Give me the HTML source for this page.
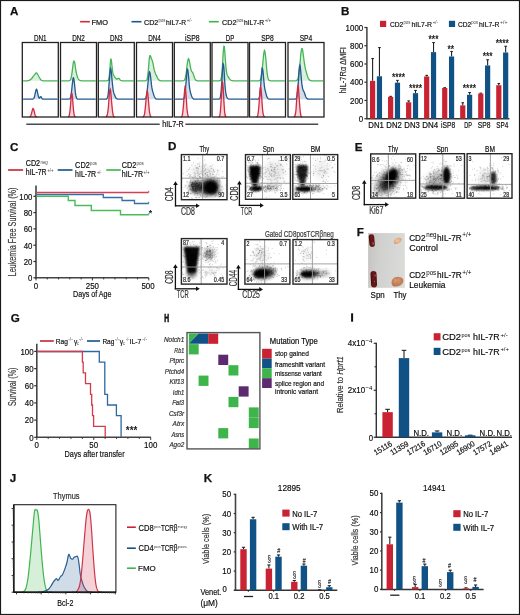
<!DOCTYPE html>
<html><head><meta charset="utf-8"><style>
html,body{margin:0;padding:0;background:#fff;}
svg{display:block;will-change:transform;}
text{font-family:"Liberation Sans", sans-serif;}
text:not([font-weight]){stroke:#2b2b2b;stroke-width:0.2px;}
tspan[font-size]{stroke-width:0.08px;}
</style></head><body>
<svg width="520" height="615" viewBox="0 0 520 615" font-family='"Liberation Sans", sans-serif'>
<rect x="0" y="0" width="520" height="615" fill="#fff"/>
<text x="10.00" y="15.00" font-size="11.6" font-weight="bold" fill="#111" stroke="#111" stroke-width="0.25">A</text>
<text x="341.00" y="15.00" font-size="11.6" font-weight="bold" fill="#111" stroke="#111" stroke-width="0.25">B</text>
<text x="10.00" y="150.80" font-size="11.6" font-weight="bold" fill="#111" stroke="#111" stroke-width="0.25">C</text>
<text x="168.00" y="150.40" font-size="11.6" font-weight="bold" fill="#111" stroke="#111" stroke-width="0.25">D</text>
<text x="354.70" y="150.60" font-size="11.6" font-weight="bold" fill="#111" stroke="#111" stroke-width="0.25">E</text>
<text x="356.70" y="236.00" font-size="11.6" font-weight="bold" fill="#111" stroke="#111" stroke-width="0.25">F</text>
<text x="10.80" y="321.90" font-size="11.6" font-weight="bold" fill="#111" stroke="#111" stroke-width="0.25">G</text>
<text x="164.30" y="321.70" font-size="11.8" textLength="4.90" lengthAdjust="spacingAndGlyphs" font-weight="bold" fill="#111" stroke="#111" stroke-width="0.7">H</text>
<rect x="351.10" y="313.30" width="2.00" height="8.40" fill="#111" />
<text x="9.70" y="481.60" font-size="11.6" font-weight="bold" fill="#111" stroke="#111" stroke-width="0.25">J</text>
<text x="203.80" y="481.90" font-size="11.6" font-weight="bold" fill="#111" stroke="#111" stroke-width="0.25">K</text>
<line x1="80.10" y1="21.70" x2="89.90" y2="21.70" stroke="#d42a3c" stroke-width="1.6" />
<text x="91.60" y="24.80" font-size="7.8" textLength="16.40" lengthAdjust="spacingAndGlyphs" >FMO</text>
<line x1="131.50" y1="21.70" x2="141.50" y2="21.70" stroke="#1f5590" stroke-width="1.6" />
<text x="144.00" y="24.60" font-size="7.9" textLength="14.30" lengthAdjust="spacingAndGlyphs" >CD2</text>
<text x="158.60" y="22.30" font-size="4.6" fill="#444" textLength="6.80" lengthAdjust="spacingAndGlyphs" style="stroke-width:0px" >pos</text>
<text x="166.00" y="24.60" font-size="7.9" textLength="20.10" lengthAdjust="spacingAndGlyphs" >hIL7-R</text>
<text x="186.70" y="22.00" font-size="4.6" fill="#444" textLength="5.20" lengthAdjust="spacingAndGlyphs" style="stroke-width:0px" >+/-</text>
<line x1="208.90" y1="21.70" x2="218.80" y2="21.70" stroke="#3db54a" stroke-width="1.6" />
<text x="222.00" y="24.60" font-size="7.9" textLength="14.40" lengthAdjust="spacingAndGlyphs" >CD2</text>
<text x="236.60" y="22.30" font-size="4.6" fill="#444" textLength="6.90" lengthAdjust="spacingAndGlyphs" style="stroke-width:0px" >pos</text>
<text x="244.00" y="24.60" font-size="7.9" textLength="20.10" lengthAdjust="spacingAndGlyphs" >hIL7-R</text>
<text x="264.70" y="22.00" font-size="4.6" fill="#444" textLength="6.60" lengthAdjust="spacingAndGlyphs" style="stroke-width:0px" >+/+</text>
<g>
<path d="M23.1,80.8 23.5,80.8 23.9,80.8 24.2,80.8 24.6,80.8 25.0,80.8 25.4,80.8 25.8,80.8 26.2,80.8 26.5,80.8 26.9,80.8 27.3,80.8 27.7,80.7 28.1,80.7 28.5,80.6 28.8,80.5 29.2,80.3 29.6,80.1 30.0,79.9 30.4,79.6 30.7,79.4 31.1,79.1 31.5,78.7 31.9,78.3 32.3,77.7 32.7,77.2 33.0,76.6 33.4,76.1 33.8,75.7 34.2,75.2 34.6,74.7 34.9,74.3 35.3,73.8 35.7,73.3 36.1,73.0 36.5,73.0 36.9,73.2 37.2,73.7 37.6,74.3 38.0,75.0 38.4,75.8 38.8,76.5 39.2,77.1 39.5,77.8 39.9,78.4 40.3,79.0 40.7,79.5 41.1,80.0 41.4,80.3 41.8,80.5 42.2,80.7 42.6,80.7 43.0,80.8 43.4,80.8 43.7,80.8 44.1,80.8 44.5,80.8 44.9,80.8 45.3,80.8 45.7,80.8 46.0,80.8 46.4,80.8 46.8,80.8 47.2,80.8 47.6,80.8 47.9,80.8 48.3,80.8 48.7,80.8 49.1,80.8 49.5,80.8 49.9,80.8 50.2,80.8 50.6,80.8 51.0,80.8 51.4,80.8 51.8,80.8 52.1,80.8 52.5,80.8 52.9,80.8 53.3,80.8 53.7,80.8 54.1,80.8 54.4,80.8 54.8,80.8 55.2,80.8 55.6,80.8 56.0,80.8 56.4,80.8 56.7,80.8 57.1,80.8 57.5,80.8 L57.50,80.80 L23.10,80.80Z" fill="#45b556" fill-opacity="0.2" stroke="none"/>
<path d="M23.1,80.8 23.5,80.8 23.9,80.8 24.2,80.8 24.6,80.8 25.0,80.8 25.4,80.8 25.8,80.8 26.2,80.8 26.5,80.8 26.9,80.8 27.3,80.8 27.7,80.7 28.1,80.7 28.5,80.6 28.8,80.5 29.2,80.3 29.6,80.1 30.0,79.9 30.4,79.6 30.7,79.4 31.1,79.1 31.5,78.7 31.9,78.3 32.3,77.7 32.7,77.2 33.0,76.6 33.4,76.1 33.8,75.7 34.2,75.2 34.6,74.7 34.9,74.3 35.3,73.8 35.7,73.3 36.1,73.0 36.5,73.0 36.9,73.2 37.2,73.7 37.6,74.3 38.0,75.0 38.4,75.8 38.8,76.5 39.2,77.1 39.5,77.8 39.9,78.4 40.3,79.0 40.7,79.5 41.1,80.0 41.4,80.3 41.8,80.5 42.2,80.7 42.6,80.7 43.0,80.8 43.4,80.8 43.7,80.8 44.1,80.8 44.5,80.8 44.9,80.8 45.3,80.8 45.7,80.8 46.0,80.8 46.4,80.8 46.8,80.8 47.2,80.8 47.6,80.8 47.9,80.8 48.3,80.8 48.7,80.8 49.1,80.8 49.5,80.8 49.9,80.8 50.2,80.8 50.6,80.8 51.0,80.8 51.4,80.8 51.8,80.8 52.1,80.8 52.5,80.8 52.9,80.8 53.3,80.8 53.7,80.8 54.1,80.8 54.4,80.8 54.8,80.8 55.2,80.8 55.6,80.8 56.0,80.8 56.4,80.8 56.7,80.8 57.1,80.8 57.5,80.8" fill="none" stroke="#45b556" stroke-width="1.3"/>
<path d="M23.1,99.2 23.5,99.2 23.9,99.2 24.2,99.2 24.6,99.2 25.0,99.2 25.4,99.2 25.8,99.2 26.2,99.2 26.5,99.2 26.9,99.2 27.3,99.2 27.7,99.2 28.1,99.2 28.5,99.2 28.8,99.2 29.2,99.2 29.6,99.2 30.0,99.2 30.4,99.2 30.7,99.2 31.1,99.2 31.5,99.2 31.9,99.2 32.3,99.2 32.7,99.1 33.0,99.0 33.4,98.8 33.8,98.4 34.2,97.6 34.6,96.5 34.9,94.9 35.3,93.0 35.7,91.1 36.1,89.8 36.5,89.2 36.9,89.6 37.2,90.9 37.6,92.8 38.0,94.6 38.4,96.3 38.8,97.4 39.2,98.0 39.5,98.0 39.9,97.6 40.3,97.0 40.7,96.6 41.1,96.7 41.4,97.3 41.8,98.1 42.2,98.7 42.6,99.0 43.0,99.1 43.4,99.2 43.7,99.2 44.1,99.2 44.5,99.2 44.9,99.2 45.3,99.2 45.7,99.2 46.0,99.2 46.4,99.2 46.8,99.2 47.2,99.2 47.6,99.2 47.9,99.2 48.3,99.2 48.7,99.2 49.1,99.2 49.5,99.2 49.9,99.2 50.2,99.2 50.6,99.2 51.0,99.2 51.4,99.2 51.8,99.2 52.1,99.2 52.5,99.2 52.9,99.2 53.3,99.2 53.7,99.2 54.1,99.2 54.4,99.2 54.8,99.2 55.2,99.2 55.6,99.2 56.0,99.2 56.4,99.2 56.7,99.2 57.1,99.2 57.5,99.2 L57.50,99.20 L23.10,99.20Z" fill="#22598f" fill-opacity="0.2" stroke="none"/>
<path d="M23.1,99.2 23.5,99.2 23.9,99.2 24.2,99.2 24.6,99.2 25.0,99.2 25.4,99.2 25.8,99.2 26.2,99.2 26.5,99.2 26.9,99.2 27.3,99.2 27.7,99.2 28.1,99.2 28.5,99.2 28.8,99.2 29.2,99.2 29.6,99.2 30.0,99.2 30.4,99.2 30.7,99.2 31.1,99.2 31.5,99.2 31.9,99.2 32.3,99.2 32.7,99.1 33.0,99.0 33.4,98.8 33.8,98.4 34.2,97.6 34.6,96.5 34.9,94.9 35.3,93.0 35.7,91.1 36.1,89.8 36.5,89.2 36.9,89.6 37.2,90.9 37.6,92.8 38.0,94.6 38.4,96.3 38.8,97.4 39.2,98.0 39.5,98.0 39.9,97.6 40.3,97.0 40.7,96.6 41.1,96.7 41.4,97.3 41.8,98.1 42.2,98.7 42.6,99.0 43.0,99.1 43.4,99.2 43.7,99.2 44.1,99.2 44.5,99.2 44.9,99.2 45.3,99.2 45.7,99.2 46.0,99.2 46.4,99.2 46.8,99.2 47.2,99.2 47.6,99.2 47.9,99.2 48.3,99.2 48.7,99.2 49.1,99.2 49.5,99.2 49.9,99.2 50.2,99.2 50.6,99.2 51.0,99.2 51.4,99.2 51.8,99.2 52.1,99.2 52.5,99.2 52.9,99.2 53.3,99.2 53.7,99.2 54.1,99.2 54.4,99.2 54.8,99.2 55.2,99.2 55.6,99.2 56.0,99.2 56.4,99.2 56.7,99.2 57.1,99.2 57.5,99.2" fill="none" stroke="#22598f" stroke-width="1.3"/>
<path d="M23.1,117.0 23.5,117.0 23.9,117.0 24.2,117.0 24.6,117.0 25.0,117.0 25.4,117.0 25.8,117.0 26.2,117.0 26.5,117.0 26.9,117.0 27.3,117.0 27.7,117.0 28.1,117.0 28.5,117.0 28.8,117.0 29.2,117.0 29.6,116.9 30.0,116.7 30.4,116.4 30.7,115.8 31.1,114.8 31.5,113.5 31.9,111.9 32.3,110.3 32.7,109.1 33.0,108.5 33.4,108.8 33.8,109.8 34.2,111.3 34.6,113.0 34.9,114.4 35.3,115.5 35.7,116.2 36.1,116.6 36.5,116.8 36.9,116.9 37.2,117.0 37.6,117.0 38.0,117.0 38.4,117.0 38.8,117.0 39.2,117.0 39.5,117.0 39.9,117.0 40.3,117.0 40.7,117.0 41.1,117.0 41.4,117.0 41.8,117.0 42.2,117.0 42.6,117.0 43.0,117.0 43.4,117.0 43.7,117.0 44.1,117.0 44.5,117.0 44.9,117.0 45.3,117.0 45.7,117.0 46.0,117.0 46.4,117.0 46.8,117.0 47.2,117.0 47.6,117.0 47.9,117.0 48.3,117.0 48.7,117.0 49.1,117.0 49.5,117.0 49.9,117.0 50.2,117.0 50.6,117.0 51.0,117.0 51.4,117.0 51.8,117.0 52.1,117.0 52.5,117.0 52.9,117.0 53.3,117.0 53.7,117.0 54.1,117.0 54.4,117.0 54.8,117.0 55.2,117.0 55.6,117.0 56.0,117.0 56.4,117.0 56.7,117.0 57.1,117.0 57.5,117.0 L57.50,117.00 L23.10,117.00Z" fill="#d22a40" fill-opacity="0.2" stroke="none"/>
<path d="M29.6,116.9 30.0,116.7 30.4,116.4 30.7,115.8 31.1,114.8 31.5,113.5 31.9,111.9 32.3,110.3 32.7,109.1 33.0,108.5 33.4,108.8 33.8,109.8 34.2,111.3 34.6,113.0 34.9,114.4 35.3,115.5 35.7,116.2 36.1,116.6 36.5,116.8 36.9,116.9" fill="none" stroke="#d22a40" stroke-width="1.3"/>
</g>
<rect x="22.30" y="42.50" width="36.00" height="74.50" fill="none" stroke="#222" stroke-width="1.3" />
<text x="40.30" y="41.00" font-size="9" text-anchor="middle" textLength="12.70" lengthAdjust="spacingAndGlyphs" >DN1</text>
<g>
<path d="M61.3,80.8 61.7,80.8 62.1,80.8 62.4,80.8 62.8,80.8 63.2,80.8 63.6,80.8 64.0,80.8 64.4,80.8 64.7,80.8 65.1,80.8 65.5,80.8 65.9,80.8 66.3,80.8 66.7,80.8 67.0,80.8 67.4,80.8 67.8,80.8 68.2,80.8 68.6,80.8 68.9,80.8 69.3,80.7 69.7,80.5 70.1,80.3 70.5,79.7 70.9,78.8 71.2,77.4 71.6,75.4 72.0,72.8 72.4,69.8 72.8,66.6 73.1,63.9 73.5,61.9 73.9,61.0 74.3,61.3 74.7,62.7 75.1,64.9 75.4,67.4 75.8,69.8 76.2,72.0 76.6,73.9 77.0,75.4 77.4,76.7 77.7,77.7 78.1,78.5 78.5,79.1 78.9,79.6 79.3,80.0 79.6,80.3 80.0,80.5 80.4,80.6 80.8,80.7 81.2,80.7 81.6,80.8 81.9,80.8 82.3,80.8 82.7,80.8 83.1,80.8 83.5,80.8 83.9,80.8 84.2,80.8 84.6,80.8 85.0,80.8 85.4,80.8 85.8,80.8 86.1,80.8 86.5,80.8 86.9,80.8 87.3,80.8 87.7,80.8 88.1,80.8 88.4,80.8 88.8,80.8 89.2,80.8 89.6,80.8 90.0,80.8 90.3,80.8 90.7,80.8 91.1,80.8 91.5,80.8 91.9,80.8 92.3,80.8 92.6,80.8 93.0,80.8 93.4,80.8 93.8,80.8 94.2,80.8 94.6,80.8 94.9,80.8 95.3,80.8 95.7,80.8 L95.70,80.80 L61.30,80.80Z" fill="#45b556" fill-opacity="0.2" stroke="none"/>
<path d="M61.3,80.8 61.7,80.8 62.1,80.8 62.4,80.8 62.8,80.8 63.2,80.8 63.6,80.8 64.0,80.8 64.4,80.8 64.7,80.8 65.1,80.8 65.5,80.8 65.9,80.8 66.3,80.8 66.7,80.8 67.0,80.8 67.4,80.8 67.8,80.8 68.2,80.8 68.6,80.8 68.9,80.8 69.3,80.7 69.7,80.5 70.1,80.3 70.5,79.7 70.9,78.8 71.2,77.4 71.6,75.4 72.0,72.8 72.4,69.8 72.8,66.6 73.1,63.9 73.5,61.9 73.9,61.0 74.3,61.3 74.7,62.7 75.1,64.9 75.4,67.4 75.8,69.8 76.2,72.0 76.6,73.9 77.0,75.4 77.4,76.7 77.7,77.7 78.1,78.5 78.5,79.1 78.9,79.6 79.3,80.0 79.6,80.3 80.0,80.5 80.4,80.6 80.8,80.7 81.2,80.7 81.6,80.8 81.9,80.8 82.3,80.8 82.7,80.8 83.1,80.8 83.5,80.8 83.9,80.8 84.2,80.8 84.6,80.8 85.0,80.8 85.4,80.8 85.8,80.8 86.1,80.8 86.5,80.8 86.9,80.8 87.3,80.8 87.7,80.8 88.1,80.8 88.4,80.8 88.8,80.8 89.2,80.8 89.6,80.8 90.0,80.8 90.3,80.8 90.7,80.8 91.1,80.8 91.5,80.8 91.9,80.8 92.3,80.8 92.6,80.8 93.0,80.8 93.4,80.8 93.8,80.8 94.2,80.8 94.6,80.8 94.9,80.8 95.3,80.8 95.7,80.8" fill="none" stroke="#45b556" stroke-width="1.3"/>
<path d="M61.3,99.2 61.7,99.2 62.1,99.2 62.4,99.2 62.8,99.2 63.2,99.2 63.6,99.2 64.0,99.2 64.4,99.2 64.7,99.2 65.1,99.2 65.5,99.2 65.9,99.2 66.3,99.2 66.7,99.2 67.0,99.2 67.4,99.2 67.8,99.2 68.2,99.2 68.6,99.2 68.9,99.1 69.3,99.0 69.7,98.8 70.1,98.4 70.5,97.5 70.9,96.0 71.2,93.8 71.6,90.8 72.0,87.1 72.4,83.4 72.8,80.1 73.1,78.1 73.5,77.8 73.9,79.3 74.3,82.2 74.7,85.9 75.1,89.7 75.4,92.9 75.8,95.4 76.2,97.1 76.6,98.1 77.0,98.7 77.4,99.0 77.7,99.1 78.1,99.2 78.5,99.2 78.9,99.2 79.3,99.2 79.6,99.2 80.0,99.2 80.4,99.2 80.8,99.2 81.2,99.2 81.6,99.2 81.9,99.2 82.3,99.2 82.7,99.2 83.1,99.2 83.5,99.2 83.9,99.2 84.2,99.2 84.6,99.2 85.0,99.2 85.4,99.2 85.8,99.2 86.1,99.2 86.5,99.2 86.9,99.2 87.3,99.2 87.7,99.2 88.1,99.2 88.4,99.2 88.8,99.2 89.2,99.2 89.6,99.2 90.0,99.2 90.3,99.2 90.7,99.2 91.1,99.2 91.5,99.2 91.9,99.2 92.3,99.2 92.6,99.2 93.0,99.2 93.4,99.2 93.8,99.2 94.2,99.2 94.6,99.2 94.9,99.2 95.3,99.2 95.7,99.2 L95.70,99.20 L61.30,99.20Z" fill="#22598f" fill-opacity="0.2" stroke="none"/>
<path d="M61.3,99.2 61.7,99.2 62.1,99.2 62.4,99.2 62.8,99.2 63.2,99.2 63.6,99.2 64.0,99.2 64.4,99.2 64.7,99.2 65.1,99.2 65.5,99.2 65.9,99.2 66.3,99.2 66.7,99.2 67.0,99.2 67.4,99.2 67.8,99.2 68.2,99.2 68.6,99.2 68.9,99.1 69.3,99.0 69.7,98.8 70.1,98.4 70.5,97.5 70.9,96.0 71.2,93.8 71.6,90.8 72.0,87.1 72.4,83.4 72.8,80.1 73.1,78.1 73.5,77.8 73.9,79.3 74.3,82.2 74.7,85.9 75.1,89.7 75.4,92.9 75.8,95.4 76.2,97.1 76.6,98.1 77.0,98.7 77.4,99.0 77.7,99.1 78.1,99.2 78.5,99.2 78.9,99.2 79.3,99.2 79.6,99.2 80.0,99.2 80.4,99.2 80.8,99.2 81.2,99.2 81.6,99.2 81.9,99.2 82.3,99.2 82.7,99.2 83.1,99.2 83.5,99.2 83.9,99.2 84.2,99.2 84.6,99.2 85.0,99.2 85.4,99.2 85.8,99.2 86.1,99.2 86.5,99.2 86.9,99.2 87.3,99.2 87.7,99.2 88.1,99.2 88.4,99.2 88.8,99.2 89.2,99.2 89.6,99.2 90.0,99.2 90.3,99.2 90.7,99.2 91.1,99.2 91.5,99.2 91.9,99.2 92.3,99.2 92.6,99.2 93.0,99.2 93.4,99.2 93.8,99.2 94.2,99.2 94.6,99.2 94.9,99.2 95.3,99.2 95.7,99.2" fill="none" stroke="#22598f" stroke-width="1.3"/>
<path d="M61.3,117.0 61.7,117.0 62.1,117.0 62.4,117.0 62.8,117.0 63.2,117.0 63.6,117.0 64.0,117.0 64.4,117.0 64.7,117.0 65.1,117.0 65.5,117.0 65.9,117.0 66.3,117.0 66.7,117.0 67.0,117.0 67.4,117.0 67.8,117.0 68.2,116.9 68.6,116.7 68.9,116.2 69.3,115.1 69.7,113.1 70.1,109.8 70.5,105.4 70.9,100.4 71.2,95.9 71.6,93.3 72.0,93.4 72.4,96.2 72.8,100.7 73.1,105.7 73.5,110.0 73.9,113.2 74.3,115.2 74.7,116.2 75.1,116.7 75.4,116.9 75.8,117.0 76.2,117.0 76.6,117.0 77.0,117.0 77.4,117.0 77.7,117.0 78.1,117.0 78.5,117.0 78.9,117.0 79.3,117.0 79.6,117.0 80.0,117.0 80.4,117.0 80.8,117.0 81.2,117.0 81.6,117.0 81.9,117.0 82.3,117.0 82.7,117.0 83.1,117.0 83.5,117.0 83.9,117.0 84.2,117.0 84.6,117.0 85.0,117.0 85.4,117.0 85.8,117.0 86.1,117.0 86.5,117.0 86.9,117.0 87.3,117.0 87.7,117.0 88.1,117.0 88.4,117.0 88.8,117.0 89.2,117.0 89.6,117.0 90.0,117.0 90.3,117.0 90.7,117.0 91.1,117.0 91.5,117.0 91.9,117.0 92.3,117.0 92.6,117.0 93.0,117.0 93.4,117.0 93.8,117.0 94.2,117.0 94.6,117.0 94.9,117.0 95.3,117.0 95.7,117.0 L95.70,117.00 L61.30,117.00Z" fill="#d22a40" fill-opacity="0.2" stroke="none"/>
<path d="M68.2,116.9 68.6,116.7 68.9,116.2 69.3,115.1 69.7,113.1 70.1,109.8 70.5,105.4 70.9,100.4 71.2,95.9 71.6,93.3 72.0,93.4 72.4,96.2 72.8,100.7 73.1,105.7 73.5,110.0 73.9,113.2 74.3,115.2 74.7,116.2 75.1,116.7 75.4,116.9" fill="none" stroke="#d22a40" stroke-width="1.3"/>
</g>
<rect x="60.50" y="42.50" width="36.00" height="74.50" fill="none" stroke="#222" stroke-width="1.3" />
<text x="78.50" y="41.00" font-size="9" text-anchor="middle" textLength="12.70" lengthAdjust="spacingAndGlyphs" >DN2</text>
<g>
<path d="M99.1,80.8 99.5,80.8 99.9,80.8 100.2,80.8 100.6,80.8 101.0,80.8 101.4,80.8 101.8,80.8 102.2,80.8 102.5,80.8 102.9,80.8 103.3,80.8 103.7,80.8 104.1,80.8 104.5,80.8 104.8,80.8 105.2,80.8 105.6,80.8 106.0,80.8 106.4,80.8 106.7,80.8 107.1,80.7 107.5,80.7 107.9,80.5 108.3,80.2 108.7,79.4 109.0,77.7 109.4,74.8 109.8,70.3 110.2,65.0 110.6,60.6 110.9,58.6 111.3,59.8 111.7,63.3 112.1,67.3 112.5,70.7 112.9,72.9 113.2,74.2 113.6,75.1 114.0,75.8 114.4,76.5 114.8,77.1 115.2,77.7 115.5,78.2 115.9,78.6 116.3,78.9 116.7,79.1 117.1,79.1 117.4,78.9 117.8,78.7 118.2,78.4 118.6,78.3 119.0,78.4 119.4,78.8 119.7,79.3 120.1,79.8 120.5,80.2 120.9,80.5 121.3,80.7 121.7,80.7 122.0,80.8 122.4,80.8 122.8,80.8 123.2,80.8 123.6,80.8 123.9,80.8 124.3,80.8 124.7,80.8 125.1,80.8 125.5,80.8 125.9,80.8 126.2,80.8 126.6,80.8 127.0,80.8 127.4,80.8 127.8,80.8 128.1,80.8 128.5,80.8 128.9,80.8 129.3,80.8 129.7,80.8 130.1,80.8 130.4,80.8 130.8,80.8 131.2,80.8 131.6,80.8 132.0,80.8 132.4,80.8 132.7,80.8 133.1,80.8 133.5,80.8 L133.50,80.80 L99.10,80.80Z" fill="#45b556" fill-opacity="0.2" stroke="none"/>
<path d="M99.1,80.8 99.5,80.8 99.9,80.8 100.2,80.8 100.6,80.8 101.0,80.8 101.4,80.8 101.8,80.8 102.2,80.8 102.5,80.8 102.9,80.8 103.3,80.8 103.7,80.8 104.1,80.8 104.5,80.8 104.8,80.8 105.2,80.8 105.6,80.8 106.0,80.8 106.4,80.8 106.7,80.8 107.1,80.7 107.5,80.7 107.9,80.5 108.3,80.2 108.7,79.4 109.0,77.7 109.4,74.8 109.8,70.3 110.2,65.0 110.6,60.6 110.9,58.6 111.3,59.8 111.7,63.3 112.1,67.3 112.5,70.7 112.9,72.9 113.2,74.2 113.6,75.1 114.0,75.8 114.4,76.5 114.8,77.1 115.2,77.7 115.5,78.2 115.9,78.6 116.3,78.9 116.7,79.1 117.1,79.1 117.4,78.9 117.8,78.7 118.2,78.4 118.6,78.3 119.0,78.4 119.4,78.8 119.7,79.3 120.1,79.8 120.5,80.2 120.9,80.5 121.3,80.7 121.7,80.7 122.0,80.8 122.4,80.8 122.8,80.8 123.2,80.8 123.6,80.8 123.9,80.8 124.3,80.8 124.7,80.8 125.1,80.8 125.5,80.8 125.9,80.8 126.2,80.8 126.6,80.8 127.0,80.8 127.4,80.8 127.8,80.8 128.1,80.8 128.5,80.8 128.9,80.8 129.3,80.8 129.7,80.8 130.1,80.8 130.4,80.8 130.8,80.8 131.2,80.8 131.6,80.8 132.0,80.8 132.4,80.8 132.7,80.8 133.1,80.8 133.5,80.8" fill="none" stroke="#45b556" stroke-width="1.3"/>
<path d="M99.1,99.2 99.5,99.2 99.9,99.2 100.2,99.2 100.6,99.2 101.0,99.2 101.4,99.2 101.8,99.2 102.2,99.2 102.5,99.2 102.9,99.2 103.3,99.2 103.7,99.2 104.1,99.2 104.5,99.2 104.8,99.2 105.2,99.2 105.6,99.2 106.0,99.1 106.4,99.1 106.7,98.8 107.1,98.4 107.5,97.4 107.9,95.8 108.3,93.1 108.7,89.4 109.0,84.6 109.4,79.2 109.8,74.1 110.2,70.3 110.6,68.5 110.9,69.1 111.3,71.8 111.7,76.0 112.1,80.5 112.5,84.7 112.9,88.0 113.2,90.5 113.6,92.2 114.0,93.5 114.4,94.6 114.8,95.5 115.2,96.4 115.5,97.2 115.9,97.8 116.3,98.3 116.7,98.7 117.1,98.9 117.4,99.0 117.8,99.1 118.2,99.2 118.6,99.2 119.0,99.2 119.4,99.2 119.7,99.2 120.1,99.2 120.5,99.2 120.9,99.2 121.3,99.2 121.7,99.2 122.0,99.2 122.4,99.2 122.8,99.2 123.2,99.2 123.6,99.2 123.9,99.2 124.3,99.2 124.7,99.2 125.1,99.2 125.5,99.2 125.9,99.2 126.2,99.2 126.6,99.2 127.0,99.2 127.4,99.2 127.8,99.2 128.1,99.2 128.5,99.2 128.9,99.2 129.3,99.2 129.7,99.2 130.1,99.2 130.4,99.2 130.8,99.2 131.2,99.2 131.6,99.2 132.0,99.2 132.4,99.2 132.7,99.2 133.1,99.2 133.5,99.2 L133.50,99.20 L99.10,99.20Z" fill="#22598f" fill-opacity="0.2" stroke="none"/>
<path d="M99.1,99.2 99.5,99.2 99.9,99.2 100.2,99.2 100.6,99.2 101.0,99.2 101.4,99.2 101.8,99.2 102.2,99.2 102.5,99.2 102.9,99.2 103.3,99.2 103.7,99.2 104.1,99.2 104.5,99.2 104.8,99.2 105.2,99.2 105.6,99.2 106.0,99.1 106.4,99.1 106.7,98.8 107.1,98.4 107.5,97.4 107.9,95.8 108.3,93.1 108.7,89.4 109.0,84.6 109.4,79.2 109.8,74.1 110.2,70.3 110.6,68.5 110.9,69.1 111.3,71.8 111.7,76.0 112.1,80.5 112.5,84.7 112.9,88.0 113.2,90.5 113.6,92.2 114.0,93.5 114.4,94.6 114.8,95.5 115.2,96.4 115.5,97.2 115.9,97.8 116.3,98.3 116.7,98.7 117.1,98.9 117.4,99.0 117.8,99.1 118.2,99.2 118.6,99.2 119.0,99.2 119.4,99.2 119.7,99.2 120.1,99.2 120.5,99.2 120.9,99.2 121.3,99.2 121.7,99.2 122.0,99.2 122.4,99.2 122.8,99.2 123.2,99.2 123.6,99.2 123.9,99.2 124.3,99.2 124.7,99.2 125.1,99.2 125.5,99.2 125.9,99.2 126.2,99.2 126.6,99.2 127.0,99.2 127.4,99.2 127.8,99.2 128.1,99.2 128.5,99.2 128.9,99.2 129.3,99.2 129.7,99.2 130.1,99.2 130.4,99.2 130.8,99.2 131.2,99.2 131.6,99.2 132.0,99.2 132.4,99.2 132.7,99.2 133.1,99.2 133.5,99.2" fill="none" stroke="#22598f" stroke-width="1.3"/>
<path d="M99.1,117.0 99.5,117.0 99.9,117.0 100.2,117.0 100.6,117.0 101.0,117.0 101.4,117.0 101.8,117.0 102.2,117.0 102.5,117.0 102.9,117.0 103.3,117.0 103.7,117.0 104.1,117.0 104.5,117.0 104.8,117.0 105.2,117.0 105.6,116.9 106.0,116.9 106.4,116.6 106.7,116.2 107.1,115.3 107.5,113.7 107.9,111.3 108.3,107.7 108.7,103.3 109.0,98.4 109.4,93.8 109.8,90.5 110.2,89.2 110.6,90.3 110.9,93.5 111.3,98.0 111.7,102.9 112.1,107.4 112.5,111.0 112.9,113.6 113.2,115.2 113.6,116.1 114.0,116.6 114.4,116.8 114.8,116.9 115.2,117.0 115.5,117.0 115.9,117.0 116.3,117.0 116.7,117.0 117.1,117.0 117.4,117.0 117.8,117.0 118.2,117.0 118.6,117.0 119.0,117.0 119.4,117.0 119.7,117.0 120.1,117.0 120.5,117.0 120.9,117.0 121.3,117.0 121.7,117.0 122.0,117.0 122.4,117.0 122.8,117.0 123.2,117.0 123.6,117.0 123.9,117.0 124.3,117.0 124.7,117.0 125.1,117.0 125.5,117.0 125.9,117.0 126.2,117.0 126.6,117.0 127.0,117.0 127.4,117.0 127.8,117.0 128.1,117.0 128.5,117.0 128.9,117.0 129.3,117.0 129.7,117.0 130.1,117.0 130.4,117.0 130.8,117.0 131.2,117.0 131.6,117.0 132.0,117.0 132.4,117.0 132.7,117.0 133.1,117.0 133.5,117.0 L133.50,117.00 L99.10,117.00Z" fill="#d22a40" fill-opacity="0.2" stroke="none"/>
<path d="M106.0,116.9 106.4,116.6 106.7,116.2 107.1,115.3 107.5,113.7 107.9,111.3 108.3,107.7 108.7,103.3 109.0,98.4 109.4,93.8 109.8,90.5 110.2,89.2 110.6,90.3 110.9,93.5 111.3,98.0 111.7,102.9 112.1,107.4 112.5,111.0 112.9,113.6 113.2,115.2 113.6,116.1 114.0,116.6 114.4,116.8 114.8,116.9" fill="none" stroke="#d22a40" stroke-width="1.3"/>
</g>
<rect x="98.30" y="42.50" width="36.00" height="74.50" fill="none" stroke="#222" stroke-width="1.3" />
<text x="116.30" y="41.00" font-size="9" text-anchor="middle" textLength="12.70" lengthAdjust="spacingAndGlyphs" >DN3</text>
<g>
<path d="M137.3,80.8 137.7,80.8 138.1,80.8 138.4,80.8 138.8,80.8 139.2,80.8 139.6,80.8 140.0,80.8 140.4,80.8 140.7,80.8 141.1,80.8 141.5,80.8 141.9,80.8 142.3,80.8 142.7,80.8 143.0,80.8 143.4,80.8 143.8,80.8 144.2,80.8 144.6,80.8 144.9,80.8 145.3,80.8 145.7,80.8 146.1,80.7 146.5,80.4 146.9,79.9 147.2,78.8 147.6,76.8 148.0,73.7 148.4,69.5 148.8,64.8 149.1,60.4 149.5,57.2 149.9,55.6 150.3,55.7 150.7,56.6 151.1,57.8 151.4,58.7 151.8,59.5 152.2,60.5 152.6,61.7 153.0,63.4 153.4,65.4 153.7,67.5 154.1,69.3 154.5,70.9 154.9,72.1 155.3,73.1 155.6,74.0 156.0,74.8 156.4,75.6 156.8,76.4 157.2,77.3 157.6,78.0 157.9,78.7 158.3,79.3 158.7,79.8 159.1,80.1 159.5,80.4 159.9,80.6 160.2,80.7 160.6,80.7 161.0,80.8 161.4,80.8 161.8,80.8 162.1,80.8 162.5,80.8 162.9,80.8 163.3,80.8 163.7,80.8 164.1,80.8 164.4,80.8 164.8,80.8 165.2,80.8 165.6,80.8 166.0,80.8 166.3,80.8 166.7,80.8 167.1,80.8 167.5,80.8 167.9,80.8 168.3,80.8 168.6,80.8 169.0,80.8 169.4,80.8 169.8,80.8 170.2,80.8 170.6,80.8 170.9,80.8 171.3,80.8 171.7,80.8 L171.70,80.80 L137.30,80.80Z" fill="#45b556" fill-opacity="0.2" stroke="none"/>
<path d="M137.3,80.8 137.7,80.8 138.1,80.8 138.4,80.8 138.8,80.8 139.2,80.8 139.6,80.8 140.0,80.8 140.4,80.8 140.7,80.8 141.1,80.8 141.5,80.8 141.9,80.8 142.3,80.8 142.7,80.8 143.0,80.8 143.4,80.8 143.8,80.8 144.2,80.8 144.6,80.8 144.9,80.8 145.3,80.8 145.7,80.8 146.1,80.7 146.5,80.4 146.9,79.9 147.2,78.8 147.6,76.8 148.0,73.7 148.4,69.5 148.8,64.8 149.1,60.4 149.5,57.2 149.9,55.6 150.3,55.7 150.7,56.6 151.1,57.8 151.4,58.7 151.8,59.5 152.2,60.5 152.6,61.7 153.0,63.4 153.4,65.4 153.7,67.5 154.1,69.3 154.5,70.9 154.9,72.1 155.3,73.1 155.6,74.0 156.0,74.8 156.4,75.6 156.8,76.4 157.2,77.3 157.6,78.0 157.9,78.7 158.3,79.3 158.7,79.8 159.1,80.1 159.5,80.4 159.9,80.6 160.2,80.7 160.6,80.7 161.0,80.8 161.4,80.8 161.8,80.8 162.1,80.8 162.5,80.8 162.9,80.8 163.3,80.8 163.7,80.8 164.1,80.8 164.4,80.8 164.8,80.8 165.2,80.8 165.6,80.8 166.0,80.8 166.3,80.8 166.7,80.8 167.1,80.8 167.5,80.8 167.9,80.8 168.3,80.8 168.6,80.8 169.0,80.8 169.4,80.8 169.8,80.8 170.2,80.8 170.6,80.8 170.9,80.8 171.3,80.8 171.7,80.8" fill="none" stroke="#45b556" stroke-width="1.3"/>
<path d="M137.3,99.2 137.7,99.2 138.1,99.2 138.4,99.2 138.8,99.2 139.2,99.2 139.6,99.2 140.0,99.2 140.4,99.2 140.7,99.2 141.1,99.2 141.5,99.2 141.9,99.2 142.3,99.2 142.7,99.2 143.0,99.2 143.4,99.2 143.8,99.2 144.2,99.1 144.6,99.1 144.9,98.9 145.3,98.6 145.7,98.1 146.1,97.2 146.5,95.7 146.9,93.5 147.2,90.5 147.6,86.9 148.0,82.8 148.4,78.7 148.8,75.2 149.1,72.8 149.5,71.9 149.9,72.6 150.3,74.7 150.7,77.8 151.1,81.2 151.4,84.4 151.8,87.2 152.2,89.3 152.6,91.0 153.0,92.4 153.4,93.6 153.7,94.7 154.1,95.8 154.5,96.7 154.9,97.5 155.3,98.1 155.6,98.6 156.0,98.8 156.4,99.0 156.8,99.1 157.2,99.2 157.6,99.2 157.9,99.2 158.3,99.2 158.7,99.2 159.1,99.2 159.5,99.2 159.9,99.2 160.2,99.2 160.6,99.2 161.0,99.2 161.4,99.2 161.8,99.2 162.1,99.2 162.5,99.2 162.9,99.2 163.3,99.2 163.7,99.2 164.1,99.2 164.4,99.2 164.8,99.2 165.2,99.2 165.6,99.2 166.0,99.2 166.3,99.2 166.7,99.2 167.1,99.2 167.5,99.2 167.9,99.2 168.3,99.2 168.6,99.2 169.0,99.2 169.4,99.2 169.8,99.2 170.2,99.2 170.6,99.2 170.9,99.2 171.3,99.2 171.7,99.2 L171.70,99.20 L137.30,99.20Z" fill="#22598f" fill-opacity="0.2" stroke="none"/>
<path d="M137.3,99.2 137.7,99.2 138.1,99.2 138.4,99.2 138.8,99.2 139.2,99.2 139.6,99.2 140.0,99.2 140.4,99.2 140.7,99.2 141.1,99.2 141.5,99.2 141.9,99.2 142.3,99.2 142.7,99.2 143.0,99.2 143.4,99.2 143.8,99.2 144.2,99.1 144.6,99.1 144.9,98.9 145.3,98.6 145.7,98.1 146.1,97.2 146.5,95.7 146.9,93.5 147.2,90.5 147.6,86.9 148.0,82.8 148.4,78.7 148.8,75.2 149.1,72.8 149.5,71.9 149.9,72.6 150.3,74.7 150.7,77.8 151.1,81.2 151.4,84.4 151.8,87.2 152.2,89.3 152.6,91.0 153.0,92.4 153.4,93.6 153.7,94.7 154.1,95.8 154.5,96.7 154.9,97.5 155.3,98.1 155.6,98.6 156.0,98.8 156.4,99.0 156.8,99.1 157.2,99.2 157.6,99.2 157.9,99.2 158.3,99.2 158.7,99.2 159.1,99.2 159.5,99.2 159.9,99.2 160.2,99.2 160.6,99.2 161.0,99.2 161.4,99.2 161.8,99.2 162.1,99.2 162.5,99.2 162.9,99.2 163.3,99.2 163.7,99.2 164.1,99.2 164.4,99.2 164.8,99.2 165.2,99.2 165.6,99.2 166.0,99.2 166.3,99.2 166.7,99.2 167.1,99.2 167.5,99.2 167.9,99.2 168.3,99.2 168.6,99.2 169.0,99.2 169.4,99.2 169.8,99.2 170.2,99.2 170.6,99.2 170.9,99.2 171.3,99.2 171.7,99.2" fill="none" stroke="#22598f" stroke-width="1.3"/>
<path d="M137.3,117.0 137.7,117.0 138.1,117.0 138.4,117.0 138.8,117.0 139.2,117.0 139.6,117.0 140.0,117.0 140.4,117.0 140.7,117.0 141.1,117.0 141.5,117.0 141.9,117.0 142.3,117.0 142.7,116.9 143.0,116.8 143.4,116.6 143.8,116.2 144.2,115.3 144.6,113.7 144.9,111.3 145.3,107.8 145.7,103.6 146.1,99.0 146.5,94.8 146.9,92.0 147.2,91.1 147.6,92.4 148.0,95.6 148.4,99.9 148.8,104.5 149.1,108.6 149.5,111.8 149.9,114.1 150.3,115.5 150.7,116.3 151.1,116.7 151.4,116.9 151.8,117.0 152.2,117.0 152.6,117.0 153.0,117.0 153.4,117.0 153.7,117.0 154.1,117.0 154.5,117.0 154.9,117.0 155.3,117.0 155.6,117.0 156.0,117.0 156.4,117.0 156.8,117.0 157.2,117.0 157.6,117.0 157.9,117.0 158.3,117.0 158.7,117.0 159.1,117.0 159.5,117.0 159.9,117.0 160.2,117.0 160.6,117.0 161.0,117.0 161.4,117.0 161.8,117.0 162.1,117.0 162.5,117.0 162.9,117.0 163.3,117.0 163.7,117.0 164.1,117.0 164.4,117.0 164.8,117.0 165.2,117.0 165.6,117.0 166.0,117.0 166.3,117.0 166.7,117.0 167.1,117.0 167.5,117.0 167.9,117.0 168.3,117.0 168.6,117.0 169.0,117.0 169.4,117.0 169.8,117.0 170.2,117.0 170.6,117.0 170.9,117.0 171.3,117.0 171.7,117.0 L171.70,117.00 L137.30,117.00Z" fill="#d22a40" fill-opacity="0.2" stroke="none"/>
<path d="M142.7,116.9 143.0,116.8 143.4,116.6 143.8,116.2 144.2,115.3 144.6,113.7 144.9,111.3 145.3,107.8 145.7,103.6 146.1,99.0 146.5,94.8 146.9,92.0 147.2,91.1 147.6,92.4 148.0,95.6 148.4,99.9 148.8,104.5 149.1,108.6 149.5,111.8 149.9,114.1 150.3,115.5 150.7,116.3 151.1,116.7 151.4,116.9" fill="none" stroke="#d22a40" stroke-width="1.3"/>
</g>
<rect x="136.50" y="42.50" width="36.00" height="74.50" fill="none" stroke="#222" stroke-width="1.3" />
<text x="154.50" y="41.00" font-size="9" text-anchor="middle" textLength="12.70" lengthAdjust="spacingAndGlyphs" >DN4</text>
<g>
<path d="M175.1,80.8 175.5,80.8 175.9,80.8 176.2,80.8 176.6,80.8 177.0,80.8 177.4,80.8 177.8,80.8 178.2,80.8 178.5,80.8 178.9,80.8 179.3,80.8 179.7,80.8 180.1,80.8 180.5,80.8 180.8,80.8 181.2,80.8 181.6,80.8 182.0,80.8 182.4,80.8 182.7,80.8 183.1,80.7 183.5,80.7 183.9,80.5 184.3,80.2 184.7,79.7 185.0,78.8 185.4,77.5 185.8,75.5 186.2,73.0 186.6,70.0 186.9,66.8 187.3,63.6 187.7,61.1 188.1,59.4 188.5,58.7 188.9,59.2 189.2,60.4 189.6,62.3 190.0,64.6 190.4,66.8 190.8,68.7 191.2,70.2 191.5,71.1 191.9,71.6 192.3,72.0 192.7,72.6 193.1,73.4 193.4,74.5 193.8,75.7 194.2,76.9 194.6,78.1 195.0,79.0 195.4,79.7 195.7,80.1 196.1,80.4 196.5,80.6 196.9,80.7 197.3,80.8 197.7,80.8 198.0,80.8 198.4,80.8 198.8,80.8 199.2,80.8 199.6,80.8 199.9,80.8 200.3,80.8 200.7,80.8 201.1,80.8 201.5,80.8 201.9,80.8 202.2,80.8 202.6,80.8 203.0,80.8 203.4,80.8 203.8,80.8 204.1,80.8 204.5,80.8 204.9,80.8 205.3,80.8 205.7,80.8 206.1,80.8 206.4,80.8 206.8,80.8 207.2,80.8 207.6,80.8 208.0,80.8 208.4,80.8 208.7,80.8 209.1,80.8 209.5,80.8 L209.50,80.80 L175.10,80.80Z" fill="#45b556" fill-opacity="0.2" stroke="none"/>
<path d="M175.1,80.8 175.5,80.8 175.9,80.8 176.2,80.8 176.6,80.8 177.0,80.8 177.4,80.8 177.8,80.8 178.2,80.8 178.5,80.8 178.9,80.8 179.3,80.8 179.7,80.8 180.1,80.8 180.5,80.8 180.8,80.8 181.2,80.8 181.6,80.8 182.0,80.8 182.4,80.8 182.7,80.8 183.1,80.7 183.5,80.7 183.9,80.5 184.3,80.2 184.7,79.7 185.0,78.8 185.4,77.5 185.8,75.5 186.2,73.0 186.6,70.0 186.9,66.8 187.3,63.6 187.7,61.1 188.1,59.4 188.5,58.7 188.9,59.2 189.2,60.4 189.6,62.3 190.0,64.6 190.4,66.8 190.8,68.7 191.2,70.2 191.5,71.1 191.9,71.6 192.3,72.0 192.7,72.6 193.1,73.4 193.4,74.5 193.8,75.7 194.2,76.9 194.6,78.1 195.0,79.0 195.4,79.7 195.7,80.1 196.1,80.4 196.5,80.6 196.9,80.7 197.3,80.8 197.7,80.8 198.0,80.8 198.4,80.8 198.8,80.8 199.2,80.8 199.6,80.8 199.9,80.8 200.3,80.8 200.7,80.8 201.1,80.8 201.5,80.8 201.9,80.8 202.2,80.8 202.6,80.8 203.0,80.8 203.4,80.8 203.8,80.8 204.1,80.8 204.5,80.8 204.9,80.8 205.3,80.8 205.7,80.8 206.1,80.8 206.4,80.8 206.8,80.8 207.2,80.8 207.6,80.8 208.0,80.8 208.4,80.8 208.7,80.8 209.1,80.8 209.5,80.8" fill="none" stroke="#45b556" stroke-width="1.3"/>
<path d="M175.1,99.2 175.5,99.2 175.9,99.2 176.2,99.2 176.6,99.2 177.0,99.2 177.4,99.2 177.8,99.2 178.2,99.2 178.5,99.2 178.9,99.2 179.3,99.2 179.7,99.2 180.1,99.2 180.5,99.2 180.8,99.2 181.2,99.2 181.6,99.2 182.0,99.2 182.4,99.2 182.7,99.2 183.1,99.1 183.5,98.9 183.9,98.4 184.3,97.6 184.7,96.0 185.0,93.5 185.4,89.9 185.8,85.3 186.2,80.1 186.6,75.0 186.9,71.1 187.3,69.1 187.7,69.5 188.1,72.0 188.5,75.9 188.9,80.3 189.2,84.4 189.6,87.8 190.0,90.3 190.4,92.1 190.8,93.6 191.2,94.8 191.5,95.8 191.9,96.8 192.3,97.6 192.7,98.2 193.1,98.6 193.4,98.9 193.8,99.0 194.2,99.1 194.6,99.2 195.0,99.2 195.4,99.2 195.7,99.2 196.1,99.2 196.5,99.2 196.9,99.2 197.3,99.2 197.7,99.2 198.0,99.2 198.4,99.2 198.8,99.2 199.2,99.2 199.6,99.2 199.9,99.2 200.3,99.2 200.7,99.2 201.1,99.2 201.5,99.2 201.9,99.2 202.2,99.2 202.6,99.2 203.0,99.2 203.4,99.2 203.8,99.2 204.1,99.2 204.5,99.2 204.9,99.2 205.3,99.2 205.7,99.2 206.1,99.2 206.4,99.2 206.8,99.2 207.2,99.2 207.6,99.2 208.0,99.2 208.4,99.2 208.7,99.2 209.1,99.2 209.5,99.2 L209.50,99.20 L175.10,99.20Z" fill="#22598f" fill-opacity="0.2" stroke="none"/>
<path d="M175.1,99.2 175.5,99.2 175.9,99.2 176.2,99.2 176.6,99.2 177.0,99.2 177.4,99.2 177.8,99.2 178.2,99.2 178.5,99.2 178.9,99.2 179.3,99.2 179.7,99.2 180.1,99.2 180.5,99.2 180.8,99.2 181.2,99.2 181.6,99.2 182.0,99.2 182.4,99.2 182.7,99.2 183.1,99.1 183.5,98.9 183.9,98.4 184.3,97.6 184.7,96.0 185.0,93.5 185.4,89.9 185.8,85.3 186.2,80.1 186.6,75.0 186.9,71.1 187.3,69.1 187.7,69.5 188.1,72.0 188.5,75.9 188.9,80.3 189.2,84.4 189.6,87.8 190.0,90.3 190.4,92.1 190.8,93.6 191.2,94.8 191.5,95.8 191.9,96.8 192.3,97.6 192.7,98.2 193.1,98.6 193.4,98.9 193.8,99.0 194.2,99.1 194.6,99.2 195.0,99.2 195.4,99.2 195.7,99.2 196.1,99.2 196.5,99.2 196.9,99.2 197.3,99.2 197.7,99.2 198.0,99.2 198.4,99.2 198.8,99.2 199.2,99.2 199.6,99.2 199.9,99.2 200.3,99.2 200.7,99.2 201.1,99.2 201.5,99.2 201.9,99.2 202.2,99.2 202.6,99.2 203.0,99.2 203.4,99.2 203.8,99.2 204.1,99.2 204.5,99.2 204.9,99.2 205.3,99.2 205.7,99.2 206.1,99.2 206.4,99.2 206.8,99.2 207.2,99.2 207.6,99.2 208.0,99.2 208.4,99.2 208.7,99.2 209.1,99.2 209.5,99.2" fill="none" stroke="#22598f" stroke-width="1.3"/>
<path d="M175.1,117.0 175.5,117.0 175.9,117.0 176.2,117.0 176.6,117.0 177.0,117.0 177.4,117.0 177.8,117.0 178.2,117.0 178.5,117.0 178.9,117.0 179.3,117.0 179.7,117.0 180.1,117.0 180.5,117.0 180.8,116.9 181.2,116.8 181.6,116.6 182.0,116.0 182.4,114.8 182.7,112.7 183.1,109.3 183.5,104.7 183.9,99.2 184.3,93.7 184.7,89.4 185.0,87.4 185.4,88.4 185.8,92.1 186.2,97.3 186.6,103.0 186.9,108.0 187.3,111.7 187.7,114.2 188.1,115.7 188.5,116.4 188.9,116.8 189.2,116.9 189.6,117.0 190.0,117.0 190.4,117.0 190.8,117.0 191.2,117.0 191.5,117.0 191.9,117.0 192.3,117.0 192.7,117.0 193.1,117.0 193.4,117.0 193.8,117.0 194.2,117.0 194.6,117.0 195.0,117.0 195.4,117.0 195.7,117.0 196.1,117.0 196.5,117.0 196.9,117.0 197.3,117.0 197.7,117.0 198.0,117.0 198.4,117.0 198.8,117.0 199.2,117.0 199.6,117.0 199.9,117.0 200.3,117.0 200.7,117.0 201.1,117.0 201.5,117.0 201.9,117.0 202.2,117.0 202.6,117.0 203.0,117.0 203.4,117.0 203.8,117.0 204.1,117.0 204.5,117.0 204.9,117.0 205.3,117.0 205.7,117.0 206.1,117.0 206.4,117.0 206.8,117.0 207.2,117.0 207.6,117.0 208.0,117.0 208.4,117.0 208.7,117.0 209.1,117.0 209.5,117.0 L209.50,117.00 L175.10,117.00Z" fill="#d22a40" fill-opacity="0.2" stroke="none"/>
<path d="M180.8,116.9 181.2,116.8 181.6,116.6 182.0,116.0 182.4,114.8 182.7,112.7 183.1,109.3 183.5,104.7 183.9,99.2 184.3,93.7 184.7,89.4 185.0,87.4 185.4,88.4 185.8,92.1 186.2,97.3 186.6,103.0 186.9,108.0 187.3,111.7 187.7,114.2 188.1,115.7 188.5,116.4 188.9,116.8 189.2,116.9" fill="none" stroke="#d22a40" stroke-width="1.3"/>
</g>
<rect x="174.30" y="42.50" width="36.00" height="74.50" fill="none" stroke="#222" stroke-width="1.3" />
<text x="192.30" y="41.00" font-size="9" text-anchor="middle" textLength="14.50" lengthAdjust="spacingAndGlyphs" >iSP8</text>
<g>
<path d="M212.8,80.8 213.2,80.8 213.6,80.8 213.9,80.8 214.3,80.8 214.7,80.8 215.1,80.8 215.5,80.8 215.9,80.8 216.2,80.8 216.6,80.8 217.0,80.8 217.4,80.8 217.8,80.8 218.2,80.8 218.5,80.8 218.9,80.8 219.3,80.8 219.7,80.7 220.1,80.6 220.4,80.4 220.8,79.7 221.2,78.5 221.6,76.2 222.0,72.6 222.4,67.5 222.7,61.2 223.1,54.7 223.5,49.2 223.9,46.2 224.3,46.4 224.6,49.5 225.0,54.6 225.4,60.4 225.8,65.6 226.2,69.7 226.6,72.4 226.9,74.2 227.3,75.3 227.7,76.0 228.1,76.6 228.5,77.2 228.9,77.8 229.2,78.4 229.6,78.9 230.0,79.4 230.4,79.8 230.8,80.1 231.1,80.3 231.5,80.5 231.9,80.6 232.3,80.7 232.7,80.7 233.1,80.8 233.4,80.8 233.8,80.8 234.2,80.8 234.6,80.8 235.0,80.8 235.4,80.8 235.7,80.8 236.1,80.8 236.5,80.8 236.9,80.8 237.3,80.8 237.6,80.8 238.0,80.8 238.4,80.8 238.8,80.8 239.2,80.8 239.6,80.8 239.9,80.8 240.3,80.8 240.7,80.8 241.1,80.8 241.5,80.8 241.8,80.8 242.2,80.8 242.6,80.8 243.0,80.8 243.4,80.8 243.8,80.8 244.1,80.8 244.5,80.8 244.9,80.8 245.3,80.8 245.7,80.8 246.1,80.8 246.4,80.8 246.8,80.8 247.2,80.8 L247.20,80.80 L212.80,80.80Z" fill="#45b556" fill-opacity="0.2" stroke="none"/>
<path d="M212.8,80.8 213.2,80.8 213.6,80.8 213.9,80.8 214.3,80.8 214.7,80.8 215.1,80.8 215.5,80.8 215.9,80.8 216.2,80.8 216.6,80.8 217.0,80.8 217.4,80.8 217.8,80.8 218.2,80.8 218.5,80.8 218.9,80.8 219.3,80.8 219.7,80.7 220.1,80.6 220.4,80.4 220.8,79.7 221.2,78.5 221.6,76.2 222.0,72.6 222.4,67.5 222.7,61.2 223.1,54.7 223.5,49.2 223.9,46.2 224.3,46.4 224.6,49.5 225.0,54.6 225.4,60.4 225.8,65.6 226.2,69.7 226.6,72.4 226.9,74.2 227.3,75.3 227.7,76.0 228.1,76.6 228.5,77.2 228.9,77.8 229.2,78.4 229.6,78.9 230.0,79.4 230.4,79.8 230.8,80.1 231.1,80.3 231.5,80.5 231.9,80.6 232.3,80.7 232.7,80.7 233.1,80.8 233.4,80.8 233.8,80.8 234.2,80.8 234.6,80.8 235.0,80.8 235.4,80.8 235.7,80.8 236.1,80.8 236.5,80.8 236.9,80.8 237.3,80.8 237.6,80.8 238.0,80.8 238.4,80.8 238.8,80.8 239.2,80.8 239.6,80.8 239.9,80.8 240.3,80.8 240.7,80.8 241.1,80.8 241.5,80.8 241.8,80.8 242.2,80.8 242.6,80.8 243.0,80.8 243.4,80.8 243.8,80.8 244.1,80.8 244.5,80.8 244.9,80.8 245.3,80.8 245.7,80.8 246.1,80.8 246.4,80.8 246.8,80.8 247.2,80.8" fill="none" stroke="#45b556" stroke-width="1.3"/>
<path d="M212.8,99.2 213.2,99.2 213.6,99.2 213.9,99.2 214.3,99.2 214.7,99.2 215.1,99.2 215.5,99.2 215.9,99.2 216.2,99.2 216.6,99.2 217.0,99.2 217.4,99.2 217.8,99.2 218.2,99.2 218.5,99.2 218.9,99.1 219.3,99.0 219.7,98.7 220.1,98.1 220.4,96.7 220.8,94.2 221.2,90.4 221.6,84.9 222.0,78.4 222.4,71.7 222.7,66.4 223.1,63.7 223.5,64.4 223.9,68.1 224.3,73.7 224.6,79.9 225.0,85.5 225.4,89.8 225.8,92.9 226.2,95.0 226.6,96.4 226.9,97.3 227.3,98.0 227.7,98.5 228.1,98.8 228.5,99.0 228.9,99.1 229.2,99.2 229.6,99.2 230.0,99.2 230.4,99.2 230.8,99.2 231.1,99.2 231.5,99.2 231.9,99.2 232.3,99.2 232.7,99.2 233.1,99.2 233.4,99.2 233.8,99.2 234.2,99.2 234.6,99.2 235.0,99.2 235.4,99.2 235.7,99.2 236.1,99.2 236.5,99.2 236.9,99.2 237.3,99.2 237.6,99.2 238.0,99.2 238.4,99.2 238.8,99.2 239.2,99.2 239.6,99.2 239.9,99.2 240.3,99.2 240.7,99.2 241.1,99.2 241.5,99.2 241.8,99.2 242.2,99.2 242.6,99.2 243.0,99.2 243.4,99.2 243.8,99.2 244.1,99.2 244.5,99.2 244.9,99.2 245.3,99.2 245.7,99.2 246.1,99.2 246.4,99.2 246.8,99.2 247.2,99.2 L247.20,99.20 L212.80,99.20Z" fill="#22598f" fill-opacity="0.2" stroke="none"/>
<path d="M212.8,99.2 213.2,99.2 213.6,99.2 213.9,99.2 214.3,99.2 214.7,99.2 215.1,99.2 215.5,99.2 215.9,99.2 216.2,99.2 216.6,99.2 217.0,99.2 217.4,99.2 217.8,99.2 218.2,99.2 218.5,99.2 218.9,99.1 219.3,99.0 219.7,98.7 220.1,98.1 220.4,96.7 220.8,94.2 221.2,90.4 221.6,84.9 222.0,78.4 222.4,71.7 222.7,66.4 223.1,63.7 223.5,64.4 223.9,68.1 224.3,73.7 224.6,79.9 225.0,85.5 225.4,89.8 225.8,92.9 226.2,95.0 226.6,96.4 226.9,97.3 227.3,98.0 227.7,98.5 228.1,98.8 228.5,99.0 228.9,99.1 229.2,99.2 229.6,99.2 230.0,99.2 230.4,99.2 230.8,99.2 231.1,99.2 231.5,99.2 231.9,99.2 232.3,99.2 232.7,99.2 233.1,99.2 233.4,99.2 233.8,99.2 234.2,99.2 234.6,99.2 235.0,99.2 235.4,99.2 235.7,99.2 236.1,99.2 236.5,99.2 236.9,99.2 237.3,99.2 237.6,99.2 238.0,99.2 238.4,99.2 238.8,99.2 239.2,99.2 239.6,99.2 239.9,99.2 240.3,99.2 240.7,99.2 241.1,99.2 241.5,99.2 241.8,99.2 242.2,99.2 242.6,99.2 243.0,99.2 243.4,99.2 243.8,99.2 244.1,99.2 244.5,99.2 244.9,99.2 245.3,99.2 245.7,99.2 246.1,99.2 246.4,99.2 246.8,99.2 247.2,99.2" fill="none" stroke="#22598f" stroke-width="1.3"/>
<path d="M212.8,117.0 213.2,117.0 213.6,117.0 213.9,117.0 214.3,117.0 214.7,117.0 215.1,117.0 215.5,117.0 215.9,117.0 216.2,117.0 216.6,117.0 217.0,117.0 217.4,117.0 217.8,117.0 218.2,117.0 218.5,116.9 218.9,116.8 219.3,116.5 219.7,115.7 220.1,114.0 220.4,110.9 220.8,105.9 221.2,99.3 221.6,92.0 222.0,85.6 222.4,82.1 222.7,82.6 223.1,87.0 223.5,93.8 223.9,101.1 224.3,107.3 224.6,111.8 225.0,114.5 225.4,115.9 225.8,116.6 226.2,116.9 226.6,117.0 226.9,117.0 227.3,117.0 227.7,117.0 228.1,117.0 228.5,117.0 228.9,117.0 229.2,117.0 229.6,117.0 230.0,117.0 230.4,117.0 230.8,117.0 231.1,117.0 231.5,117.0 231.9,117.0 232.3,117.0 232.7,117.0 233.1,117.0 233.4,117.0 233.8,117.0 234.2,117.0 234.6,117.0 235.0,117.0 235.4,117.0 235.7,117.0 236.1,117.0 236.5,117.0 236.9,117.0 237.3,117.0 237.6,117.0 238.0,117.0 238.4,117.0 238.8,117.0 239.2,117.0 239.6,117.0 239.9,117.0 240.3,117.0 240.7,117.0 241.1,117.0 241.5,117.0 241.8,117.0 242.2,117.0 242.6,117.0 243.0,117.0 243.4,117.0 243.8,117.0 244.1,117.0 244.5,117.0 244.9,117.0 245.3,117.0 245.7,117.0 246.1,117.0 246.4,117.0 246.8,117.0 247.2,117.0 L247.20,117.00 L212.80,117.00Z" fill="#d22a40" fill-opacity="0.2" stroke="none"/>
<path d="M218.5,116.9 218.9,116.8 219.3,116.5 219.7,115.7 220.1,114.0 220.4,110.9 220.8,105.9 221.2,99.3 221.6,92.0 222.0,85.6 222.4,82.1 222.7,82.6 223.1,87.0 223.5,93.8 223.9,101.1 224.3,107.3 224.6,111.8 225.0,114.5 225.4,115.9 225.8,116.6 226.2,116.9" fill="none" stroke="#d22a40" stroke-width="1.3"/>
</g>
<rect x="212.00" y="42.50" width="36.00" height="74.50" fill="none" stroke="#222" stroke-width="1.3" />
<text x="230.00" y="41.00" font-size="9" text-anchor="middle" textLength="8.50" lengthAdjust="spacingAndGlyphs" >DP</text>
<g>
<path d="M250.3,80.8 250.7,80.8 251.1,80.8 251.4,80.8 251.8,80.8 252.2,80.8 252.6,80.8 253.0,80.8 253.4,80.8 253.7,80.8 254.1,80.8 254.5,80.8 254.9,80.8 255.3,80.8 255.7,80.8 256.0,80.8 256.4,80.8 256.8,80.8 257.2,80.8 257.6,80.8 257.9,80.8 258.3,80.8 258.7,80.8 259.1,80.7 259.5,80.6 259.9,80.4 260.2,79.9 260.6,79.2 261.0,78.0 261.4,76.2 261.8,73.8 262.1,70.5 262.5,66.6 262.9,62.3 263.3,58.0 263.7,54.2 264.1,51.6 264.4,50.5 264.8,51.1 265.2,53.3 265.6,56.8 266.0,60.9 266.4,65.3 266.7,69.4 267.1,72.9 267.5,75.6 267.9,77.6 268.3,78.9 268.6,79.7 269.0,80.2 269.4,80.5 269.8,80.7 270.2,80.7 270.6,80.8 270.9,80.8 271.3,80.8 271.7,80.8 272.1,80.8 272.5,80.8 272.9,80.8 273.2,80.8 273.6,80.8 274.0,80.8 274.4,80.8 274.8,80.8 275.1,80.8 275.5,80.8 275.9,80.8 276.3,80.8 276.7,80.8 277.1,80.8 277.4,80.8 277.8,80.8 278.2,80.8 278.6,80.8 279.0,80.8 279.3,80.8 279.7,80.8 280.1,80.8 280.5,80.8 280.9,80.8 281.3,80.8 281.6,80.8 282.0,80.8 282.4,80.8 282.8,80.8 283.2,80.8 283.6,80.8 283.9,80.8 284.3,80.8 284.7,80.8 L284.70,80.80 L250.30,80.80Z" fill="#45b556" fill-opacity="0.2" stroke="none"/>
<path d="M250.3,80.8 250.7,80.8 251.1,80.8 251.4,80.8 251.8,80.8 252.2,80.8 252.6,80.8 253.0,80.8 253.4,80.8 253.7,80.8 254.1,80.8 254.5,80.8 254.9,80.8 255.3,80.8 255.7,80.8 256.0,80.8 256.4,80.8 256.8,80.8 257.2,80.8 257.6,80.8 257.9,80.8 258.3,80.8 258.7,80.8 259.1,80.7 259.5,80.6 259.9,80.4 260.2,79.9 260.6,79.2 261.0,78.0 261.4,76.2 261.8,73.8 262.1,70.5 262.5,66.6 262.9,62.3 263.3,58.0 263.7,54.2 264.1,51.6 264.4,50.5 264.8,51.1 265.2,53.3 265.6,56.8 266.0,60.9 266.4,65.3 266.7,69.4 267.1,72.9 267.5,75.6 267.9,77.6 268.3,78.9 268.6,79.7 269.0,80.2 269.4,80.5 269.8,80.7 270.2,80.7 270.6,80.8 270.9,80.8 271.3,80.8 271.7,80.8 272.1,80.8 272.5,80.8 272.9,80.8 273.2,80.8 273.6,80.8 274.0,80.8 274.4,80.8 274.8,80.8 275.1,80.8 275.5,80.8 275.9,80.8 276.3,80.8 276.7,80.8 277.1,80.8 277.4,80.8 277.8,80.8 278.2,80.8 278.6,80.8 279.0,80.8 279.3,80.8 279.7,80.8 280.1,80.8 280.5,80.8 280.9,80.8 281.3,80.8 281.6,80.8 282.0,80.8 282.4,80.8 282.8,80.8 283.2,80.8 283.6,80.8 283.9,80.8 284.3,80.8 284.7,80.8" fill="none" stroke="#45b556" stroke-width="1.3"/>
<path d="M250.3,99.2 250.7,99.2 251.1,99.2 251.4,99.2 251.8,99.2 252.2,99.2 252.6,99.2 253.0,99.2 253.4,99.2 253.7,99.2 254.1,99.2 254.5,99.2 254.9,99.2 255.3,99.2 255.7,99.2 256.0,99.2 256.4,99.2 256.8,99.2 257.2,99.2 257.6,99.2 257.9,99.1 258.3,99.0 258.7,98.8 259.1,98.2 259.5,97.0 259.9,94.8 260.2,91.5 260.6,86.8 261.0,81.1 261.4,75.4 261.8,70.7 262.1,68.1 262.5,68.2 262.9,70.6 263.3,74.6 263.7,79.0 264.1,83.0 264.4,86.2 264.8,88.6 265.2,90.6 265.6,92.2 266.0,93.7 266.4,95.1 266.7,96.3 267.1,97.2 267.5,98.0 267.9,98.5 268.3,98.8 268.6,99.0 269.0,99.1 269.4,99.2 269.8,99.2 270.2,99.2 270.6,99.2 270.9,99.2 271.3,99.2 271.7,99.2 272.1,99.2 272.5,99.2 272.9,99.2 273.2,99.2 273.6,99.2 274.0,99.2 274.4,99.2 274.8,99.2 275.1,99.2 275.5,99.2 275.9,99.2 276.3,99.2 276.7,99.2 277.1,99.2 277.4,99.2 277.8,99.2 278.2,99.2 278.6,99.2 279.0,99.2 279.3,99.2 279.7,99.2 280.1,99.2 280.5,99.2 280.9,99.2 281.3,99.2 281.6,99.2 282.0,99.2 282.4,99.2 282.8,99.2 283.2,99.2 283.6,99.2 283.9,99.2 284.3,99.2 284.7,99.2 L284.70,99.20 L250.30,99.20Z" fill="#22598f" fill-opacity="0.2" stroke="none"/>
<path d="M250.3,99.2 250.7,99.2 251.1,99.2 251.4,99.2 251.8,99.2 252.2,99.2 252.6,99.2 253.0,99.2 253.4,99.2 253.7,99.2 254.1,99.2 254.5,99.2 254.9,99.2 255.3,99.2 255.7,99.2 256.0,99.2 256.4,99.2 256.8,99.2 257.2,99.2 257.6,99.2 257.9,99.1 258.3,99.0 258.7,98.8 259.1,98.2 259.5,97.0 259.9,94.8 260.2,91.5 260.6,86.8 261.0,81.1 261.4,75.4 261.8,70.7 262.1,68.1 262.5,68.2 262.9,70.6 263.3,74.6 263.7,79.0 264.1,83.0 264.4,86.2 264.8,88.6 265.2,90.6 265.6,92.2 266.0,93.7 266.4,95.1 266.7,96.3 267.1,97.2 267.5,98.0 267.9,98.5 268.3,98.8 268.6,99.0 269.0,99.1 269.4,99.2 269.8,99.2 270.2,99.2 270.6,99.2 270.9,99.2 271.3,99.2 271.7,99.2 272.1,99.2 272.5,99.2 272.9,99.2 273.2,99.2 273.6,99.2 274.0,99.2 274.4,99.2 274.8,99.2 275.1,99.2 275.5,99.2 275.9,99.2 276.3,99.2 276.7,99.2 277.1,99.2 277.4,99.2 277.8,99.2 278.2,99.2 278.6,99.2 279.0,99.2 279.3,99.2 279.7,99.2 280.1,99.2 280.5,99.2 280.9,99.2 281.3,99.2 281.6,99.2 282.0,99.2 282.4,99.2 282.8,99.2 283.2,99.2 283.6,99.2 283.9,99.2 284.3,99.2 284.7,99.2" fill="none" stroke="#22598f" stroke-width="1.3"/>
<path d="M250.3,117.0 250.7,117.0 251.1,117.0 251.4,117.0 251.8,117.0 252.2,117.0 252.6,117.0 253.0,117.0 253.4,117.0 253.7,117.0 254.1,117.0 254.5,117.0 254.9,117.0 255.3,117.0 255.7,117.0 256.0,117.0 256.4,116.9 256.8,116.8 257.2,116.5 257.6,115.8 257.9,114.4 258.3,112.0 258.7,108.3 259.1,103.3 259.5,97.6 259.9,92.2 260.2,88.2 260.6,86.9 261.0,88.5 261.4,92.7 261.8,98.2 262.1,103.9 262.5,108.8 262.9,112.3 263.3,114.6 263.7,115.9 264.1,116.5 264.4,116.8 264.8,116.9 265.2,117.0 265.6,117.0 266.0,117.0 266.4,117.0 266.7,117.0 267.1,117.0 267.5,117.0 267.9,117.0 268.3,117.0 268.6,117.0 269.0,117.0 269.4,117.0 269.8,117.0 270.2,117.0 270.6,117.0 270.9,117.0 271.3,117.0 271.7,117.0 272.1,117.0 272.5,117.0 272.9,117.0 273.2,117.0 273.6,117.0 274.0,117.0 274.4,117.0 274.8,117.0 275.1,117.0 275.5,117.0 275.9,117.0 276.3,117.0 276.7,117.0 277.1,117.0 277.4,117.0 277.8,117.0 278.2,117.0 278.6,117.0 279.0,117.0 279.3,117.0 279.7,117.0 280.1,117.0 280.5,117.0 280.9,117.0 281.3,117.0 281.6,117.0 282.0,117.0 282.4,117.0 282.8,117.0 283.2,117.0 283.6,117.0 283.9,117.0 284.3,117.0 284.7,117.0 L284.70,117.00 L250.30,117.00Z" fill="#d22a40" fill-opacity="0.2" stroke="none"/>
<path d="M256.4,116.9 256.8,116.8 257.2,116.5 257.6,115.8 257.9,114.4 258.3,112.0 258.7,108.3 259.1,103.3 259.5,97.6 259.9,92.2 260.2,88.2 260.6,86.9 261.0,88.5 261.4,92.7 261.8,98.2 262.1,103.9 262.5,108.8 262.9,112.3 263.3,114.6 263.7,115.9 264.1,116.5 264.4,116.8 264.8,116.9" fill="none" stroke="#d22a40" stroke-width="1.3"/>
</g>
<rect x="249.50" y="42.50" width="36.00" height="74.50" fill="none" stroke="#222" stroke-width="1.3" />
<text x="267.50" y="41.00" font-size="9" text-anchor="middle" textLength="12.70" lengthAdjust="spacingAndGlyphs" >SP8</text>
<g>
<path d="M288.8,80.8 289.2,80.8 289.6,80.8 289.9,80.8 290.3,80.8 290.7,80.8 291.1,80.8 291.5,80.8 291.9,80.8 292.2,80.8 292.6,80.8 293.0,80.8 293.4,80.8 293.8,80.8 294.2,80.8 294.5,80.8 294.9,80.8 295.3,80.8 295.7,80.8 296.1,80.7 296.4,80.6 296.8,80.4 297.2,80.0 297.6,79.4 298.0,78.4 298.4,76.9 298.7,74.8 299.1,72.1 299.5,68.6 299.9,64.6 300.3,60.4 300.6,56.3 301.0,52.7 301.4,50.1 301.8,48.7 302.2,48.7 302.6,49.9 302.9,52.1 303.3,54.9 303.7,58.0 304.1,61.0 304.5,63.6 304.9,66.0 305.2,67.9 305.6,69.6 306.0,71.1 306.4,72.4 306.8,73.8 307.1,75.0 307.5,76.1 307.9,77.2 308.3,78.1 308.7,78.8 309.1,79.4 309.4,79.8 309.8,80.2 310.2,80.4 310.6,80.6 311.0,80.7 311.4,80.7 311.7,80.8 312.1,80.8 312.5,80.8 312.9,80.8 313.3,80.8 313.6,80.8 314.0,80.8 314.4,80.8 314.8,80.8 315.2,80.8 315.6,80.8 315.9,80.8 316.3,80.8 316.7,80.8 317.1,80.8 317.5,80.8 317.8,80.8 318.2,80.8 318.6,80.8 319.0,80.8 319.4,80.8 319.8,80.8 320.1,80.8 320.5,80.8 320.9,80.8 321.3,80.8 321.7,80.8 322.1,80.8 322.4,80.8 322.8,80.8 323.2,80.8 L323.20,80.80 L288.80,80.80Z" fill="#45b556" fill-opacity="0.2" stroke="none"/>
<path d="M288.8,80.8 289.2,80.8 289.6,80.8 289.9,80.8 290.3,80.8 290.7,80.8 291.1,80.8 291.5,80.8 291.9,80.8 292.2,80.8 292.6,80.8 293.0,80.8 293.4,80.8 293.8,80.8 294.2,80.8 294.5,80.8 294.9,80.8 295.3,80.8 295.7,80.8 296.1,80.7 296.4,80.6 296.8,80.4 297.2,80.0 297.6,79.4 298.0,78.4 298.4,76.9 298.7,74.8 299.1,72.1 299.5,68.6 299.9,64.6 300.3,60.4 300.6,56.3 301.0,52.7 301.4,50.1 301.8,48.7 302.2,48.7 302.6,49.9 302.9,52.1 303.3,54.9 303.7,58.0 304.1,61.0 304.5,63.6 304.9,66.0 305.2,67.9 305.6,69.6 306.0,71.1 306.4,72.4 306.8,73.8 307.1,75.0 307.5,76.1 307.9,77.2 308.3,78.1 308.7,78.8 309.1,79.4 309.4,79.8 309.8,80.2 310.2,80.4 310.6,80.6 311.0,80.7 311.4,80.7 311.7,80.8 312.1,80.8 312.5,80.8 312.9,80.8 313.3,80.8 313.6,80.8 314.0,80.8 314.4,80.8 314.8,80.8 315.2,80.8 315.6,80.8 315.9,80.8 316.3,80.8 316.7,80.8 317.1,80.8 317.5,80.8 317.8,80.8 318.2,80.8 318.6,80.8 319.0,80.8 319.4,80.8 319.8,80.8 320.1,80.8 320.5,80.8 320.9,80.8 321.3,80.8 321.7,80.8 322.1,80.8 322.4,80.8 322.8,80.8 323.2,80.8" fill="none" stroke="#45b556" stroke-width="1.3"/>
<path d="M288.8,99.2 289.2,99.2 289.6,99.2 289.9,99.2 290.3,99.2 290.7,99.2 291.1,99.2 291.5,99.2 291.9,99.2 292.2,99.2 292.6,99.2 293.0,99.2 293.4,99.2 293.8,99.2 294.2,99.2 294.5,99.2 294.9,99.2 295.3,99.1 295.7,99.0 296.1,98.7 296.4,98.0 296.8,96.8 297.2,94.7 297.6,91.4 298.0,86.8 298.4,81.3 298.7,75.3 299.1,70.0 299.5,66.3 299.9,65.1 300.3,66.5 300.6,69.9 301.0,74.6 301.4,79.3 301.8,83.4 302.2,86.3 302.6,88.3 302.9,89.5 303.3,90.4 303.7,91.2 304.1,92.1 304.5,93.1 304.9,94.2 305.2,95.3 305.6,96.3 306.0,97.1 306.4,97.8 306.8,98.3 307.1,98.7 307.5,98.9 307.9,99.0 308.3,99.1 308.7,99.2 309.1,99.2 309.4,99.2 309.8,99.2 310.2,99.2 310.6,99.2 311.0,99.2 311.4,99.2 311.7,99.2 312.1,99.2 312.5,99.2 312.9,99.2 313.3,99.2 313.6,99.2 314.0,99.2 314.4,99.2 314.8,99.2 315.2,99.2 315.6,99.2 315.9,99.2 316.3,99.2 316.7,99.2 317.1,99.2 317.5,99.2 317.8,99.2 318.2,99.2 318.6,99.2 319.0,99.2 319.4,99.2 319.8,99.2 320.1,99.2 320.5,99.2 320.9,99.2 321.3,99.2 321.7,99.2 322.1,99.2 322.4,99.2 322.8,99.2 323.2,99.2 L323.20,99.20 L288.80,99.20Z" fill="#22598f" fill-opacity="0.2" stroke="none"/>
<path d="M288.8,99.2 289.2,99.2 289.6,99.2 289.9,99.2 290.3,99.2 290.7,99.2 291.1,99.2 291.5,99.2 291.9,99.2 292.2,99.2 292.6,99.2 293.0,99.2 293.4,99.2 293.8,99.2 294.2,99.2 294.5,99.2 294.9,99.2 295.3,99.1 295.7,99.0 296.1,98.7 296.4,98.0 296.8,96.8 297.2,94.7 297.6,91.4 298.0,86.8 298.4,81.3 298.7,75.3 299.1,70.0 299.5,66.3 299.9,65.1 300.3,66.5 300.6,69.9 301.0,74.6 301.4,79.3 301.8,83.4 302.2,86.3 302.6,88.3 302.9,89.5 303.3,90.4 303.7,91.2 304.1,92.1 304.5,93.1 304.9,94.2 305.2,95.3 305.6,96.3 306.0,97.1 306.4,97.8 306.8,98.3 307.1,98.7 307.5,98.9 307.9,99.0 308.3,99.1 308.7,99.2 309.1,99.2 309.4,99.2 309.8,99.2 310.2,99.2 310.6,99.2 311.0,99.2 311.4,99.2 311.7,99.2 312.1,99.2 312.5,99.2 312.9,99.2 313.3,99.2 313.6,99.2 314.0,99.2 314.4,99.2 314.8,99.2 315.2,99.2 315.6,99.2 315.9,99.2 316.3,99.2 316.7,99.2 317.1,99.2 317.5,99.2 317.8,99.2 318.2,99.2 318.6,99.2 319.0,99.2 319.4,99.2 319.8,99.2 320.1,99.2 320.5,99.2 320.9,99.2 321.3,99.2 321.7,99.2 322.1,99.2 322.4,99.2 322.8,99.2 323.2,99.2" fill="none" stroke="#22598f" stroke-width="1.3"/>
<path d="M288.8,117.0 289.2,117.0 289.6,117.0 289.9,117.0 290.3,117.0 290.7,117.0 291.1,117.0 291.5,117.0 291.9,117.0 292.2,117.0 292.6,117.0 293.0,117.0 293.4,117.0 293.8,116.9 294.2,116.8 294.5,116.5 294.9,115.9 295.3,114.5 295.7,112.2 296.1,108.5 296.4,103.5 296.8,97.7 297.2,91.9 297.6,87.6 298.0,85.8 298.4,87.1 298.7,91.2 299.1,96.8 299.5,102.7 299.9,107.9 300.3,111.8 300.6,114.3 301.0,115.7 301.4,116.5 301.8,116.8 302.2,116.9 302.6,117.0 302.9,117.0 303.3,117.0 303.7,117.0 304.1,117.0 304.5,117.0 304.9,117.0 305.2,117.0 305.6,117.0 306.0,117.0 306.4,117.0 306.8,117.0 307.1,117.0 307.5,117.0 307.9,117.0 308.3,117.0 308.7,117.0 309.1,117.0 309.4,117.0 309.8,117.0 310.2,117.0 310.6,117.0 311.0,117.0 311.4,117.0 311.7,117.0 312.1,117.0 312.5,117.0 312.9,117.0 313.3,117.0 313.6,117.0 314.0,117.0 314.4,117.0 314.8,117.0 315.2,117.0 315.6,117.0 315.9,117.0 316.3,117.0 316.7,117.0 317.1,117.0 317.5,117.0 317.8,117.0 318.2,117.0 318.6,117.0 319.0,117.0 319.4,117.0 319.8,117.0 320.1,117.0 320.5,117.0 320.9,117.0 321.3,117.0 321.7,117.0 322.1,117.0 322.4,117.0 322.8,117.0 323.2,117.0 L323.20,117.00 L288.80,117.00Z" fill="#d22a40" fill-opacity="0.2" stroke="none"/>
<path d="M293.8,116.9 294.2,116.8 294.5,116.5 294.9,115.9 295.3,114.5 295.7,112.2 296.1,108.5 296.4,103.5 296.8,97.7 297.2,91.9 297.6,87.6 298.0,85.8 298.4,87.1 298.7,91.2 299.1,96.8 299.5,102.7 299.9,107.9 300.3,111.8 300.6,114.3 301.0,115.7 301.4,116.5 301.8,116.8 302.2,116.9" fill="none" stroke="#d22a40" stroke-width="1.3"/>
</g>
<rect x="288.00" y="42.50" width="36.00" height="74.50" fill="none" stroke="#222" stroke-width="1.3" />
<text x="306.00" y="41.00" font-size="9" text-anchor="middle" textLength="12.70" lengthAdjust="spacingAndGlyphs" >SP4</text>
<line x1="26.30" y1="124.20" x2="159.70" y2="124.20" stroke="#4a4a4a" stroke-width="1.4" />
<line x1="185.40" y1="124.20" x2="318.20" y2="124.20" stroke="#4a4a4a" stroke-width="1.4" />
<text x="162.30" y="126.80" font-size="8.6" textLength="21.50" lengthAdjust="spacingAndGlyphs" >hIL7-R</text>
<rect x="380.00" y="20.80" width="6.20" height="6.20" fill="#c92232" />
<text x="390.00" y="26.60" font-size="7.9" textLength="13.30" lengthAdjust="spacingAndGlyphs" >CD2</text>
<text x="403.50" y="24.30" font-size="4.6" fill="#444" textLength="6.80" lengthAdjust="spacingAndGlyphs" style="stroke-width:0px" >pos</text>
<text x="411.40" y="26.60" font-size="7.9" textLength="20.70" lengthAdjust="spacingAndGlyphs" >hIL7-R</text>
<text x="432.70" y="24.00" font-size="4.6" fill="#444" textLength="5.20" lengthAdjust="spacingAndGlyphs" style="stroke-width:0px" >+/-</text>
<rect x="448.90" y="20.80" width="6.20" height="6.20" fill="#115286" />
<text x="457.90" y="26.60" font-size="7.9" textLength="13.20" lengthAdjust="spacingAndGlyphs" >CD2</text>
<text x="471.30" y="24.30" font-size="4.6" fill="#444" textLength="6.70" lengthAdjust="spacingAndGlyphs" style="stroke-width:0px" >pos</text>
<text x="479.00" y="26.60" font-size="7.9" textLength="20.40" lengthAdjust="spacingAndGlyphs" >hIL7-R</text>
<text x="500.00" y="24.00" font-size="4.6" fill="#444" textLength="7.50" lengthAdjust="spacingAndGlyphs" style="stroke-width:0px" >+/+</text>
<line x1="366.90" y1="26.90" x2="366.90" y2="118.70" stroke="#333" stroke-width="1.4" />
<line x1="366.20" y1="118.70" x2="509.40" y2="118.70" stroke="#333" stroke-width="1.4" />
<line x1="364.40" y1="118.70" x2="366.90" y2="118.70" stroke="#333" stroke-width="1.2" />
<text x="363.20" y="121.90" font-size="9" text-anchor="end" textLength="4.40" lengthAdjust="spacingAndGlyphs" >0</text>
<line x1="364.40" y1="100.46" x2="366.90" y2="100.46" stroke="#333" stroke-width="1.2" />
<text x="363.20" y="103.66" font-size="9" text-anchor="end" textLength="13.20" lengthAdjust="spacingAndGlyphs" >200</text>
<line x1="364.40" y1="82.22" x2="366.90" y2="82.22" stroke="#333" stroke-width="1.2" />
<text x="363.20" y="85.42" font-size="9" text-anchor="end" textLength="13.20" lengthAdjust="spacingAndGlyphs" >400</text>
<line x1="364.40" y1="63.98" x2="366.90" y2="63.98" stroke="#333" stroke-width="1.2" />
<text x="363.20" y="67.18" font-size="9" text-anchor="end" textLength="13.20" lengthAdjust="spacingAndGlyphs" >600</text>
<line x1="364.40" y1="45.74" x2="366.90" y2="45.74" stroke="#333" stroke-width="1.2" />
<text x="363.20" y="48.94" font-size="9" text-anchor="end" textLength="13.20" lengthAdjust="spacingAndGlyphs" >800</text>
<line x1="364.40" y1="27.50" x2="366.90" y2="27.50" stroke="#333" stroke-width="1.2" />
<text x="363.20" y="30.70" font-size="9" text-anchor="end" textLength="17.60" lengthAdjust="spacingAndGlyphs" >1000</text>
<text x="346.30" y="70.40" font-size="9.4" text-anchor="middle" textLength="46.40" lengthAdjust="spacingAndGlyphs" fill="#333" transform="rotate(-90 346.30 70.40)" >hIL-7Rα ΔMFI</text>
<line x1="372.60" y1="58.51" x2="372.60" y2="80.85" stroke="#222" stroke-width="1.1" />
<line x1="371.30" y1="58.51" x2="373.90" y2="58.51" stroke="#222" stroke-width="1.1" />
<rect x="370.00" y="80.85" width="5.20" height="37.85" fill="#c92232" />
<line x1="379.45" y1="47.56" x2="379.45" y2="76.29" stroke="#222" stroke-width="1.1" />
<line x1="378.15" y1="47.56" x2="380.75" y2="47.56" stroke="#222" stroke-width="1.1" />
<rect x="376.85" y="76.29" width="5.20" height="42.41" fill="#115286" />
<text x="376.05" y="127.70" font-size="8.6" text-anchor="middle" textLength="15.50" lengthAdjust="spacingAndGlyphs" >DN1</text>
<line x1="390.63" y1="96.36" x2="390.63" y2="96.81" stroke="#222" stroke-width="1.1" />
<line x1="389.33" y1="96.36" x2="391.93" y2="96.36" stroke="#222" stroke-width="1.1" />
<rect x="388.03" y="96.81" width="5.20" height="21.89" fill="#c92232" />
<line x1="397.48" y1="80.40" x2="397.48" y2="82.68" stroke="#222" stroke-width="1.1" />
<line x1="396.18" y1="80.40" x2="398.78" y2="80.40" stroke="#222" stroke-width="1.1" />
<rect x="394.88" y="82.68" width="5.20" height="36.02" fill="#115286" />
<text x="394.08" y="127.70" font-size="8.6" text-anchor="middle" textLength="15.50" lengthAdjust="spacingAndGlyphs" >DN2</text>
<line x1="408.66" y1="100.92" x2="408.66" y2="102.28" stroke="#222" stroke-width="1.1" />
<line x1="407.36" y1="100.92" x2="409.96" y2="100.92" stroke="#222" stroke-width="1.1" />
<rect x="406.06" y="102.28" width="5.20" height="16.42" fill="#c92232" />
<line x1="415.51" y1="90.43" x2="415.51" y2="93.16" stroke="#222" stroke-width="1.1" />
<line x1="414.21" y1="90.43" x2="416.81" y2="90.43" stroke="#222" stroke-width="1.1" />
<rect x="412.91" y="93.16" width="5.20" height="25.54" fill="#115286" />
<text x="412.11" y="127.70" font-size="8.6" text-anchor="middle" textLength="15.50" lengthAdjust="spacingAndGlyphs" >DN3</text>
<line x1="426.69" y1="75.38" x2="426.69" y2="76.47" stroke="#222" stroke-width="1.1" />
<line x1="425.39" y1="75.38" x2="427.99" y2="75.38" stroke="#222" stroke-width="1.1" />
<rect x="424.09" y="76.47" width="5.20" height="42.23" fill="#c92232" />
<line x1="433.54" y1="42.55" x2="433.54" y2="52.12" stroke="#222" stroke-width="1.1" />
<line x1="432.24" y1="42.55" x2="434.84" y2="42.55" stroke="#222" stroke-width="1.1" />
<rect x="430.94" y="52.12" width="5.20" height="66.58" fill="#115286" />
<text x="430.14" y="127.70" font-size="8.6" text-anchor="middle" textLength="15.90" lengthAdjust="spacingAndGlyphs" >DN4</text>
<line x1="444.72" y1="87.69" x2="444.72" y2="87.97" stroke="#222" stroke-width="1.1" />
<line x1="443.42" y1="87.69" x2="446.02" y2="87.69" stroke="#222" stroke-width="1.1" />
<rect x="442.12" y="87.97" width="5.20" height="30.73" fill="#c92232" />
<line x1="451.57" y1="51.49" x2="451.57" y2="56.50" stroke="#222" stroke-width="1.1" />
<line x1="450.27" y1="51.49" x2="452.87" y2="51.49" stroke="#222" stroke-width="1.1" />
<rect x="448.97" y="56.50" width="5.20" height="62.20" fill="#115286" />
<text x="448.17" y="127.70" font-size="8.6" text-anchor="middle" textLength="14.10" lengthAdjust="spacingAndGlyphs" >iSP8</text>
<line x1="462.75" y1="102.74" x2="462.75" y2="105.38" stroke="#222" stroke-width="1.1" />
<line x1="461.45" y1="102.74" x2="464.05" y2="102.74" stroke="#222" stroke-width="1.1" />
<rect x="460.15" y="105.38" width="5.20" height="13.32" fill="#c92232" />
<line x1="469.60" y1="92.53" x2="469.60" y2="94.81" stroke="#222" stroke-width="1.1" />
<line x1="468.30" y1="92.53" x2="470.90" y2="92.53" stroke="#222" stroke-width="1.1" />
<rect x="467.00" y="94.81" width="5.20" height="23.89" fill="#115286" />
<text x="468.20" y="127.70" font-size="8.6" text-anchor="middle" textLength="7.70" lengthAdjust="spacingAndGlyphs" >DP</text>
<line x1="480.78" y1="93.16" x2="480.78" y2="93.53" stroke="#222" stroke-width="1.1" />
<line x1="479.48" y1="93.16" x2="482.08" y2="93.16" stroke="#222" stroke-width="1.1" />
<rect x="478.18" y="93.53" width="5.20" height="25.17" fill="#c92232" />
<line x1="487.63" y1="59.78" x2="487.63" y2="65.44" stroke="#222" stroke-width="1.1" />
<line x1="486.33" y1="59.78" x2="488.93" y2="59.78" stroke="#222" stroke-width="1.1" />
<rect x="485.03" y="65.44" width="5.20" height="53.26" fill="#115286" />
<text x="484.23" y="127.70" font-size="8.6" text-anchor="middle" textLength="12.80" lengthAdjust="spacingAndGlyphs" >SP8</text>
<line x1="498.81" y1="83.50" x2="498.81" y2="85.23" stroke="#222" stroke-width="1.1" />
<line x1="497.51" y1="83.50" x2="500.11" y2="83.50" stroke="#222" stroke-width="1.1" />
<rect x="496.21" y="85.23" width="5.20" height="33.47" fill="#c92232" />
<line x1="505.66" y1="46.29" x2="505.66" y2="52.49" stroke="#222" stroke-width="1.1" />
<line x1="504.36" y1="46.29" x2="506.96" y2="46.29" stroke="#222" stroke-width="1.1" />
<rect x="503.06" y="52.49" width="5.20" height="66.21" fill="#115286" />
<text x="502.26" y="127.70" font-size="8.6" text-anchor="middle" textLength="12.00" lengthAdjust="spacingAndGlyphs" >SP4</text>
<text x="398.50" y="81.00" font-size="10" text-anchor="middle" textLength="13.20" lengthAdjust="spacingAndGlyphs" font-weight="bold" fill="#222" >****</text>
<text x="415.50" y="91.70" font-size="10" text-anchor="middle" textLength="13.20" lengthAdjust="spacingAndGlyphs" font-weight="bold" fill="#222" >****</text>
<text x="433.50" y="42.60" font-size="10" text-anchor="middle" textLength="9.90" lengthAdjust="spacingAndGlyphs" font-weight="bold" fill="#222" >***</text>
<text x="450.80" y="52.50" font-size="10" text-anchor="middle" textLength="6.60" lengthAdjust="spacingAndGlyphs" font-weight="bold" fill="#222" >**</text>
<text x="469.40" y="91.60" font-size="10" text-anchor="middle" textLength="13.20" lengthAdjust="spacingAndGlyphs" font-weight="bold" fill="#222" >****</text>
<text x="487.70" y="60.20" font-size="10" text-anchor="middle" textLength="9.90" lengthAdjust="spacingAndGlyphs" font-weight="bold" fill="#222" >***</text>
<text x="502.30" y="47.30" font-size="10" text-anchor="middle" textLength="13.20" lengthAdjust="spacingAndGlyphs" font-weight="bold" fill="#222" >****</text>
<line x1="8.10" y1="170.00" x2="23.10" y2="170.00" stroke="#c92232" stroke-width="1.6" />
<text x="25.80" y="166.20" font-size="8.3" textLength="14.30" lengthAdjust="spacingAndGlyphs" >CD2</text>
<text x="40.50" y="163.80" font-size="4.9" fill="#444" textLength="7.30" lengthAdjust="spacingAndGlyphs" style="stroke-width:0px" >neg</text>
<text x="25.80" y="174.90" font-size="8.3" textLength="20.80" lengthAdjust="spacingAndGlyphs" >hIL-7R</text>
<text x="47.40" y="172.30" font-size="4.9" fill="#444" textLength="6.10" lengthAdjust="spacingAndGlyphs" style="stroke-width:0px" >+/+</text>
<line x1="57.70" y1="170.00" x2="72.50" y2="170.00" stroke="#115286" stroke-width="1.6" />
<text x="75.10" y="167.80" font-size="8.3" textLength="14.70" lengthAdjust="spacingAndGlyphs" >CD2</text>
<text x="90.10" y="165.40" font-size="4.9" fill="#444" textLength="6.90" lengthAdjust="spacingAndGlyphs" style="stroke-width:0px" >pos</text>
<text x="75.10" y="176.80" font-size="8.3" textLength="21.10" lengthAdjust="spacingAndGlyphs" >hIL-7R</text>
<text x="97.00" y="174.20" font-size="4.9" fill="#444" textLength="4.60" lengthAdjust="spacingAndGlyphs" style="stroke-width:0px" >+/-</text>
<line x1="106.20" y1="170.00" x2="120.80" y2="170.00" stroke="#3db54a" stroke-width="1.6" />
<text x="121.80" y="167.80" font-size="8.3" textLength="14.50" lengthAdjust="spacingAndGlyphs" >CD2</text>
<text x="136.50" y="165.40" font-size="4.9" fill="#444" textLength="7.30" lengthAdjust="spacingAndGlyphs" style="stroke-width:0px" >pos</text>
<text x="121.80" y="176.80" font-size="8.3" textLength="21.20" lengthAdjust="spacingAndGlyphs" >hIL-7R</text>
<text x="143.40" y="174.20" font-size="4.9" fill="#444" textLength="6.10" lengthAdjust="spacingAndGlyphs" style="stroke-width:0px" >+/+</text>
<line x1="36.00" y1="185.60" x2="36.00" y2="278.50" stroke="#444" stroke-width="1.6" />
<line x1="35.30" y1="277.80" x2="148.80" y2="277.80" stroke="#444" stroke-width="1.6" />
<line x1="33.40" y1="277.80" x2="36.00" y2="277.80" stroke="#333" stroke-width="1.2" />
<text x="32.40" y="281.10" font-size="9.6" text-anchor="end" textLength="4.35" lengthAdjust="spacingAndGlyphs" >0</text>
<line x1="33.40" y1="261.50" x2="36.00" y2="261.50" stroke="#333" stroke-width="1.2" />
<text x="32.40" y="264.80" font-size="9.6" text-anchor="end" textLength="8.70" lengthAdjust="spacingAndGlyphs" >20</text>
<line x1="33.40" y1="245.20" x2="36.00" y2="245.20" stroke="#333" stroke-width="1.2" />
<text x="32.40" y="248.50" font-size="9.6" text-anchor="end" textLength="8.70" lengthAdjust="spacingAndGlyphs" >40</text>
<line x1="33.40" y1="228.90" x2="36.00" y2="228.90" stroke="#333" stroke-width="1.2" />
<text x="32.40" y="232.20" font-size="9.6" text-anchor="end" textLength="8.70" lengthAdjust="spacingAndGlyphs" >60</text>
<line x1="33.40" y1="212.60" x2="36.00" y2="212.60" stroke="#333" stroke-width="1.2" />
<text x="32.40" y="215.90" font-size="9.6" text-anchor="end" textLength="8.70" lengthAdjust="spacingAndGlyphs" >80</text>
<line x1="33.40" y1="196.30" x2="36.00" y2="196.30" stroke="#333" stroke-width="1.2" />
<text x="32.40" y="199.60" font-size="9.6" text-anchor="end" textLength="13.05" lengthAdjust="spacingAndGlyphs" >100</text>
<line x1="36.00" y1="277.80" x2="36.00" y2="280.40" stroke="#333" stroke-width="1.0" />
<line x1="47.28" y1="277.80" x2="47.28" y2="279.40" stroke="#333" stroke-width="1.0" />
<line x1="58.56" y1="277.80" x2="58.56" y2="279.40" stroke="#333" stroke-width="1.0" />
<line x1="69.84" y1="277.80" x2="69.84" y2="279.40" stroke="#333" stroke-width="1.0" />
<line x1="81.12" y1="277.80" x2="81.12" y2="279.40" stroke="#333" stroke-width="1.0" />
<line x1="92.40" y1="277.80" x2="92.40" y2="280.40" stroke="#333" stroke-width="1.0" />
<line x1="103.68" y1="277.80" x2="103.68" y2="279.40" stroke="#333" stroke-width="1.0" />
<line x1="114.96" y1="277.80" x2="114.96" y2="279.40" stroke="#333" stroke-width="1.0" />
<line x1="126.24" y1="277.80" x2="126.24" y2="279.40" stroke="#333" stroke-width="1.0" />
<line x1="137.52" y1="277.80" x2="137.52" y2="279.40" stroke="#333" stroke-width="1.0" />
<line x1="148.80" y1="277.80" x2="148.80" y2="280.40" stroke="#333" stroke-width="1.0" />
<text x="36.00" y="288.60" font-size="9.6" text-anchor="middle" textLength="4.40" lengthAdjust="spacingAndGlyphs" >0</text>
<text x="92.40" y="288.60" font-size="9.6" text-anchor="middle" textLength="13.20" lengthAdjust="spacingAndGlyphs" >250</text>
<text x="148.00" y="288.60" font-size="9.6" text-anchor="middle" textLength="13.20" lengthAdjust="spacingAndGlyphs" >500</text>
<text x="92.30" y="297.30" font-size="9.4" text-anchor="middle" textLength="38.50" lengthAdjust="spacingAndGlyphs" >Days of Age</text>
<text x="16.00" y="232.00" font-size="10.4" text-anchor="middle" textLength="88.60" lengthAdjust="spacingAndGlyphs" fill="#444" transform="rotate(-90 16.00 232.00)" >Leukemia Free Survival (%)</text>
<path d="M36.60,192.50 L148.70,192.50" stroke="#d64050" stroke-width="1.3" fill="none" />
<line x1="148.70" y1="190.80" x2="148.70" y2="192.50" stroke="#d64050" stroke-width="1" />
<path d="M36.60,194.50 L103.30,194.50 L103.30,197.50 L122.00,197.50 L122.00,200.50 L134.50,200.50 L134.50,203.50 L148.70,203.50" stroke="#3a6fa5" stroke-width="1.3" fill="none" />
<line x1="148.70" y1="201.80" x2="148.70" y2="203.50" stroke="#3a6fa5" stroke-width="1" />
<path d="M36.60,196.30 L68.30,196.30 L68.30,200.50 L75.00,200.50 L75.00,205.50 L91.30,205.50 L91.30,210.50 L120.50,210.50 L120.50,214.80 L148.70,214.80" stroke="#4cbb5a" stroke-width="1.4" fill="none" />
<line x1="148.70" y1="213.10" x2="148.70" y2="214.80" stroke="#4cbb5a" stroke-width="1" />
<text x="150.50" y="215.90" font-size="8.6" text-anchor="middle" font-weight="bold" fill="#222" >*</text>
<defs><filter id="bl1" x="-50%" y="-50%" width="200%" height="200%"><feGaussianBlur stdDeviation="1.1"/></filter><filter id="bl2" x="-50%" y="-50%" width="200%" height="200%"><feGaussianBlur stdDeviation="2"/></filter><filter id="bl3" x="-50%" y="-50%" width="200%" height="200%"><feGaussianBlur stdDeviation="3"/></filter></defs>
<text x="204.30" y="152.00" font-size="9" text-anchor="middle" textLength="9.60" lengthAdjust="spacingAndGlyphs" >Thy</text>
<clipPath id="cp1"><rect x="181.40" y="154.60" width="45.60" height="45.10"/></clipPath>
<g clip-path="url(#cp1)">
<ellipse cx="203.00" cy="171.50" rx="13.00" ry="5.00" transform="rotate(0 203.00 171.50)" fill="#000" fill-opacity="0.1" filter="url(#bl3)"/>
<ellipse cx="196.00" cy="186.80" rx="6.20" ry="6.30" transform="rotate(0 196.00 186.80)" fill="#000" fill-opacity="0.62" filter="url(#bl2)"/>
<ellipse cx="193.00" cy="185.00" rx="2.50" ry="2.50" transform="rotate(0 193.00 185.00)" fill="#000" fill-opacity="0.35" filter="url(#bl1)"/>
<ellipse cx="194.50" cy="191.00" rx="2.50" ry="2.00" transform="rotate(0 194.50 191.00)" fill="#000" fill-opacity="0.3" filter="url(#bl1)"/>
<ellipse cx="201.50" cy="187.50" rx="4.00" ry="6.00" transform="rotate(0 201.50 187.50)" fill="#000" fill-opacity="0.55" filter="url(#bl2)"/>
<path d="M204.00,179.50 L213.50,178.90 L217.50,180.50 L218.80,185.00 L218.60,191.50 L216.80,194.80 L206.00,195.30 L202.60,193.80 L202.00,186.00Z" fill="#000" fill-opacity="0.9" filter="url(#bl2)"/>
<ellipse cx="211.00" cy="187.30" rx="6.00" ry="5.80" transform="rotate(0 211.00 187.30)" fill="#000" fill-opacity="0.9" filter="url(#bl1)"/>
<path d="M208.8 190.1h0m.2-5h0m-4.5 .6h0m13.2 3.8h0m-.5-1h0m-4.1-.4h0m-13.4 4h0m14.1-2.1h0m-14.3-13.5h0m5.2 7.7h0m7.8 2.5h0m1.4-3.6h0m-1.4 6.3h0m-6.3 7.9h0m7.9-3.1h0m-7.6-11.6h0m1.8 3.8h0m6.3 2.1h0m-7-7.2h0m-.5 13h0m-1.9-5.8h0m8.1-10.4h0m-2.5 16.7h0m-13.4-9.7h0m12.4-3h0m3.9 4.5h0m-12.7 5.4h0m13.9 .7h0m5-3.5h0m-8.6-10h0m3.2 4.1h0m-6.9-3.9h0m-3.4 4.4h0m14.7-9h0m-17.9 13.6h0m18.9 2.1h0m-21.7-18.6h0m14.6 10.7h0m-9.6 10.3h0m14.5-5h0m-5.6 1.7h0m8.8 1.1h0m-7-.4h0m-13.6 4.4h0m16.4-4.5h0m-19-7h0m18.3-7.1h0m-6.7 17h0m-7.3 3.6h0m12.1-10.6h0m-1.5 4.8h0m-1.3 3h0m-5.1-9.4h0m11.1 2.7h0m-12.5 5.5h0m15.2-8.4h0m-18.5 1.9h0m8-1h0m10.1-4.4h0m-.9-1.4h0m-13.3 11.4h0m12.4 1.4h0m-5.1-4.3h0m-1.2 2.6h0m-2.1-1.8h0m4.8-1.7h0m1.3 3.4h0m8.1-1.5h0m-15.9-4.1h0m2.7 7.7h0m-2.1-3.2h0m14.1-17.7h0m-19.2 16.9h0m9.9-.1h0m-5.4 2.5h0m4.6-7h0m14 5.2h0m-19.4-2.7h0m2.1 .2h0m-16.2-2.5h0m24.3-4.1h0m-7 12.7h0m6 3.2h0m-16.7-11h0m8.9 5.8h0m9.3-19.8h0m0 7.4h0m-2.7-.3h0m-3.3 16.2h0m-2.1-6.1h0m6.2-.3h0m-5.8 8.4h0m7.4-11h0m-.9 .2h0m-5 5.8h0m.5-.4h0m-11.3-12.9h0m13.9 3.3h0m-10.7-3h0m14.9 13.3h0m1.4-10.1h0m-9.6-1.2h0m5 16.3h0m-10.8-.1h0m12.2-10.5h0m-19.2 9.5h0m12.2-12h0m3.2 6.1h0m7.1-8.6h0m-2.3 15h0m2-10h0m-14.2 7.2h0m5.5-5.4h0m8.6-2.3h0m-24.2-.7h0m2.8 7.2h0m14.2-8.6h0m-2.2 8.7h0m.6 3h0m-.9-1.8h0m10.1 3.5h0m-14.1-4.4h0m-7.8-11.8h0m-.6 12.9h0m4.8-6.5h0m6.8-.1h0m-2.6 1.6h0m15.4-1.1h0m-8.1 5.7h0m-4.8-13.6h0m-2.3 14h0m-7.1-10h0m17.2 8.4h0m-6.5 0h0m1.1-11.9h0m-11.3 3.3h0m16.2 .4h0m-11.9-1.2h0m-4.1 3.9h0m2.3 2.9h0m-7.6-.2h0m11.1-13.7h0m8.9 10h0m-19.2-3.6h0m16.4 2.5h0m3.2 7.3h0m-.8-2.5h0m4.4 2h0m-5.8-16.5h0m2.9 20.4h0m-7.7-10.7h0m14.5-7.7h0m-18.6 14.6h0m18.3-4.8h0m-8.7 6.1h0m-9.5-5.9h0m7.8 5.5h0m-2.1-6.2h0m-6.4-1h0m12.4 2.8h0m-11.3-5.6h0m9.6-10.6h0m-.1 18.5h0m6.9-.3h0m-11.3 .5h0m-12.2 3.1h0m14.7-10.4h0m6.5 15.1h0m-17.7-14.9h0m11 5.1h0m-4.5-6.9h0m16.4 12h0m-21.6-14.3h0m18.9 14h0m.7-1h0m-17.5-3.3h0m-8.3-6.1h0m13.6 7.6h0m-4.3-3.8h0m7.7 3h0m1.1-1h0m-6.2 3.4h0m2.4-9.7h0m-4.4 5h0m3.4 .9h0m.7 .2h0m-.9-8.7h0m3.6 13.9h0m.1-7.4h0m.1-4.7h0m-15.2 6.2h0m6.3 4h0m-1-20.2h0m.2 25.3h0m4.3-17.7h0m-2.5 11.3h0m8.2-2h0m6.4 3.1h0m-9.7-.6h0m10.9 2.2h0m-4.1-12.3h0m-7.7 10.9h0m-.9 2h0m5.8-1h0m4.2-6.7h0m-10.3 6.5h0m8.6-5.2h0m-14 1.1h0m9.9 5.7h0m2.8-6.7h0m.4 3.1h0m-4.2-2.9h0m-2.9 3.8h0m-5.3-7.9h0m6.9-5h0m-2.8-3.3h0m-1.6 15.5h0m8.1-3.7h0m-5.2-8.2h0m13.4 11.6h0m-4.8-8.4h0m-8.3-5.6h0m6.3 16.5h0m-17.4-5.9h0m16.4-10.3h0m-16 4.2h0m7.8-2h0m4.3 9.9h0m3.9 2.7h0m5.7 2.8h0m-18.3-10h0m1.6-3.5h0m6.4 6.5h0m3.7-9.5h0m-11.2 9.4h0m6.7-1.8h0m.9-2.7h0m5 6.7h0m-5.2-6.1h0m-.5-12.3h0m-5.3 16.5h0m-3.4 1h0m10.8-9.5h0m-2.6 6.4h0m4.6 5.6h0m-3.2-8.8h0m-.7 4.7h0m5.7 2.2h0m-9.5-9.9h0m2.3 3.7h0m-4.8 3.7h0m4 1.3h0m6.6-3.1h0m11.7 .6h0m-7.9 2.6h0m.1-15h0m-12.2 15.8h0m7 6.2h0m2.9-2h0m-1.7-6.6h0m0-5.6h0m4.4 .4h0m-9.2 6.2h0m9.1 .1h0m-12.8 1.3h0m9 2.8h0m-8.8 6.2h0m15.8-10.4h0m-9.1-2.7h0m7.5-1.6h0m-4.8 1.3h0m-8.9 7.2h0m13.2-4.4h0m-13.1 5h0m4.1-3h0m10.2 4.9h0m-9.9-2.1h0m-4.2-5h0m-7.2 11h0m20.3-18h0m-18.7-2.4h0m17.4 6.9h0m-8 .9h0m-.4-4.6h0m1-2.1h0m-.7 10.5h0m3.5-3.3h0m-8.9 2.4h0m2.7 8.4h0m8.2-10.1h0m-8.1-3.5h0m-3 2.1h0m-7.6 4.2h0m1.3 7.9h0m-5.8-10.4h0m15.8-9.4h0m-14.9 10.1h0m3 1.2h0m-1.8-.2h0m1.3 2.1h0m-8.7-8.3h0m8.5-.8h0m-4.7 8.3h0m1.8 .1h0m6.3-1.7h0m-1.1-2h0m-8.6 .3h0m8.3-2.4h0m-2.4 6.3h0m-3.6-.5h0m12.4-6h0m-7.7 2h0m6.2 2.4h0m-2.9-5.1h0m-4.1 3.5h0m-7.9 7.2h0m12-15.9h0m-.7 8h0m-1.3 2.5h0m-8.7-2.9h0m13.4-1.8h0m-11.3-3.9h0m-.9 8.5h0m13.1 .4h0m-6.5 9.1h0m-3.4-14.6h0m4.7 6.1h0m-7-8.5h0m5.9 7h0m-7.2-2.2h0m3.5 3.3h0m1.9-2.7h0m-1.1 5.7h0m7.9-7.1h0m-2.5-2h0m-3.5 7.5h0m6.5-5.6h0m-7.1 2.9h0m-6.4-.9h0m3.7 1.8h0m-2.1-11.8h0m5.3 11.2h0m-2.7 3.1h0m1.3-7.4h0m3.3-4.8h0m-5.1 7.7h0m6.8-.7h0m-2.4-2.5h0m0 11.6h0m-4.5 3.5h0m.2-11.7h0m3.7 5h0m-6.4-15.6h0m8.3 14.5h0m-1.8-2.7h0m3.3 .5h0m3.3-8h0m-9.2-11h0m5.4 15.3h0m.5 12.7h0m-4.2-12.1h0m-2.2-2.9h0m-.6 7.4h0m3-2.9h0m-1 4.3h0m3-5.3h0m.8-.1h0m-8.2 8.1h0m7.3-12.1h0m2.8 6.5h0m-11.9 6.3h0m8.5-3.5h0m-.6-5.2h0m-7.9 5.6h0m7.1-6.3h0m1.5 1.8h0m1.4-2.3h0m-3.2-8.8h0m-1.7 14.1h0m7.9-5.2h0m-6.5 9.7h0m-1-4.2h0m9.1-3.5h0m-2.1-3.8h0m-4.6 3.2h0m-.4 6h0m10.3-8.9h0m-13.4 5.8h0m-2.1 0h0m7.3-3.9h0m-.2-6.3h0m1 0h0m-6.5 4.9h0m1.3 7.1h0m2.2-6.3h0m2 9.9h0m-2.4-6.1h0m5.6-.5h0m-11.4 11.2h0m15.7-22.4h0m-10.1 12h0m4.5 1.2h0m-5.5-8.6h0m1.7 10.5h0m-5.4-10.3h0m4.8-4.6h0m-1.1 7.5h0m3.2-1.3h0m-6 1.5h0m3.8-1.3h0m.3 7.1h0m5.2 4.7h0m-8.8-10.6h0m-7.7 11.6h0m7.9-9.7h0m5.7-6.6h0m-.3 6.7h0m-10.3 1.6h0m13.6-10.8h0m-1.8 10.3h0m-1.5 1.2h0m3.8-3.3h0m-2-.9h0m-.6-2.1h0m-3.8 12.8h0m2.5-9.5h0m-7.2-3.2h0m6.1 8.7h0m1-2.1h0m-2.1 4.2h0m-1.6-9.5h0m5.8 3h0m-5.3-3.2h0m.1 6h0m2.8-9.1h0m.3 6.9h0m-6.4 3h0m3.2-5.6h0m4.9 8.3h0m-6.7-4.4h0m-.8 9.4h0m1.7-5.6h0m-.7-1.9h0m12.9-16.8h0m-12 15.2h0m1.6-5.8h0m10.1 3.7h0m-17.1 3.9h0m-.3 1.5h0m5.1-5.1h0m8.3-.1h0m-12-9.1h0m11.6 12.2h0m-9 .6h0m5.9-1.1h0m-12.4-4.7h0m14.3 5.2h0m-.1-16h0m-3.2 14.8h0m10.7-7.3h0m-13 5h0m5.5-2.4h0m1.2-1.7h0m-4 1.3h0m-.5-.9h0m-7.9 9h0m8.6-8.3h0m-.5 7.8h0m-5.3-5.6h0m6.8 3.2h0m-3.9-13.1h0m7.1 12.1h0m-5.5-3h0m1.1-.7h0m-5.8-1.6h0m1.9 .6h0m-2.5 6.3h0m-.7 .1h0m1.3-1.5h0m10.8-.8h0m-9.5-.8h0m4-8.9h0m-3.4 9.5h0m.6-.4h0m5.4 3.4h0m.8-.9h0m-5.4-3h0m.1-1.5h0m.4-7h0m-.7 8.5h0m-2.9 0h0m6.7-.7h0m7-12.2h0m-10.2 3.9h0m-10.4 9.7h0m13.6-2.1h0m.2-9.7h0m1.3 13.1h0m-3.7-4.8h0m2.8 .5h0m-1.9-.2h0m-11.1 2.4h0m11 4h0m-4.8-4h0m6.7 .9h0m2.8 9.3h0m-9.7-19.6h0m8 17.2h0m.3-3.5h0m-7-7.7h0m6.8-1h0m-12.2-.4h0m19.4 14.6h0m-14.3-13.2h0m4.1-.1h0m4.9 3.3h0m-10.8 6.9h0m2.3-5.4h0m2.5-2.7h0m1.6-1.9h0m-9.8-7.5h0m2.6 7.2h0m5.6 4.1h0m2.6 .3h0m-6.1-4.1h0m-5.9 2.7h0m11.7 3.4h0m-2.7-3.5h0m4.7 1h0m-.9 2.8h0m-2.3 3.6h0m-3.6-8.3h0m-1-2.2h0m10.6 12.8h0m-6.9-6h0m5.2 1.2h0m.1-10.3h0m-8.3 8.6h0m9.4-1.8h0m-10.4-2.3h0m.9-2.5h0m9.8 1.2h0m-6.7 13.9h0m5.2-9.1h0m-8.1 .4h0m10.1 1h0m-1.6-2.6h0m-3.4-1.5h0m-.4 7.5h0m-8.3-6.8h0m7.5-2.6h0m-2.5 6.8h0m10.4-.8h0m-7.5-10.9h0m7.2 8.2h0m-8.9-6h0m-.1 .1h0m.6 7.8h0m-.2-.9h0m-3.9 5.7h0m.9-16.2h0m2.1 5.3h0m-3.7 2h0m5.8-4.1h0m-1.9 13h0m3.7-7.9h0m-2.5 .2h0m-.8 4.3h0m-.2-15.7h0m.3 7.6h0m3 1.3h0m-2.2 14h0m-5.4-16.5h0m-1.7-6.4h0m-2.1 13.8h0m5.6-11.1h0m-3.8 12.4h0m3.2-4.9h0m5 8.6h0m7.2-1.6h0m-8.1-4.3h0m7.5 6.2h0m-9.5-4.8h0m2.7-2h0m-3.6-6.9h0m-.1-1.1h0m7.9 10.4h0m-10.9 4.3h0m9.4-16.5h0m4.3 13.5h0m17.8-24.4h0m-13.8 6.6h0m-3-1h0m7.7-6.7h0m-20.7 .4h0m6.2 3.2h0m8.3 3.5h0m-3-3.8h0m-4.3 6.5h0m10.9-3.4h0m-9.8 5.8h0m-2.4-3.6h0m15.7-3.7h0m-3-3.4h0m1.7 5.3h0m-23.4 1.9h0m6.3 2.4h0m1.9-5.8h0m8.6-.6h0m-.2-.9h0m3.7 2.2h0m-4.1-11h0m8.6 11.1h0m-26.5 .3h0m20.2 3.9h0m-13.9 1.9h0m8.3 3.4h0m.1-6.9h0m-2-7.2h0m13.2 8.1h0m3.9-.2h0m-19-10h0m-.7 3.9h0m-1.4 5h0m10.3-3.4h0m-1.4 .5h0m.3 3.6h0m6.7-5.7h0m-22.2 8.4h0m14.6-1.3h0m-15.8-5.7h0m15-4.5h0m-4.8 8.7h0m14.3 3.5h0m-17.5-12h0m12.5 9.4h0m-3-9h0m5.3 8.4h0m-2-5.1h0m-2.3 5.1h0m-7.7-10.6h0m8 9.3h0m-2.9 1.7h0m-5.4-3.9h0m2.6 2.6h0m17.1-3.3h0m4.1 7.1h0m-11.4-3.8h0m8.8-3h0m-16.9-3.6h0m5.3 9.7h0m.5-3.7h0m-6.6-1h0m-11 3.5h0m9.1-8.6h0m-3.1 1.1h0m14.5 7.5h0m-19.9-.5h0m20.2-6h0m-21.4-.7h0m7.7 4.4h0m2.5-9.5h0m5.3 2h0m6 1.3h0m-14.3 1.4h0m1.3 8.6h0m12.6-2.8h0m-4.8-8.6h0m-7.6 4h0m-4.1 4.2h0m2.1-4.8h0m-2.7-5.4h0m14.8 13.5h0m-3.8-9.2h0m9.3 5.1h0m-2.6 4.7h0m1.8-7.7h0m-.6 4.9h0m-23.3-4.7h0m15.3 13.4h0m13.3-4.9h0m-17.6 17.9h0m-8.4-11.1h0m7.7 3.3h0m-11.4 9.3h0m9.8-38.9h0m-3.4 14.4h0m-10.9 .8h0m17.1 11.7h0m-2.9-18.2h0m-5.4 20h0m30.1-9h0m-30.3 11.6h0m7.3-24.8h0" stroke="#000" stroke-opacity="0.35" stroke-width="0.55" stroke-linecap="square" fill="none"/>
</g>
<line x1="202.70" y1="154.60" x2="202.70" y2="199.70" stroke="#999" stroke-width="0.9" />
<line x1="181.40" y1="178.20" x2="227.00" y2="178.20" stroke="#999" stroke-width="0.9" />
<rect x="181.40" y="154.60" width="45.60" height="45.10" fill="none" stroke="#262626" stroke-width="1.4" />
<text x="183.00" y="161.40" font-size="6.8" textLength="7.54" lengthAdjust="spacingAndGlyphs" fill="#1a1a1a" stroke="#222" stroke-width="0.15">1.1</text>
<text x="224.20" y="161.40" font-size="6.8" text-anchor="end" textLength="7.54" lengthAdjust="spacingAndGlyphs" fill="#1a1a1a" stroke="#222" stroke-width="0.15">0.7</text>
<text x="183.00" y="197.40" font-size="6.8" textLength="5.92" lengthAdjust="spacingAndGlyphs" fill="#1a1a1a" stroke="#222" stroke-width="0.15">12</text>
<text x="224.20" y="197.40" font-size="6.8" text-anchor="end" textLength="5.92" lengthAdjust="spacingAndGlyphs" fill="#1a1a1a" stroke="#222" stroke-width="0.15">90</text>
<line x1="175.50" y1="206.40" x2="175.50" y2="184.30" stroke="#111" stroke-width="1.3" />
<line x1="174.90" y1="205.80" x2="196.80" y2="205.80" stroke="#111" stroke-width="1.3" />
<path d="M173.20,185.10 L175.50,181.30 L177.80,185.10Z" fill="#111"/>
<path d="M196.00,203.50 L199.80,205.80 L196.00,208.10Z" fill="#111"/>
<text x="172.60" y="194.20" font-size="10" text-anchor="middle" textLength="13.90" lengthAdjust="spacingAndGlyphs" fill="#333" transform="rotate(-90 172.60 194.20)" >CD4</text>
<text x="180.90" y="214.90" font-size="10" textLength="13.90" lengthAdjust="spacingAndGlyphs" fill="#333" >CD8</text>
<text x="268.40" y="152.20" font-size="9" text-anchor="middle" textLength="11.20" lengthAdjust="spacingAndGlyphs" >Spn</text>
<clipPath id="cp2"><rect x="245.50" y="154.60" width="44.90" height="44.70"/></clipPath>
<g clip-path="url(#cp2)">
<ellipse cx="274.00" cy="172.00" rx="10.00" ry="10.00" transform="rotate(0 274.00 172.00)" fill="#000" fill-opacity="0.1" filter="url(#bl3)"/>
<ellipse cx="271.00" cy="187.50" rx="8.00" ry="2.20" transform="rotate(-8 271.00 187.50)" fill="#000" fill-opacity="0.3" filter="url(#bl2)"/>
<path d="M249.20,167.50 L250.50,165.60 L259.20,165.60 L260.60,167.50 L260.00,175.00 L258.20,180.00 L256.80,186.00 L252.60,186.00 L251.00,180.00 L249.60,175.00Z" fill="#000" fill-opacity="0.97" filter="url(#bl1)"/>
<ellipse cx="256.20" cy="188.60" rx="6.20" ry="2.60" transform="rotate(-4 256.20 188.60)" fill="#000" fill-opacity="0.96" filter="url(#bl1)"/>
<path d="M258.8 179.9h0m-2.4-14.2h0m-6.4 8.7h0m5.9 12.6h0m-4.5-7.7h0m5.9-15.5h0m-5.7 10.1h0m1.1-1.7h0m3.5-3.7h0m0 1h0m-3.7 6.5h0m-.1-1.4h0m7.9-1.5h0m-6.3 3.9h0m-.8 2h0m-3.3-2.6h0m2.8-7.8h0m8.2-.3h0m-.1 8.3h0m-1.1-9h0m-.9 13.4h0m-4.7-8.7h0m9.2 1.7h0m-10.3-4.5h0m3.1 5.3h0m-1 7.7h0m-1.8-6.9h0m6.5-8.1h0m-1.6 15.6h0m-8.6-16.1h0m1.2-4.2h0m5.3 0h0m.2 18.2h0m-7.6-9.7h0m-1.1 6h0m4.2-5.8h0m2.9 4.5h0m-1.4-2.9h0m-.8 .5h0m-2.2-.3h0m-2.8-3h0m13.9 3.1h0m-11.4 1h0m1-10.5h0m.8 13.2h0m4.1-4.6h0m-4.7-5.4h0m8.2 7.2h0m-8.3-12.9h0m-1.5 25.2h0m.8-14h0m4.9-.5h0m-1.8-6.7h0m-2.8 16.9h0m1.1-4.6h0m-3.4-6.2h0m7 7.2h0m-4.9-2.4h0m5.4-7.4h0m.3-.8h0m-4.6 4.8h0m-.7-7.9h0m2.1 12.2h0m0 2.8h0m-2.7-14.2h0m9.8 9.4h0m-2.2-6.7h0m-.5 5.9h0m-.6-1.3h0m2-3.7h0m-7.8-4.5h0m7.7 4h0m-8-1.1h0m2.2-1.8h0m.6 3.6h0m-1-1.9h0m2.1 2.8h0m.3 3.9h0m.8-13.4h0m-3.1 7.6h0m4.7-4.3h0m-5.4 7.1h0m1.4 7.1h0m-.4-.2h0m-3.7-15.3h0m9.7 12.4h0m-2.6-1.7h0m-.1-7.4h0m1.7 3.8h0m.1 3.4h0m-10.6-7.6h0m11.2 6.3h0m-5.5 2.1h0m-.1-4.3h0m1.9 3.8h0m5.1-.5h0m1.3 9.6h0m-.6-4.1h0m-5.7-5h0m-1-4.8h0m.3 .5h0m6.1 6.4h0m-7.5-13.4h0m1.4 8.2h0m-3.7-4h0m-4.2 9.4h0m7.9 11.1h0m.1-15h0m5.3 1.5h0m-4.6-2.7h0m-2.8 10.2h0m5.8 1.2h0m-4.9-9.2h0m-1.9 5.1h0m-1.8-2.2h0m8.9 4.7h0m-7.3-1.8h0m.8-10.2h0m-2.2 10.6h0m10.7-9.7h0m-8.6 1.4h0m11.7 7.4h0m-11-15.4h0m-.4 16.4h0m9.1-8h0m-9.2-1.3h0m-4.3 7.8h0m2.9 .8h0m-2.2-12.8h0m7.1 2.8h0m1.8 4.2h0m-7 3.4h0m7.2-13.9h0m3.6 13.2h0m-3.9-12.9h0m-5.3 8.3h0m6.5-6.1h0m-7.1-3.2h0m2.3 13.1h0m-5.2-5.2h0m7.9 12h0m.6-10.4h0m-6.6-3.5h0m1.8 6h0m2.2 8.4h0m1.2-15.1h0m4.6 11.1h0m-5.2-9.2h0m-7.1-1.6h0m10 1.2h0m-8.1 5.5h0m5.7 2.2h0m1.5 4.4h0m-5.4-2.3h0m-.6-1.6h0m4.2-2.5h0m2.9-1.4h0m.5 4.9h0m-3.5-7.9h0m-3.2 .2h0m2 2.8h0m11.4 3.6h0m-7.9-8.2h0m-5.4 2.9h0m3.3-3.9h0m5.1 2.6h0m-1.9-9.7h0m-3.9 14.3h0m.7 1.8h0m.3-2.4h0m-7.8-4.8h0m-1.6 7.4h0m9.5-4.6h0m-4.1-2.1h0m9.6 12.7h0m-6.8-2.4h0m-5.5-17.7h0m4 5.8h0m-.3 5.8h0m12.9-4.6h0m-10.7 5.1h0m-.3 3.6h0m6.5-11.9h0m-5.8 5.3h0m.7-6.9h0m-7.6-4.3h0m8.2 13.8h0m-1.6-14.1h0m-1.6 8.8h0m-3.8-.8h0m7.6 8h0m-2.6-.2h0m-2.1-2.4h0m2.3 2.6h0m-.4-3.8h0m-.2-2.7h0m8.5 6.3h0m-6.5 9.8h0m3.6-21.2h0m-2.6 13.2h0m4.3 2.6h0m-4-13.7h0m-5.9 8h0m4.9-7.1h0m-3.2 3.4h0m1.6 4h0m-1.2-8.6h0m5.5 15.6h0m-4.9-3.2h0m2-2h0m.1-7.8h0m.4 9.8h0m-5.3 5.2h0m10.7-.8h0m-.3-5.9h0m-8.4-7.4h0m-1.7 3.9h0m2.8 3.1h0m-7.2 9h0m15.5-12.9h0m-5.8 2.8h0m-1.4-3.7h0m-1.4-3.4h0m1 4.4h0m.6-4.6h0m-1.1 5h0m2.1-6.1h0m-.7 11.2h0m.6-7.4h0m-3.9 .7h0m4.4 9.8h0m-3.2-12h0m2 4.6h0m-4.7-5.2h0m2.9 7.8h0m-3.9-9.3h0m6.1-1.1h0m-1.4 8.6h0m-.8-7.5h0m.2 3.8h0m1.4-2.8h0m2.7-4.6h0m-4.5 9.2h0m4.1-3.3h0m-1.5 .2h0m.7 12.7h0m-4.1-7.2h0m-1.9 3h0m7.7-5.2h0m-8.5 2h0m8.2 3.8h0m-1.2-16.1h0m-5.3 17.9h0m-2-1.6h0m11.2-2h0m-2.8-6h0m-8.4 1.2h0m3.7 .3h0m3.2-.5h0m0 17.1h0m-1 2.9h0m2.2-3.5h0m-3.2-1.5h0m7.7 1.6h0m-12.1-1.4h0m4.7 .2h0m6.1-1.4h0m-2.9 2.6h0m-8.4-.2h0m5.4 .9h0m-1.8-.4h0m-6-2.8h0m12.2 4.3h0m-4-3.3h0m5.5-3h0m-9.4 5.5h0m7.3-3.4h0m-12.7 5h0m10.2-4.7h0m-.5 3.6h0m3.4-6h0m.2 .6h0m1.8 4.4h0m5.6-2h0m-11.3 3.3h0m-3.2-3.5h0m1.3 1.3h0m-3.5 1.1h0m8.1-.9h0m5.8-.8h0m-2-.4h0m-2.7-2.8h0m-2.8 3.5h0m-3.5-.8h0m.8-.2h0m-1 .4h0m-2.6 .7h0m9.2-.2h0m-6.4 3.2h0m7.4-.9h0m.9-2.5h0m-6.4 2.9h0m-2.2-2.4h0m4.7 .9h0m-3.3 1.3h0m.5-.5h0m6.3-.2h0m-1.7-3.6h0m-10.3 1.1h0m9 4.2h0m-8.5-2.4h0m1.8-2.1h0m2.9 2.9h0m2.5 1h0m-6-.6h0m9.6-1.7h0m-2.3-1.2h0m-7.8 .3h0m2.2 6.6h0m.8-2.5h0m3.4-2.7h0m2.7-2.2h0m.9 2.4h0m-12.2 .4h0m10.4-.3h0m5.1-1.7h0m-5.3 2.3h0m-7.1 .9h0m-2.8-5h0m9.9 .4h0m-3.2-1.1h0m.9 1h0m1.4-.8h0m.5 2.6h0m-1.9 .4h0m.4-2.5h0m-5.4 1.7h0m6.8-3.1h0m-5.9 2.8h0m-1.5 1.9h0m4.6-2.3h0m-4.2 3.2h0m1.6-.4h0m5.5-5h0m-7.6 3.8h0m7.1 1.6h0m2.3 .5h0m-5.9-2.5h0m5.8-.5h0m1.4-2.3h0m-2 2.9h0m-13.1 2.3h0m11.4-2h0m-7-.9h0m13-.8h0m-13.6 1.4h0m4-1.5h0m-2.2 3.9h0m-3 1.8h0m4.5-6.1h0m6.6 3.3h0m-9.1 .4h0m-4-3.3h0m14.8 1.3h0m-12.1 1.5h0m11.1-1h0m-13.6-.7h0m11.1 2.2h0m7.2-2h0m-11.7 .4h0m8.4-1.8h0m.5-3.6h0m-2.5 4.1h0m-1.7 2.8h0m-8.2-1.6h0m7.1 1.4h0m-5.9-3.2h0m-4.9 7.1h0m8.6-5.5h0m-6.5 2.3h0m4.8 1h0m7-2.9h0m-.7-2.2h0m-5.2 1h0m-4.7 1.2h0m5.6 2.9h0m-3.9-3.8h0m6.7 1.7h0m-2-1.7h0m2.4 1.6h0m-11.7-1.2h0m2.3-1.9h0m7.6 2.5h0m-.1-1.9h0m-1.6 0h0m2.9 3.2h0m6.9 1.1h0m-12.8-3.4h0m-.7 1.5h0m14.6 .8h0m-16.4-.4h0m6.5-.4h0m8.9-2.3h0m.2 5h0m8.3-6h0m-16.6-1.7h0m-2.9 3.6h0m17.4 2h0m-1.3-3.7h0m-4.2 5.7h0m-7.2-3.8h0m12.6 1h0m-3-.3h0m8.5-1.4h0m-8.9-.1h0m-3.6-.1h0m4.7 1h0m11.5 2.4h0m-12.5-1.6h0m5.2 .4h0m-1.9-1.1h0m-3.5-2.3h0m9.4 4.6h0m-1.5-1.9h0m-2.7-2h0m-14.4 2.5h0m13.9-2.7h0m-8.2 4h0m-5.8 1.1h0m17.1 1.3h0m-9.5-5.2h0m1.5 .3h0m2-1.9h0m9-.1h0m-11.1 2.9h0m-.2-2.2h0m6.3 .2h0m-11.2 .6h0m7.2 4h0m-6.2-1.7h0m2.2-2.9h0m3.2 1.4h0m8.3 3.2h0m-10.5-.9h0m11.5-1.1h0m-12.3 .2h0m4.5-1.2h0m-1.1 .7h0m9.7 1h0m-9.2-.3h0m11.6-4.3h0m.1-.8h0m-6.5 4.2h0m6.6-.7h0m-13.8-2.4h0m-5.4 3.5h0m7.1-3.3h0m5.4-.1h0m-6.8 .7h0m14.7 4.2h0m-12.7-6.7h0m3 3.7h0m.5 1h0m-4.6 .8h0m8.1-1.5h0m-8.7-1.6h0m7.6-1.3h0m-5.9 .8h0m-8.7 2.9h0m9.6-1.2h0m6.3-3.4h0m-6.6 3.9h0m6.3-3h0m-.8 2.9h0m4.5 2h0m-5.7 2.2h0m-3.8-5.6h0m-2.4-1.2h0m2.2-2h0m-.4 5h0m7.5-1.7h0m2.8-.6h0m-10.6-2.7h0m-4.4 2.4h0m15.5 2.8h0m-17.7 0h0m10.8-1.6h0m-3.1-.2h0m-3.9-3.1h0m3.1 6.6h0m10.4-3.4h0m-14.9 .1h0m11.2 1.3h0m-10.1 0h0m2.6 .3h0m-1.4-4.3h0m3.2 4.8h0m-8-1.8h0m13.6-.6h0m-10.4 5.2h0m10.1-2.2h0m-12.2 1.3h0m-4.8-4.6h0m16.3 3.9h0m-11.3-4.2h0m7.6-2.7h0m3.1 5.3h0m-7.4-.1h0m8.3-.4h0m-1.7 2.5h0m-6.8-2.9h0m-.4 1.9h0m.8-1.2h0m6.7-16h0m10.7-1.2h0m-2 7.1h0m-.7-7.7h0m-2.6 7.2h0m-10.5-3.8h0m3.3-2.4h0m9.7-5.3h0m-20.2-7.9h0m8.3 8.5h0m3.2 9.4h0m11.8-2h0m-8.8-8.1h0m.8 16.2h0m5.2-25.6h0m-3.1 27.3h0m-.4-23.7h0m-7.7 16h0m4.9-10.8h0m-8.8 13.7h0m-3 3.7h0m9.1-8.8h0m-9.1-6.9h0m13.6-6.7h0m9.4 .5h0m-22.2 11.1h0m11.4 5.3h0m-5.7-7.2h0m.9-2.8h0m-15.8 11.8h0m19.1-6.2h0m-5.9 .7h0m4.1-2.5h0m7.5-12.6h0m-5.7 5h0m-3.8 19.7h0m-5.2-12.3h0m3.3 8.1h0m-2.6-20.2h0m10.1 10.2h0m-5.6 11h0m-3.9-11.2h0m7 6.1h0m-4.5 4.8h0m18.6-11.1h0m-2.5-13.1h0m-3.1 13.6h0m-8.6 0h0m-5.2-7.2h0m1.6 19.8h0m10.4-12.7h0m-11.2-2.7h0m-4.6 19.3h0m12.6-13h0m-7.8-8.8h0m12.1 13.9h0m-15.2 1.6h0m-1-2.7h0m.9-8.1h0m9.8 6.5h0m3.5-9.7h0m3.8 16.7h0m-10.7-6.7h0m-5.1-4.8h0m-3.7 1.9h0m10.2 9.6h0m5.1-4h0m-8.8-8h0m.1 3.4h0m-10.7 4.2h0m2.5-9.9h0m10.6 .1h0m11.1 3.1h0m-.6 9.8h0m-13.9-5.9h0m12-5.7h0m-8.1-1.7h0m-.2 1.6h0m.2 10.4h0m8.8-6.7h0m-8 5.6h0m-3.3-14.7h0m9.4 .9h0m-1.2-.2h0m6-.6h0m-6.6 19.5h0m-12.2-.1h0m1-24.9h0m10.4 18.9h0m-5.3-7.7h0m-2.1 .1h0m-9.5-2.2h0m24.1 16.3h0m-14.5-17.4h0m5.1 13.7h0m2.2-17.2h0m-3.8 10.1h0m8.6 8.1h0m-6.2 .1h0m-6.2 2.5h0m-.2-8.8h0m9.1-10h0m-10.9-6.5h0m5.8 13.1h0m-3.3 4.2h0m-12-4h0m14.8-1.8h0m4.7 15.5h0m-8.3-20.7h0m-1.1 7.9h0m8-7.3h0m2.8-1.3h0m-1.1 11.2h0m-2.5 13.3h0m-4.9-17.9h0m5 7.9h0m-12.2-4.5h0m4 2.7h0m14.2-4.4h0m-22.2-15.5h0m5.3 40.5h0m-17.4-35.3h0m26.3 5.4h0m-16.7 9.5h0m-.5 2.9h0m11.2 16.3h0m19.5-38.8h0m-18.2 31h0m13.1 .1h0" stroke="#000" stroke-opacity="0.35" stroke-width="0.55" stroke-linecap="square" fill="none"/>
</g>
<line x1="262.50" y1="154.60" x2="262.50" y2="199.30" stroke="#999" stroke-width="0.9" />
<line x1="245.50" y1="183.30" x2="290.40" y2="183.30" stroke="#999" stroke-width="0.9" />
<rect x="245.50" y="154.60" width="44.90" height="44.70" fill="none" stroke="#262626" stroke-width="1.4" />
<text x="247.10" y="161.40" font-size="6.8" textLength="7.54" lengthAdjust="spacingAndGlyphs" fill="#1a1a1a" stroke="#222" stroke-width="0.15">6.7</text>
<text x="287.60" y="161.40" font-size="6.8" text-anchor="end" textLength="7.54" lengthAdjust="spacingAndGlyphs" fill="#1a1a1a" stroke="#222" stroke-width="0.15">1.6</text>
<text x="247.10" y="197.00" font-size="6.8" textLength="5.92" lengthAdjust="spacingAndGlyphs" fill="#1a1a1a" stroke="#222" stroke-width="0.15">27</text>
<text x="287.60" y="197.00" font-size="6.8" text-anchor="end" textLength="7.54" lengthAdjust="spacingAndGlyphs" fill="#1a1a1a" stroke="#222" stroke-width="0.15">3.5</text>
<text x="315.60" y="152.20" font-size="9" text-anchor="middle" textLength="9.70" lengthAdjust="spacingAndGlyphs" >BM</text>
<clipPath id="cp3"><rect x="292.80" y="154.60" width="44.90" height="44.70"/></clipPath>
<g clip-path="url(#cp3)">
<ellipse cx="322.00" cy="170.00" rx="8.00" ry="9.00" transform="rotate(0 322.00 170.00)" fill="#000" fill-opacity="0.07" filter="url(#bl3)"/>
<ellipse cx="316.00" cy="188.50" rx="6.50" ry="2.00" transform="rotate(-6 316.00 188.50)" fill="#000" fill-opacity="0.35" filter="url(#bl2)"/>
<path d="M296.50,167.00 L298.00,165.00 L306.50,165.00 L308.00,167.00 L307.20,175.00 L305.50,180.00 L304.50,186.00 L300.50,186.00 L299.00,180.00 L297.30,175.00Z" fill="#000" fill-opacity="0.85" filter="url(#bl1)"/>
<ellipse cx="304.00" cy="189.00" rx="8.60" ry="2.70" transform="rotate(0 304.00 189.00)" fill="#000" fill-opacity="0.98" filter="url(#bl1)"/>
<path d="M298.4 166.7h0m1.6 10h0m4.2-15.4h0m3.1 8.3h0m-7.4 13h0m1.8-16.7h0m-2 2.9h0m-1.4 2.3h0m6.9 3.9h0m-8.2 14.1h0m1.4-15.4h0m3.7 3.7h0m-1.3-1.8h0m8.9-2h0m-11.6 1.3h0m1-4h0m3.6 4h0m-1.7 3h0m.3-12.4h0m3.9 5.4h0m1.2-1.7h0m-2.3 5.6h0m-6.2 6.3h0m-2.8-2.8h0m10.9-2.4h0m-1.5-5.8h0m-2.5 4.2h0m1.5 2.8h0m-2.3-8.1h0m-1.3 6.4h0m-4-9.6h0m4.6 4h0m.5-12.1h0m-.2 13.9h0m4-10h0m-3.9 14.1h0m2.9 4.2h0m2.1-12.9h0m-1.6 4.1h0m-5.2 10.7h0m.6-13.7h0m.8 0h0m5.2 7.1h0m1.4 .2h0m-7.3 3.6h0m-.2-8.7h0m1.8 2.9h0m5-3.7h0m-3.1 3.3h0m-5.9-6.1h0m3.8 8.6h0m2 .5h0m-1-5.4h0m1.4-3.2h0m-6.5 3.9h0m-.3-1.1h0m2.5-.2h0m2.5-1.4h0m-1.3-5.3h0m2 4.8h0m1-11.3h0m-4.4 17.8h0m3.2-.8h0m-5.8 .7h0m6-6.9h0m2.2 5.3h0m-2.6-2.3h0m1.9 3.2h0m2.2 2h0m-6.5-3.9h0m5.7-.8h0m-2 5.1h0m-2.1-16.5h0m1.2 14.7h0m0-5.6h0m3.9 3.6h0m-6.7-3.4h0m3.6-2.1h0m-5 17.9h0m8.5-5.5h0m.2-2.6h0m-11.2 3.4h0m10.8-4.1h0m-11.8 4.4h0m12.2-10.1h0m-4.5 7.4h0m-.8 1.9h0m.6-2.4h0m0-12.6h0m-4 27h0m4.7-10.8h0m3.2 2.4h0m-2.2-13.5h0m-1.9-7.7h0m-.8 16.5h0m-7.3-4.2h0m11 6.6h0m-6.4-11.5h0m-3.5-2.1h0m8.9 17.9h0m-6.2-4h0m5.8-10.9h0m6.5-11.8h0m-8.3 16h0m8.1 9.2h0m.5-9.7h0m-4.8 7.2h0m-1.7-5.9h0m-2.6-4.5h0m-3.8 13.8h0m2.9-23.5h0m2.6 11.9h0m-.3 10.8h0m-1.1-12.1h0m-2.4 1.4h0m1.2 1.3h0m13.1 1.1h0m-14.7 9h0m6.4-6.5h0m-.6 0h0m-.1 3.4h0m1.2-.3h0m-5.6-7.9h0m-.8 5.6h0m5.8-8.3h0m-.9 18h0m2.4-21.8h0m-4.9 10.2h0m.2-1.4h0m4.5-.4h0m-8.5 2.3h0m3.7-3.5h0m-1.7-8.8h0m-2.5 6h0m.6-13.8h0m8.2 9.1h0m-6.9 9.9h0m-.1 .8h0m1-2.1h0m2.2-1.8h0m-7.2-8.6h0m6.6 16.8h0m-1.8-5.1h0m2.6-.3h0m3.1-11.6h0m-2.7 7.8h0m-2.2-4h0m-1.7-1h0m-1.2 20.7h0m10.4-14.6h0m-3.6-5.8h0m-2.2 14.1h0m-.7-14.3h0m-.7 .1h0m-4.3 4.4h0m3.7-3.3h0m-1.8-.7h0m4.2 13.5h0m-1.7 5h0m-5.2-11.5h0m1.7-2.5h0m4.7 4.2h0m3.8-6.5h0m-8.8 2.1h0m5.7-3h0m2.2 13.9h0m-8.6-7.7h0m9.1-13.3h0m-3 9.9h0m-6.1 9h0m6.1-10.5h0m.8 6.6h0m1.2-.4h0m-1.3-10.3h0m-3.1 7.7h0m.2-7h0m-5.3 7.7h0m6.8-4.9h0m-1.6-1.8h0m-1.3 4.6h0m.4 4.6h0m1.9-3.2h0m2 6.6h0m.7-6.1h0m-2.8-6h0m-.7 8.7h0m2.1-6.3h0m-5.7-6.7h0m6.1 15h0m.2-14h0m-2.2 9.3h0m-2.6 .7h0m2.7-6.9h0m-3.9 9.6h0m5.9-9.9h0m-5.1 10.4h0m6-7h0m3.7 .1h0m-9.8 8.1h0m3.2-4.4h0m.8-7.9h0m-4.5 4.8h0m9.6-4.8h0m-.2 7.2h0m-9.1 .3h0m6.2-6.9h0m-10 7.4h0m3.8 .5h0m-3-3.4h0m4.1-7.8h0m2.1 9.6h0m-1.2-7.9h0m2.9-3.3h0m1.2 13.1h0m4.2 2.3h0m-4.9-3.7h0m-1.2-9.2h0m5.3 10.8h0m-6.5-9.8h0m6.6 9.8h0m-9.9 .8h0m11.4-4h0m-5.5-2.3h0m-3.8 8.7h0m13.7-5.6h0m-11.9 3.9h0m-.6-.4h0m4.2-10.1h0m-7.1 5.5h0m7.1 2h0m1.5-9.6h0m-2.8 4.4h0m-1.4 5.5h0m-4-3.2h0m-.7 2.8h0m1.2-4.4h0m3.9-.9h0m3.4 .1h0m-1.1 5.3h0m-6.9-2.9h0m.7-.8h0m2.1 12.7h0m-.5-1.5h0m3.1-16.7h0m-10.1 11.5h0m1.2 .3h0m11.1-1.9h0m-4.6-3.8h0m1.8-.3h0m-3-.4h0m6.3-1.4h0m-2.9-3.1h0m-4-1.3h0m1.9 12h0m1.8-6.9h0m5.6 18.2h0m-1.8 1.3h0m1.3-5.9h0m-14.3 6.9h0m9.3 3.2h0m-1-6h0m13.4 2.4h0m3.1-.1h0m-16.3 .4h0m-4.5-2.5h0m1.8 .5h0m10.3-.5h0m-3.5-.1h0m4.3-4.8h0m-8.4 6.3h0m-6.7 1.8h0m10 .5h0m5.7-1.3h0m-8.6-3.7h0m-.5 1.3h0m3.6 0h0m21.7-2.4h0m-14.5 2.4h0m-11 3h0m1.9-4.6h0m3.2 2.2h0m-11.4-1.2h0m11.9 2.2h0m-5.9 4h0m5.4-5.9h0m-1.4 1h0m-3.2-.3h0m-3 2.7h0m4.6 1.5h0m5.9-.1h0m-7-2.7h0m-2.4-1.2h0m-4-1h0m16.7 2h0m.1 1.2h0m-2.4 .3h0m-11.8-.4h0m2.2-2.8h0m11.7 5.7h0m-16.7-.9h0m13.9-5.5h0m-4.3 2.6h0m.8-1.6h0m-12.8 .9h0m16.5 1.6h0m-1.5 .6h0m-12.7-2.4h0m10.2 2.2h0m-1.4-1h0m-.2 3.3h0m18.1-3.9h0m-17.4 3.1h0m1.9-2.2h0m4.2-1h0m-14.4-.6h0m9.2-.4h0m-7.7-.2h0m4.4 0h0m1 3.8h0m2-3.1h0m-11.3-2.2h0m11.9 .5h0m.4-.5h0m-2.3 2.1h0m6.7-.6h0m-10.6 1.3h0m3.3 3.1h0m-2.4-4.7h0m-.5 2.1h0m4.3 .5h0m-12.5 3.7h0m24.9-5.3h0m-23.5 .4h0m12.5-5h0m-3.1 1.6h0m3.4 6h0m4.5-6.1h0m2.6 5.1h0m-13.4-.8h0m14.5-1.8h0m-11.8-.5h0m9-3.4h0m2 2.6h0m-3.8-1.4h0m-14.3 2.1h0m13.6-2.1h0m-1.8 2.1h0m5 .6h0m-5.9 .3h0m10.1-.4h0m-14 5h0m.8-2.7h0m-6.3-1.1h0m.7-3.6h0m8.3 0h0m10.7 1.7h0m-16.8 2h0m-6-3.9h0m3.1 5.9h0m13-5.8h0m2 3.4h0m-5.4 0h0m-.7-2.2h0m-10.2 .6h0m4.2 2.8h0m-6.6 2.1h0m4.5-4.6h0m10.3 2.1h0m-8-3.2h0m-5.1-1.1h0m16.5 5.7h0m5.6-1.2h0m-11.8 .5h0m4.7-2.1h0m-4.6 5.1h0m-10.1-3h0m16.5-2.3h0m-3.9 .6h0m-2.9-1h0m-2.5 1.1h0m8.9 4.7h0m-8.7-2.6h0m8.2-.4h0m-2-3.7h0m3.1 0h0m.6 3.4h0m-17.5 1.1h0m2.4-4.1h0m13 .2h0m14.9 1.7h0m-13.8-3.6h0m-6.4 3.4h0m17-3.1h0m-7.5 1.5h0m-1.5 1.5h0m13.6-2.2h0m-7.2 3.3h0m-6.5-2.4h0m-6.2 2.4h0m4.7-3.4h0m3.5-.4h0m-6.4 1.1h0m14.6 .2h0m-5.6-2.4h0m-14.3 6.3h0m9-6.5h0m1.7 4.2h0m-9.4-2.9h0m11.5-.1h0m3.1 3.7h0m-2-2.7h0m-2.9-.4h0m-.5 1.8h0m-.9 1.3h0m16.7-3h0m-13 2.7h0m1.7-2.1h0m-6.5 2.4h0m6.4-.9h0m-8.3 .2h0m9.3-1.6h0m-.9 4.6h0m-14.6-3h0m4.1-3.8h0m5.4 3.7h0m1.7-3.4h0m-8.6 1.2h0m8.4-.5h0m-8.8 5h0m3.8-3.7h0m1.7-.8h0m3.4 .5h0m3.4-1.7h0m-12.2 6.1h0m8.2-2.3h0m7.2-.4h0m-6.6-4.1h0m-9.5 4.9h0m13.2-.8h0m-13.5-5.2h0m3.5 1.8h0m7 .3h0m8.3 .8h0m-12.5 2.9h0m5.2-3.4h0m2.9 5.4h0m-11.9-4.2h0m.8-3.3h0m9.9 5.2h0m2.1-.6h0m-17.4-.9h0m7.8-2.2h0m-2.5 3.8h0m4.7 2.3h0m4.4-7.5h0m2.5 6.1h0m-5-4.8h0m10.1-.2h0m-10.8-1.1h0m-6.8 .4h0m13.7 5.6h0m-8.8-4.9h0m2 3.3h0m-8.5-3h0m8.3 3.7h0m1-.5h0m-7.7-5.8h0m9.1 3.1h0m-2.5 1.1h0m3.5-.8h0m5.7 1.6h0m-5.4 1.1h0m3-.4h0m-16.3-2h0m21.1 2.1h0m-7.6 0h0m-7.1-2.2h0m0 3.6h0m5.9 1.2h0m.8 .2h0m-.2-6h0m7.5 3h0m-3.2-.3h0m-8.9-.1h0m-4.7-2.6h0m1.4 1.3h0m-2.8 .8h0m9.8 4.2h0m9-4.1h0m.4-19.6h0m-2.9 1.4h0m-5.5 .9h0m-5.5 2.9h0m7-12h0m-.4 12.9h0m-1.9-.7h0m7.4 8.6h0m-9.8-13.2h0m9.4 12.7h0m-1.5-5.9h0m-10.2-10.5h0m18.5 2.4h0m3-3.5h0m-14.4-6.9h0m5.4 14.7h0m8.1-.8h0m-13.4-12.4h0m1 18.6h0m4.9 2.2h0m.7-10.1h0m-1.5 1.8h0m-11.5 12.1h0m10.1-21.8h0m.1 10.6h0m3.6 9.1h0m-23.9-7h0m27.1-11.9h0m-20.1 9.7h0m13 .6h0m-8.6-6.5h0m7.8 9.6h0m11.8-3.6h0m-6.6-3.3h0m-7.1-6.8h0m5.1-6.4h0m-3.8 15.2h0m1.2 9.3h0m-2.4-9.6h0m5.7-13h0m-6.8 12.8h0m7.4-6.9h0m-.9 9.5h0m-13.7-14.8h0m.4 12.8h0m9.7 4.6h0m3.7-10.1h0m1.5 10.9h0m-3.6-2.7h0m-10.5-.9h0m1.5-12.4h0m4.1 10.6h0m1.8-3.7h0m-5.7 4.1h0m1.6-12.7h0m5 22.8h0m-3-20h0m10.7 22h0m-10.1-15.3h0m3.1 25.2h0m-.5-15.6h0m1.8-22.4h0m-9.2 4.7h0m9.2 10.6h0m8.1-3h0m-8.9 2.8h0m-1 17.9h0m.9-6.8h0m6.1-16.5h0m2.8 1.8h0m-32.2-10.2h0m25.4 3.6h0m9.1 25.4h0m-33 4.1h0m-1.1-12.4h0m-2.4 11.6h0m33 5.4h0m-37.3-2.7h0m23.2-1.3h0" stroke="#000" stroke-opacity="0.35" stroke-width="0.55" stroke-linecap="square" fill="none"/>
</g>
<line x1="310.50" y1="154.60" x2="310.50" y2="199.30" stroke="#999" stroke-width="0.9" />
<line x1="292.80" y1="183.50" x2="337.70" y2="183.50" stroke="#999" stroke-width="0.9" />
<rect x="292.80" y="154.60" width="44.90" height="44.70" fill="none" stroke="#262626" stroke-width="1.4" />
<text x="294.40" y="161.40" font-size="6.8" textLength="5.92" lengthAdjust="spacingAndGlyphs" fill="#1a1a1a" stroke="#222" stroke-width="0.15">29</text>
<text x="334.90" y="161.40" font-size="6.8" text-anchor="end" textLength="7.54" lengthAdjust="spacingAndGlyphs" fill="#1a1a1a" stroke="#222" stroke-width="0.15">0.5</text>
<text x="294.40" y="197.00" font-size="6.8" textLength="5.92" lengthAdjust="spacingAndGlyphs" fill="#1a1a1a" stroke="#222" stroke-width="0.15">65</text>
<text x="334.90" y="197.00" font-size="6.8" text-anchor="end" textLength="2.96" lengthAdjust="spacingAndGlyphs" fill="#1a1a1a" stroke="#222" stroke-width="0.15">5</text>
<line x1="239.40" y1="206.00" x2="239.40" y2="183.80" stroke="#111" stroke-width="1.3" />
<line x1="238.80" y1="205.40" x2="260.80" y2="205.40" stroke="#111" stroke-width="1.3" />
<path d="M237.10,184.60 L239.40,180.80 L241.70,184.60Z" fill="#111"/>
<path d="M260.00,203.10 L263.80,205.40 L260.00,207.70Z" fill="#111"/>
<text x="237.70" y="193.60" font-size="10" text-anchor="middle" textLength="14.30" lengthAdjust="spacingAndGlyphs" fill="#333" transform="rotate(-90 237.70 193.60)" >CD8</text>
<text x="240.80" y="214.50" font-size="10" textLength="11.50" lengthAdjust="spacingAndGlyphs" fill="#333" >TCR</text>
<clipPath id="cp4"><rect x="181.40" y="238.60" width="45.60" height="45.50"/></clipPath>
<g clip-path="url(#cp4)">
<ellipse cx="209.00" cy="253.50" rx="5.00" ry="5.20" transform="rotate(0 209.00 253.50)" fill="#000" fill-opacity="0.35" filter="url(#bl2)"/>
<ellipse cx="211.00" cy="272.00" rx="6.00" ry="3.00" transform="rotate(0 211.00 272.00)" fill="#000" fill-opacity="0.08" filter="url(#bl2)"/>
<path d="M183.50,246.80 L199.80,246.80 L196.00,273.00 L187.50,273.00Z" fill="#000" fill-opacity="0.97" filter="url(#bl1)"/>
<ellipse cx="191.50" cy="273.50" rx="4.30" ry="3.60" transform="rotate(0 191.50 273.50)" fill="#000" fill-opacity="0.75" filter="url(#bl2)"/>
<path d="M184 257.8h0m-.4-7.8h0m8.9 9.3h0m-5.5-3.2h0m3.5 2.5h0m.5-2.4h0m4.4-11h0m-6.9 13.9h0m.5-5.5h0m-.2 6.1h0m8.4-3.2h0m-7.5 4.3h0m.1-18.3h0m2.5 12.5h0m-4.2 8h0m3.1-9.5h0m-.1 3.6h0m2.1 2.7h0m-4.6-11.9h0m-3.1 9h0m-.2 7.1h0m-.9-20.3h0m5.6 .1h0m9.1 6.3h0m-8.4 5.9h0m-3.8-12.1h0m9.2 31.4h0m-12.4-12.8h0m7.2 2.3h0m-2.5-1h0m7.1-.9h0m2.7-6.3h0m.5-4.2h0m-7.6-.8h0m-.1 14.6h0m3.6-7.4h0m4.9-12.6h0m-12.6 23.9h0m5.7-28.7h0m.1 7.1h0m5.7 18.7h0m-10.1 1.1h0m-1.5-2.9h0m7.1-8.4h0m-10-1.2h0m10 5.2h0m-5.4 13.9h0m6.4-16.4h0m-1.5 7.2h0m-5.4-19h0m2.8-2.1h0m.2 19.6h0m7.5-4.1h0m-6.5 3.9h0m6-8.6h0m-13.1-3.7h0m-.2-.8h0m5.7 9.8h0m1.4-2.1h0m-2.6 2.8h0m6.2 2.7h0m3.1-8.4h0m-8.8 15.9h0m2.3-10.3h0m-2.7 4.5h0m-.3-15.9h0m1.7 4.6h0m4.5 .5h0m-3.6 1.3h0m1.1-3.3h0m3.8-6.4h0m-7.4 5.7h0m5.1 6h0m-.8-2.9h0m-6-6.4h0m1.9 4.7h0m3.1 7.1h0m3.5-3.7h0m-8.6-7.6h0m4 11.4h0m9.4-1.4h0m-.9 13.5h0m-14-5.3h0m10.9 1.1h0m-5.7-3.2h0m-2.4-8.2h0m2.5 14.9h0m-1.2-6.7h0m1.4-13.3h0m.9 11h0m-4.8-.2h0m0-12.1h0m4.7 5.1h0m-6-11.1h0m5 14.9h0m-2.4-.4h0m-5.3 1.6h0m9.7-.9h0m-5.2-1.6h0m3.8 8h0m.7-6.6h0m-5 4.9h0m9.5-10.8h0m-2.7 6.4h0m-3.4-12.8h0m9-4.6h0m-7.3 11.9h0m4.2-.4h0m-5.5 8.3h0m2.1-9.1h0m1.1 7.3h0m1.5-7.2h0m-5.1 1h0m-4 5.1h0m6.2 9.3h0m-3.6-8.2h0m7.3-4h0m-5.4 2h0m-3.7-9h0m9 9.3h0m-6-11.3h0m1 19.3h0m-6.3-16.5h0m11.2 18.5h0m2.2-15.8h0m-4.7-1.6h0m-.4 3.1h0m-1.6 13.6h0m.7-12.6h0m-1.4 4h0m-2.9-.5h0m5.6 10.8h0m-9.2-5.4h0m18.3-5.5h0m-11.5 7.6h0m-3.1-13h0m4.2-.7h0m3.8 4.6h0m-3.6 20.2h0m-4.1-12.8h0m-1.9 2.5h0m8.9-8.8h0m.1 11.7h0m1.9-12.8h0m-7.1 8.8h0m-7-13.6h0m9.7 9.3h0m6.8 9.5h0m-7.6-10.5h0m-8.1-5h0m7.8-.3h0m-1 6.6h0m-5-9.3h0m-4.1 13.6h0m3.6-22.6h0m9 11.8h0m1-1.2h0m5.7 8.6h0m-9.8-4.8h0m-1.7 5.5h0m10.9-9.7h0m-15.3 8h0m10.7-16.5h0m-8.7 3.9h0m6.2 11.9h0m-6.4-12.9h0m7-7.3h0m-.2 15h0m6.3 9.1h0m-12.4-10.1h0m1.5-3.5h0m1.8 13.3h0m-7.8-9.4h0m14.8 7.7h0m-11.4-12.3h0m-.2-6.3h0m9.9 13.2h0m-9.1-11.8h0m1.5 7.3h0m10.4 .4h0m-7.9 12h0m2.7-9.8h0m-.4-2h0m-3.3-4.1h0m-4-4.2h0m6.9 15.8h0m-1.6 2h0m1.7-5.1h0m-6.9 3.6h0m10.1 .4h0m.3-8.7h0m-10.9 13.5h0m1.9-7.9h0m2-1.7h0m-.4-4.4h0m-7.5 19.2h0m9.8-30.1h0m-5.5 6.3h0m7.3 21.7h0m-4-7.1h0m4.1-15.6h0m3.1-3.4h0m-8.8 10.4h0m9 3.7h0m-6.8-7.2h0m1 6.6h0m3.2 10.6h0m0-10.8h0m-4.3 12.4h0m1.7-12.6h0m7.8 12.4h0m-6-13.2h0m-5.9 9.3h0m.9-.9h0m-1.6-6.7h0m5.8 .3h0m-.9 1.9h0m-6.6-11.7h0m4.8 22.8h0m.1-21.4h0m-2.6 7.6h0m9-4.7h0m-3.1 5.9h0m-4.4-8.9h0m1 1.7h0m3.3-8.1h0m2.9 19.7h0m-2.7 5.8h0m.1-25.1h0m-2.6 16.9h0m-3.6-12.3h0m5.4 12.8h0m-4.2-5.9h0m-.4-2.5h0m2.2 12.8h0m-7.6-11.1h0m15.8 5.2h0m-7.1 4h0m13.3-15.8h0m-2.6-1.1h0m7.5 10.1h0m-2.6-6.7h0m3.2 5.7h0m-.6-11.1h0m-3.1-2.7h0m3 7.4h0m-3.5 10.3h0m7.8-4.5h0m-4.1-1.3h0m-3.4-1h0m9.7-3.6h0m-10 4.5h0m6.1 3h0m-7.3-4.3h0m2.8-4.8h0m1.3 3.3h0m3.3 4h0m-6.6-1.5h0m1.6-3.2h0m-.5 7.5h0m.3-12.2h0m-1.4 11h0m11.4-8.1h0m-9.8 3.2h0m-4.1 3.2h0m5.3-.6h0m8.9-2.4h0m-5.6 4.9h0m-5.6-6.3h0m8.6 5.7h0m-5.5-7.9h0m2.8 7.1h0m5.1 4.2h0m-5.4-5.3h0m-2.9-3.6h0m1 3.5h0m1.3 3.7h0m-1.3-7.2h0m1.9 9.2h0m-6.3-5h0m5.3 .5h0m-.1-2.7h0m-2.4 7.8h0m7.1-13.5h0m-16.6 8h0m7.3-4.2h0m-3.6 3.8h0m6-3.9h0m3.7 13h0m2.2-5.5h0m-7.3-2.2h0m1.5 2.2h0m2.4-5.3h0m-.2-2.9h0m1 9.7h0m-4.5-4.2h0m-5.1 1.7h0m9.9-8.6h0m3.4 5h0m-13.5-6.5h0m10.1 4.8h0m.9-5.6h0m-4.7 11.1h0m-2.2-1.3h0m1.2-1.5h0m2.7 8.3h0m-6.1-6.4h0m9.9-8.3h0m-4.8 15h0m3.8-23.1h0m-5 5.5h0m2.1 4.3h0m-3.4-.5h0m3.3 1.7h0m-4.6 1h0m5.1-2.7h0m2.7-3.6h0m-2.7 5.6h0m4.5-1.1h0m-8.7-3.1h0m10.3 8.6h0m-11.9-4.2h0m.5 8.2h0m5.3-15.6h0m-.8 12.9h0m-.8-1.9h0m-.4-1.2h0m1.2-4h0m.6 3.8h0m-1.5-3.7h0m-3.8 4.1h0m7.1-11.7h0m-5.3 16.5h0m5.7-9h0m1.7-1.2h0m-8.4 12.8h0m1.4-9.4h0m-4.7-3.5h0m1.8 3.8h0m-2.5 5.3h0m5.7-7.3h0m-1.1 5.9h0m8.5-5.1h0m.3 8.8h0m-1.1-5.7h0m-11 1.6h0m4.2-2h0m-5.7-2.1h0m8.2-2.9h0m.2 11.4h0m-.2-10.3h0m8.4-6.4h0m-12.9 11.2h0m1.3-11.8h0m3.3 13.6h0m-4.1 2.8h0m5-1.2h0m-7.8-5.2h0m12.1 8.8h0m-1.1-8.8h0m-4.4-2.7h0m3.6-.3h0m-3.8-6h0m-6.4 16.8h0m6.1-6.9h0m-8.8-1h0m16.7-6.5h0m-17.4 5.9h0m7.2-.2h0m-2.8-5.1h0m.1 8.8h0m4.6 .8h0m-4-1h0m2.5-2.2h0m5.3-.3h0m-5-7.4h0m1.6 10.7h0m-2.7-3.7h0m-4.4-5.6h0m8.5 11.6h0m-2.8-13.1h0m-.3 .5h0m.4 15.4h0m2.3-9.2h0m2.9-1h0m-2.8 2.6h0m.4-7.4h0m1.1 10.4h0m-11.7-15.9h0m5.4 18.6h0m3.6-3.6h0m2.1 .9h0m-4.7-6.5h0m4 5.3h0m.8-1.2h0m-4.2 3.4h0m3.8-.2h0m-11.9-.2h0m.4-3.6h0m7-.4h0m.7-1.9h0m2.7 2.9h0m-3.9-12.7h0m0 13.6h0m-.2-.5h0m1.8-6.1h0m6.1 11.6h0m-5-7.6h0m8.1 14.3h0m-10.9 7.3h0m10.5-4.9h0m-9.9 2.5h0m-3.7-2.5h0m6.9-5.8h0m4.9 9.6h0m2.8-6.6h0m-13.9 1.9h0m-.1 8.5h0m1.9-7h0m7 2.3h0m7.4-4.6h0m-3.4 3.6h0m-12.2 0h0m-1.3 4.4h0m4-1.8h0m12-4.8h0m-13 2.2h0m-.9 2.3h0m7.2-5h0m-5.1 4.5h0m-4.5 2.8h0m3.9-5.6h0m-.8 5.4h0m10.4-.9h0m-1-3.6h0m6.2 1.7h0m-7.5-.3h0m1.8-.9h0m-5.4-5.6h0m13.3 .9h0m-25.2 1.8h0m24.5 5.7h0m-15.2-2.8h0m3.5-6.7h0m-1.9 6.8h0m9-4.5h0m-20.5-1.1h0m15.5 4.9h0m-1.1 .2h0m-3.1-4.5h0m4.9 5.3h0m.8 2.5h0m-10.9-10.7h0m-3.3 13.4h0m5.2-5.2h0m5.4 1h0m-.9-4h0m-19.4-23.7h0m7.1 25.2h0m-12.2-8.9h0m26.1-21.4h0m-10.1 32.6h0m5.7-14.6h0m12.8 6.4h0m-22.8-8.8h0m25.4 20h0m-1.2-12.9h0m-32.4-16.6h0m10.1 22.2h0m-15.9 4.8h0m32.8-12.4h0m-32.8 12.2h0" stroke="#000" stroke-opacity="0.35" stroke-width="0.55" stroke-linecap="square" fill="none"/>
</g>
<line x1="201.20" y1="238.60" x2="201.20" y2="284.10" stroke="#999" stroke-width="0.9" />
<line x1="181.40" y1="267.00" x2="227.00" y2="267.00" stroke="#999" stroke-width="0.9" />
<rect x="181.40" y="238.60" width="45.60" height="45.50" fill="none" stroke="#262626" stroke-width="1.4" />
<text x="183.00" y="245.40" font-size="6.8" textLength="5.92" lengthAdjust="spacingAndGlyphs" fill="#1a1a1a" stroke="#222" stroke-width="0.15">87</text>
<text x="224.20" y="245.40" font-size="6.8" text-anchor="end" textLength="2.96" lengthAdjust="spacingAndGlyphs" fill="#1a1a1a" stroke="#222" stroke-width="0.15">4</text>
<text x="183.00" y="281.80" font-size="6.8" textLength="7.54" lengthAdjust="spacingAndGlyphs" fill="#1a1a1a" stroke="#222" stroke-width="0.15">8.6</text>
<text x="224.20" y="281.80" font-size="6.8" text-anchor="end" textLength="10.50" lengthAdjust="spacingAndGlyphs" fill="#1a1a1a" stroke="#222" stroke-width="0.15">0.45</text>
<line x1="175.40" y1="289.40" x2="175.40" y2="267.20" stroke="#111" stroke-width="1.3" />
<line x1="174.80" y1="288.80" x2="196.80" y2="288.80" stroke="#111" stroke-width="1.3" />
<path d="M173.10,268.00 L175.40,264.20 L177.70,268.00Z" fill="#111"/>
<path d="M196.00,286.50 L199.80,288.80 L196.00,291.10Z" fill="#111"/>
<text x="172.60" y="277.10" font-size="10" text-anchor="middle" textLength="13.40" lengthAdjust="spacingAndGlyphs" fill="#333" transform="rotate(-90 172.60 277.10)" >CD8</text>
<text x="176.70" y="298.40" font-size="10" textLength="11.90" lengthAdjust="spacingAndGlyphs" fill="#333" >TCR</text>
<text x="299.30" y="236.80" font-size="9.2" text-anchor="middle" textLength="68.80" lengthAdjust="spacingAndGlyphs" fill="#444" >Gated CD8<tspan>pos</tspan>TCRβneg</text>
<clipPath id="cp5"><rect x="244.90" y="239.60" width="45.00" height="44.50"/></clipPath>
<g clip-path="url(#cp5)">
<ellipse cx="261.00" cy="255.00" rx="6.00" ry="7.00" transform="rotate(0 261.00 255.00)" fill="#000" fill-opacity="0.1" filter="url(#bl3)"/>
<ellipse cx="264.00" cy="273.00" rx="11.00" ry="5.20" transform="rotate(-6 264.00 273.00)" fill="#000" fill-opacity="0.85" filter="url(#bl2)"/>
<ellipse cx="261.00" cy="273.60" rx="7.50" ry="4.20" transform="rotate(-4 261.00 273.60)" fill="#000" fill-opacity="0.9" filter="url(#bl1)"/>
<path d="M254.1 276.2h0m-2-4.9h0m-4.6 7.8h0m33.9-10.7h0m-22.8 2.6h0m1.1 3.9h0m15.5-7.1h0m-8.4-1.9h0m9.3 5h0m-17.1 7.5h0m4.7-1h0m9.5 0h0m-15.5-4h0m9.2-1.9h0m9-2.8h0m-3.4 7.7h0m-24.4-5.6h0m8.5 .6h0m10.4 .2h0m-2.5-.8h0m-1 3.5h0m6.1-5.1h0m-6.8 .7h0m-.7-2.2h0m9.7 6.3h0m-9-3.8h0m-2.7 .4h0m-7.8 8.9h0m2.6-4h0m13.3-9h0m-19.3 9.5h0m-.2 3.1h0m11.4-5.9h0m3.7-2.6h0m-1 1h0m11.1-.5h0m-10.3-.4h0m-4.9-.2h0m6.1 8.4h0m8.2-6.5h0m4.6 2.2h0m-12-2.8h0m-10.2 2.5h0m5.5-7.1h0m-6.4 13.1h0m11.4-6.2h0m-.5-3.4h0m2.7 5.2h0m-6.4-1.4h0m10.3-4.5h0m-6.9-.2h0m3.6 .9h0m4.1-1.8h0m4.5 1.1h0m-20.3 .1h0m12-1.1h0m9.8 6.5h0m-11.2-8.4h0m-4.1 2.9h0m-13.8 5.5h0m31.6-6.7h0m-10.4 7.5h0m-14.7-4.2h0m10.1 1.8h0m-11.3 .3h0m8.5 1.7h0m-12.4-4h0m8.8-.1h0m9.6-2.1h0m16-2h0m-14.4 7.6h0m.5-4.3h0m-14.3 1.3h0m12 .1h0m-.5 1.6h0m-12.2-4h0m18.7-.4h0m-23.2 10.7h0m4.9-10.4h0m14.3-2.1h0m-13.8 9.1h0m.9 5h0m7.4-.1h0m-.8-9.2h0m-6.2-.3h0m1.2 .5h0m9.7-5.4h0m-13.8-1.4h0m20 5h0m-12 1.3h0m8.2 .5h0m-1.4-1.6h0m-7.7 1.2h0m-13.4 5.5h0m1.5-7.5h0m18.3 1.7h0m1.7 5.7h0m8.2-2h0m-16.3 4h0m-6-6.9h0m14.9-2h0m-9 .5h0m11.1-8.6h0m.5 12.3h0m-10.9-.6h0m-6.9 2.7h0m31.3-10.5h0m-12.9 4.4h0m-14 0h0m.9-2.8h0m-8.2 11.1h0m10.3-5h0m2.5-.5h0m-15.1-3.4h0m17.9 4.9h0m-14.7-4h0m1 4.3h0m11.1-3.4h0m-7.8 1.9h0m5-4.3h0m2.4 0h0m5.4 4h0m-13.1 1.2h0m5.6-5.1h0m-8.2-2.5h0m-1 7.2h0m18.3-5.4h0m-8 4.3h0m5-.2h0m3.6 .7h0m-15.9 .4h0m6.3 0h0m-2.5 1.1h0m12.3-7.1h0m-14.4 5.4h0m8.2-1.3h0m2.2-4.9h0m.4 8.2h0m2.4-2.8h0m-10.7 1h0m.5-7.1h0m-3.6 5.9h0m.4-3.2h0m2.4 1.7h0m2.5 .9h0m1.2 3.5h0m-.5-2h0m-12-10.5h0m7.9 11.9h0m0-4.6h0m-6.6 6h0m5.4-2.8h0m13.3-.4h0m8.6-3.2h0m-9.9 3.9h0m-13.1-.9h0m.3-3.8h0m7 .2h0m11-1.1h0m-17.4 4.8h0m.2-.2h0m-1.3-5h0m17.7 4.7h0m-11.2-2h0m-2.1 2.9h0m-10.3-2.8h0m4.7 6.7h0m-1.4-.1h0m5.3 4.9h0m2.1-9.7h0m11.7 1.7h0m-4-6.4h0m2.6 9.4h0m-10.7-6.5h0m-7.3 6.1h0m10.6-4.7h0m-11.5 6.9h0m16.2-7.5h0m4.4-3.7h0m-4.8 .3h0m4.5 2.1h0m-1.5-.4h0m-6 6.1h0m-10.7-2.5h0m.7 2.6h0m1.5-4.5h0m3.7 5h0m-7.1-3.4h0m5.5-2.4h0m-3.5 1.7h0m7.3-5.6h0m.4 1.2h0m-.4 12.2h0m-8.7-7.3h0m6 3h0m-2.7-9.4h0m-8.4 7.8h0m15.2 1.5h0m-6.4-.7h0m-4 2.6h0m7.2-7.7h0m2.9 8.2h0m-9.3-9.5h0m-1.3 .4h0m8.2 4.5h0m-.9-.5h0m10.5-2.8h0m-20.1-4.9h0m12.5 4.3h0m-3.5 4.2h0m4.9-7.4h0m-10.7 6.9h0m6.9 3h0m-4-10.9h0m13.4 .1h0m-16.3 8.9h0m.1 7.3h0m9.6-7.8h0m-4.8 6.4h0m6.7-11h0m5.4-4h0m-14 8.4h0m5.3-5h0m12.4 7.3h0m-20.4-1.7h0m2.1-3.1h0m13.1 .6h0m-8.7 .8h0m-8.1 4.8h0m3.4 0h0m1.7-6.4h0m15.7 .6h0m-17.2-.7h0m10.8 7.3h0m-.8-7.9h0m-13.9 .5h0m8.3 2.4h0m-3.8 4h0m-3.2-6.7h0m12 3h0m-6.9 2.4h0m-7.8 3.2h0m28.7-1.9h0m-16.4 1.7h0m-.8-2.1h0m-2.4-3.8h0m5-7.3h0m-4.5 12.7h0m8.5-5.8h0m-5.4 4.3h0m-.1-11.6h0m-9.6 6.7h0m8.6-1.5h0m-1.2 7.6h0m7.9-4.6h0m-7.6-1.1h0m2.9 .3h0m-8.5 2.8h0m-1.1-2.8h0m3.3-4.2h0m8.1 3h0m-14.1 1.4h0m-1.1 5.4h0m15.2 .4h0m-9-3.6h0m-3.8-5.1h0m7.4 3.7h0m7.8-3.2h0m1.9 4.1h0m-16.1-2.3h0m.4 6.6h0m2.6-3.2h0m11.2-5.1h0m-10.9 3.2h0m-2.9-5.3h0m-.9 5.7h0m9.7 4h0m-16.5-2.7h0m5.6 1.7h0m14.3-5.1h0m5.9-2.4h0m-16.1-.7h0m-.6 4.1h0m11 3h0m-8.2-6.2h0m-.4 1.1h0m-1 .2h0m-3.1 1.5h0m2.8-.7h0m-6.8 1.9h0m15.7 .1h0m-9.6-5.3h0m-5.9 .5h0m5.5 2.5h0m-8.6 4.3h0m2.2-25.1h0m4 10.6h0m12.7-8.3h0m-10.5-.2h0m.4 1.5h0m13.2-6.4h0m-12.7 2.1h0m2.3 1.9h0m1.1-3.9h0m7.6 9h0m-19.3 3.4h0m6.5-12.9h0m4.5 4.4h0m1.5-.2h0m.8 4.8h0m-2.7 .1h0m-3.6-3.6h0m4 7.4h0m-4.2 10.6h0m10.4-23.4h0m-3 7.4h0m-4.2-5h0m7-.2h0m-8.6 .7h0m10 13.7h0m-16.1-11.8h0m8.3 .1h0m-3.5-4.4h0m2.9-.1h0m2.9 24h0m-5.7-5.2h0m3.4-15.9h0m-3.5-2h0m2.3 11.4h0m4-6.7h0m-10.5 1.4h0m14.2 2.4h0m-8.6-16.2h0m-1.8 18.1h0m-2.6 5.5h0m1.9-15.3h0m-.1 5.4h0m7.8-3.3h0m-13.7 3.4h0m11.4 11.1h0m-8.1-.4h0m8.8-7.1h0m-7.1-9.1h0m-.9 12.4h0m5.8 1h0m7.9-7.3h0m-9.2 13.1h0m-6.2-16.3h0m4.6 .5h0m2.5-3.1h0m5-3.6h0m-9.7-2.3h0m-2.9 15.7h0m10-5.4h0m1.1 5.6h0m-7-4.5h0m4.6 14h0m-4-11.2h0m4.9 5.8h0m-.6-1h0m-7.3-9.2h0m-4.3 1.5h0m21 2h0m-11.1 .2h0m.3-10.9h0m-4.1 7.8h0m4.2-4.7h0m-1.3 .9h0m-6 .5h0m2.5 10.3h0m10.6-1.8h0m-7.6-7.8h0m-6.7 .2h0m15.4 11.5h0m-6.6-9.5h0m-1.1 4.5h0m0 .1h0m-3.8-2.6h0m2.1 7h0m-4.4 1.5h0m5.7-12.3h0m.5 4.3h0m-1.2 2h0m-1.7-14.4h0m6.2 11.4h0m4.8 2.8h0m-18 5.8h0m6.4-4.7h0m14.3 3.7h0m-16.3-8.1h0m-2.5 5.2h0m10.7-11.6h0m-.6 13.4h0m1.8-10.9h0m-7.4-3.1h0m-2.9 9.8h0m6.5 6.7h0m1.1-11h0m-8.3 12.7h0m7.8-10.8h0m-5.7-6.9h0m8 .5h0m-.2 10.9h0m-4.8-15.3h0m3.9 20.6h0m11.6 3h0m-26.7-9.1h0m12.7 6.6h0m.5-19.7h0m14.1 6.7h0m5 .7h0m-10.3 21.1h0m-18-3.2h0m-2 8.6h0m-1.8-8.9h0" stroke="#000" stroke-opacity="0.35" stroke-width="0.55" stroke-linecap="square" fill="none"/>
</g>
<line x1="264.60" y1="239.60" x2="264.60" y2="284.10" stroke="#999" stroke-width="0.9" />
<line x1="244.90" y1="263.90" x2="289.90" y2="263.90" stroke="#999" stroke-width="0.9" />
<rect x="244.90" y="239.60" width="45.00" height="44.50" fill="none" stroke="#262626" stroke-width="1.4" />
<text x="246.50" y="246.40" font-size="6.8" textLength="2.96" lengthAdjust="spacingAndGlyphs" fill="#1a1a1a" stroke="#222" stroke-width="0.15">2</text>
<text x="287.10" y="246.40" font-size="6.8" text-anchor="end" textLength="7.54" lengthAdjust="spacingAndGlyphs" fill="#1a1a1a" stroke="#222" stroke-width="0.15">0.7</text>
<text x="246.50" y="281.80" font-size="6.8" textLength="5.92" lengthAdjust="spacingAndGlyphs" fill="#1a1a1a" stroke="#222" stroke-width="0.15">64</text>
<text x="287.10" y="281.80" font-size="6.8" text-anchor="end" textLength="5.92" lengthAdjust="spacingAndGlyphs" fill="#1a1a1a" stroke="#222" stroke-width="0.15">33</text>
<clipPath id="cp6"><rect x="293.00" y="239.60" width="44.60" height="44.50"/></clipPath>
<g clip-path="url(#cp6)">
<ellipse cx="307.00" cy="255.00" rx="5.00" ry="7.00" transform="rotate(0 307.00 255.00)" fill="#000" fill-opacity="0.06" filter="url(#bl3)"/>
<ellipse cx="322.00" cy="273.50" rx="8.00" ry="2.60" transform="rotate(0 322.00 273.50)" fill="#000" fill-opacity="0.35" filter="url(#bl2)"/>
<ellipse cx="309.00" cy="274.00" rx="9.00" ry="3.80" transform="rotate(-3 309.00 274.00)" fill="#000" fill-opacity="0.8" filter="url(#bl2)"/>
<ellipse cx="307.50" cy="274.20" rx="6.50" ry="3.00" transform="rotate(0 307.50 274.20)" fill="#000" fill-opacity="0.9" filter="url(#bl1)"/>
<path d="M306.6 274.7h0m-4.1 .6h0m4-1.1h0m-3.2-1h0m14.4-.2h0m-13 1.2h0m12.2-1.1h0m-16.1-3.4h0m-1.3 6.4h0m9.8-1.4h0m9.1-.5h0m-4.6-1.9h0m-16.4 2.7h0m11.8-.1h0m-7.6-1.7h0m24.2-1.7h0m-15 5.2h0m-2.6-2.9h0m-1.7 2.8h0m2.8-4h0m4.1 .3h0m-7.4 4.4h0m11.7-3.5h0m-1.4 1.7h0m-1.7-1.9h0m-4 .9h0m3.8-.1h0m-8.7-1.1h0m7.9-2.1h0m-3.7 4.2h0m1.4-2.6h0m-1.5-.4h0m7.9 .2h0m-20.7-2h0m15.3 3.4h0m-6-3.6h0m2.5 1.1h0m-3.9 2h0m-.9 .8h0m.2-1.9h0m4 4.6h0m14.2-1.2h0m-18.2-2.3h0m13 2h0m-20-2.1h0m7 1.9h0m10.8-3h0m11.8 .6h0m2.3 .2h0m-19.8 5h0m-3.4-5.7h0m15.7 1h0m-7.9-2.9h0m10.3 5.4h0m-11.2-.7h0m-6.7-2.8h0m-8.4 2h0m22 1.2h0m-2.5-.4h0m-14.4-4.8h0m12.2 3.5h0m2.7-1h0m-14.6 1.7h0m2.5-5h0m-.4 1.8h0m-3.9 .8h0m16.1 6.9h0m6.1-6.5h0m-4.6 .8h0m-5.7-1.5h0m-3.8-2.4h0m14.6 2.2h0m-9.4 .4h0m-2.5-1.4h0m-5 5h0m7.6-6.8h0m2 1.5h0m-4.5 4.4h0m-7.2-2h0m3.1 1.7h0m9.1 2.3h0m-4.6 1.5h0m-10-.5h0m5.4-2.4h0m1-1.7h0m-6.2 .8h0m23.1-.6h0m-16.1-.3h0m5.8-.5h0m-5.6 1h0m10.2 1.7h0m-18.4-3.8h0m8.4 3.6h0m7.4-2.6h0m9.1 .2h0m-5.7 3.7h0m1.5-2.9h0m-8-4.1h0m-18.4 2.2h0m19.5 4h0m-6.4-.1h0m5.3 1.2h0m-17-5.6h0m5-.5h0m20.4 .2h0m-19.4 1.3h0m13.4-.2h0m-1.1 2.4h0m-10.8-6.9h0m-2.2 2.7h0m20 1.2h0m-21.2 2.6h0m8.8-3.1h0m8.2 4.4h0m-6.4-4h0m-9-3h0m9.8 5.8h0m-10.2-.9h0m32.9-2.7h0m-39.1 4.1h0m10.1-2.6h0m8.2 .8h0m2.9 1.6h0m1.3-1h0m-22.4 2.2h0m15.3-5.8h0m-1.5 5.4h0m-8.5-2h0m2.2-2.5h0m1 5.5h0m10.2-3.1h0m-6 .3h0m2.8 .2h0m-15.7 1.7h0m6.8-8.4h0m12.2 3.4h0m-6.6 2.6h0m-3.5 1.5h0m2.5-1.9h0m-5.4 0h0m-.6 .7h0m18.5 2.3h0m-7-5.6h0m4.7 5.4h0m8.1-7.5h0m-16.1 4.5h0m8.4-1.8h0m-11.5 8.1h0m10.8-10.2h0m-7.6 8h0m-5.1-1.9h0m5.7-4.9h0m-5.7 6.2h0m14.2-4.1h0m-.5-.3h0m-6.9 1.7h0m-11.7 .8h0m6.7-7.3h0m-3.4 4.5h0m-.1-.3h0m1.2-3.5h0m12.4 6h0m-5-.8h0m-1.5 0h0m-9.1-3h0m9.2 6h0m1.2 1.5h0m-12.5-4.5h0m5.8 3.6h0m18.2-4.2h0m-7.5 .6h0m-13.7 .4h0m-.3 3.9h0m12.8-.9h0m-1.8-8.6h0m3.5 6h0m1.7 3.9h0m-16-2.2h0m10.6-2.3h0m-4.8 1.7h0m6.7 .3h0m-7.7-4.7h0m13.6 6.2h0m-14.8-3.2h0m10.8-4.1h0m-2.5 10h0m-1.8-7.5h0m14 1.7h0m-14.4-1h0m-.3-3.3h0m-11.5 .8h0m17.2 3.3h0m2-4.7h0m-13.8 8.4h0m-1.5-8h0m.3 3.7h0m5.8 3.9h0m10.6 .6h0m-5.9-4.9h0m-8.5-2.3h0m13.9 6.5h0m-9.3-5.1h0m4.6 3.3h0m-4.1-4h0m.7 1.4h0m3.9 2.8h0m-2.3-2.4h0m8.5 2.9h0m-2 .1h0m-4.8-1.1h0m-13.6-5.3h0m1 5.9h0m14.6-1.1h0m-6.5 4h0m-3.8-8.7h0m-9.1 3.5h0m17.7 2.6h0m-7.2 .2h0m1.3-3.7h0m-2.6 3.5h0m10.5-4.5h0m-15.3 3h0m24.5-3.1h0m-26.5 3.8h0m13.8-2.5h0m-4.2 2.7h0m-13.5-1.3h0m18.4 2.3h0m4.4-2.4h0m-20.4 3.4h0m17.4-4.7h0m2 4h0m-9.2-8.2h0m-2.6 3.9h0m-2.9 1.6h0m-1.9 1.1h0m23.3-3.7h0m-6.6 1.5h0m-3.9 1h0m5.8-1.4h0m-4.4-.2h0m-3.9 1.9h0m6.7-3.8h0m-19.1 7.1h0m13.6 .8h0m-11.1-3.6h0m12.8 3.7h0m-8.9-25.3h0m3 2h0m-5.7 5h0m-4.6-10.2h0m12.8 2.9h0m-6.6 5h0m5.7 .9h0m-8.2-6.3h0m7.9 2.6h0m-6.6 5.7h0m7 7.5h0m-8.7-16.6h0m1.5 6.1h0m.8 4.4h0m-8.6-.9h0m8-7.1h0m4.7 2.8h0m-6.2 7.4h0m6.3-11.4h0m-1.5-3.6h0m-5.6 4.7h0m6.2 2.3h0m-4.4-8.6h0m-3.6 17.2h0m8-13.8h0m3.2 7.7h0m-6.2-6.6h0m6 5.4h0m2 .2h0m-8.7-5.5h0m-.4 4.9h0m3.7 2h0m.8-9.5h0m-2.6 .6h0m2.7-2.2h0m-4.2 2.7h0m-.1 3.4h0m8.3 0h0m-11.5-.2h0m8.5 4.9h0m-2 8.3h0m3.4-11h0m.4-8.2h0m-5.4 2.7h0m1.4 14.3h0m-2.6-.1h0m-2.1-1h0m-2.6-13.1h0m10.5 4.4h0m-3.3 .4h0m24.2-12.6h0m-13.9 15h0m9.4-3.1h0m-23.6 19.7h0m14.4-1.2h0m-2.5-30.2h0m11.8 7.7h0m-12.6-9.2h0" stroke="#000" stroke-opacity="0.35" stroke-width="0.55" stroke-linecap="square" fill="none"/>
</g>
<line x1="312.40" y1="239.60" x2="312.40" y2="284.10" stroke="#999" stroke-width="0.9" />
<line x1="293.00" y1="263.90" x2="337.60" y2="263.90" stroke="#999" stroke-width="0.9" />
<rect x="293.00" y="239.60" width="44.60" height="44.50" fill="none" stroke="#262626" stroke-width="1.4" />
<text x="294.60" y="246.40" font-size="6.8" textLength="7.54" lengthAdjust="spacingAndGlyphs" fill="#1a1a1a" stroke="#222" stroke-width="0.15">1.2</text>
<text x="334.80" y="246.40" font-size="6.8" text-anchor="end" textLength="7.54" lengthAdjust="spacingAndGlyphs" fill="#1a1a1a" stroke="#222" stroke-width="0.15">0.3</text>
<text x="294.60" y="281.80" font-size="6.8" textLength="5.92" lengthAdjust="spacingAndGlyphs" fill="#1a1a1a" stroke="#222" stroke-width="0.15">65</text>
<text x="334.80" y="281.80" font-size="6.8" text-anchor="end" textLength="5.92" lengthAdjust="spacingAndGlyphs" fill="#1a1a1a" stroke="#222" stroke-width="0.15">33</text>
<line x1="238.40" y1="290.00" x2="238.40" y2="267.80" stroke="#111" stroke-width="1.3" />
<line x1="237.80" y1="289.40" x2="260.00" y2="289.40" stroke="#111" stroke-width="1.3" />
<path d="M236.10,268.60 L238.40,264.80 L240.70,268.60Z" fill="#111"/>
<path d="M259.20,287.10 L263.00,289.40 L259.20,291.70Z" fill="#111"/>
<text x="236.60" y="278.10" font-size="10" text-anchor="middle" textLength="16.20" lengthAdjust="spacingAndGlyphs" fill="#333" transform="rotate(-90 236.60 278.10)" >CD44</text>
<text x="242.20" y="298.40" font-size="10" textLength="17.70" lengthAdjust="spacingAndGlyphs" fill="#333" >CD25</text>
<text x="393.00" y="151.50" font-size="9" text-anchor="middle" textLength="9.90" lengthAdjust="spacingAndGlyphs" >Thy</text>
<clipPath id="cp7"><rect x="370.70" y="153.90" width="45.00" height="44.20"/></clipPath>
<g clip-path="url(#cp7)">
<ellipse cx="388.00" cy="181.50" rx="9.00" ry="16.00" transform="rotate(45 388.00 181.50)" fill="#000" fill-opacity="0.4" filter="url(#bl3)"/>
<ellipse cx="389.50" cy="180.00" rx="6.50" ry="12.00" transform="rotate(35 389.50 180.00)" fill="#000" fill-opacity="0.75" filter="url(#bl2)"/>
<ellipse cx="391.50" cy="176.50" rx="4.50" ry="8.00" transform="rotate(25 391.50 176.50)" fill="#000" fill-opacity="0.92" filter="url(#bl1)"/>
<path d="M377.1 192.1h0m23.5-21.5h0m-23.5 7.3h0m14.9-3.2h0m-7.2-2.5h0m8.9 3.2h0m-13 10.5h0m8 3h0m9.6-18.9h0m-16.7 25.9h0m4.8-.1h0m1.1-10.7h0m-7.9 5.2h0m-7.9 5.4h0m23.4-13.4h0m5.9-13.3h0m-13.3 6.2h0m19.1 11.5h0m-14-.7h0m-9.9-1.8h0m-10.5-5.7h0m23.7 14h0m-8.6-10.6h0m8.3-1.4h0m-10 4.8h0m-1.4-3.1h0m.9 5.7h0m3-15.6h0m-10.3 15.6h0m24.5-18h0m-2.2 3.1h0m-16.7 4.7h0m5.9-.7h0m16.1 5.9h0m-11.6 8.1h0m-14.2 .1h0m17.8-14h0m-16-3.3h0m-.3 19.9h0m-.7 1.6h0m10.6-8.9h0m-3.1-.3h0m-1.3-9h0m6.2 1.2h0m-.3-15.1h0m-5.2 24.1h0m10.8-14.5h0m-2.3 9.4h0m-1.1-1.9h0m-11.9-15.9h0m20 5.1h0m-13.7 7.6h0m2.9 5.2h0m10.7-11.8h0m-27.8 18.2h0m0-7.8h0m20.1 16.1h0m-22.2-13.4h0m4.6-9h0m.2 13.7h0m15.4-.2h0m-2.9 8.9h0m3.7-25.6h0m9.9 18.4h0m-12.1-7.7h0m7-15.4h0m-9.6 12.7h0m8.4 2.5h0m-8.1-16.4h0m-2.6 17.2h0m8.4-1.1h0m-4.8 3.1h0m7 4h0m-12-2.8h0m16.3-5.9h0m-13-3.3h0m5.2 9.6h0m10-11.5h0m-10.8 16.7h0m-10.3-15.8h0m2.4 16.3h0m8.5-14.1h0m4.6 1.1h0m-15.5 7.4h0m-3.6-9.5h0m7.2-12.3h0m-2.7 9.8h0m9 9.7h0m-.1 2h0m-8.4-2.4h0m2.5-2.8h0m11.5 .8h0m4.5-3.5h0m-1.8-11.3h0m-26.5 23.5h0m6.7 1.8h0m8.3-25.8h0m-4.5 23.1h0m20.6-17h0m-13.6 10.4h0m-6 2.3h0m14.3-18.2h0m-5.6-2h0m-11 8.7h0m16.9 8.2h0m-6.7-13.2h0m-13.7 4.5h0m8.3 3.7h0m-7.8 3.1h0m-1.6-.7h0m.8 4.4h0m1.5-3.6h0m10.3 2.4h0m3.8 7.7h0m-16-8.3h0m9.6-8.9h0m-1.4 9.4h0m22.6-6.3h0m-31 12.1h0m6.5-5.6h0m19.8-3.5h0m-22.3 8.1h0m16-22.2h0m-16.6 12.6h0m-6.6 18.2h0m30.9-20h0m-19.9 17.1h0m10.9-5.2h0m-12.8-8.3h0m6.6 13.7h0m-.5 2h0m2.5-24.5h0m15.5 8h0m-19.6-1.7h0m-.8-4.6h0m3.7 4.5h0m-10.1 11.9h0m5.6-14.7h0m-12.8 3.9h0m5.7 17.7h0m14.3-12.5h0m-5.9-6.3h0m-12 4.1h0m14.1-8.3h0m-.9 11.7h0m-2.6-7.9h0m-11.5 12.4h0m22.8-8.4h0m-20.8 10.7h0m-4.3 1.9h0m11.9-4.8h0m-13.5-10.8h0m13.7 9.6h0m1.1 .3h0m-7.6-2h0m17.4-11.9h0m-14.3 3.9h0m24.3-11.3h0m-23.7 5.7h0m-1.6 10.6h0m-7.1 3.1h0m6-7.9h0m4.3 9h0m-10 .7h0m13.7-6.7h0m7-8.8h0m-5.8 15.3h0m-12.9 10.3h0m9.9-22.6h0m-4.4 12.8h0m-1.5-.3h0m23.4-17.3h0m-3.5-7.5h0m-10.2 14.1h0m-.2 8.6h0m-11.4 5.1h0m22-15.6h0m-18 5.5h0m15.5 7.6h0m-12.5-5.5h0m7.3 1.9h0m.1-4.9h0m-1.3-6.8h0m4.1 7.6h0m-7.8 6.7h0m25.4-21.3h0m-20.5 1.7h0m-11.4 19.2h0m10.6 4.1h0m-9.6-7.2h0m-11.7-5.7h0m13 8.2h0m7.9-17.9h0m-6.1 9.8h0m7.2 2.4h0m-7.9 7.8h0m-1.3-13.2h0m1.4-5.3h0m13.2 10.7h0m-4.6 13.8h0m-1.7-7.7h0m-7.6 7.3h0m8.6-15.9h0m-21.8 15.4h0m19.9-16.2h0m6.7-11.9h0m-14.2 16.2h0m8.3-8.1h0m-4.9 13.6h0m-2.9-5.3h0m-6.8 1.6h0m9-9.1h0m6 4.8h0m16.7-3.4h0m-10.3-3.1h0m1.2 .6h0m-12.6 15.2h0m-8.2-1.9h0m8-8h0m12.3-12.6h0m7.4 3.2h0m-23.4 15.3h0m17.6-14.2h0m-20.8 13.4h0m-4-7.3h0m4.2 8.8h0m1-12.7h0m15.4 7.7h0m-2.6-7.7h0m9.7 4.5h0m-17.3-2.2h0m-15.6 21.4h0m25.1-19.5h0m-7.4 10.4h0m1.7-4.5h0m9.2-7.5h0m-13.7-2.4h0m-8 9h0m10.2 4.7h0m6.9-17.9h0m7.3 4.7h0m-11.3 8.9h0m.7 3.6h0m1.7-7.9h0m-10.6-7h0m1.1 22.2h0m18.8-12.2h0m-24 1.7h0m22.8-10.8h0m-27.6 19.2h0m4.6-16.9h0m15.6-2.3h0m-8.5-3.7h0m-5.9-2.3h0m18.6 27.3h0m-2.3-21.4h0m-2.3 8.2h0m-19.8 8.3h0m23.5-11h0m-1.3 11.3h0m-6.3-3.1h0m-.3 6.8h0m-8.1-6.6h0m4.2-4.7h0m18.9 .8h0m-18-7.9h0m-10.3 15.5h0m23.4-3.2h0m-7.5-6.1h0m-5.4 10.1h0m-.4 1.1h0m12.8-1.3h0m-5.8-6.1h0m-6.3-.1h0m-1.4 .5h0m-.1-7.7h0m8.9-6.5h0m-5.6 4.6h0m10.8-5.4h0m-3.8 2.8h0m-12.7 7.3h0m8.6 10h0m-2.2-13.2h0m17.8-.1h0m-1.9-.1h0m-20.3 3.2h0m-10.3 14.2h0m16.5-9.5h0m1.5 2.9h0m-16.7-.3h0m4.5-.8h0m7.8-19.4h0m2.1 25.1h0m18.7-33.2h0m-17.2 24.4h0m-11.4-17.1h0m6.1 18.1h0m7.5-.1h0m-7.3-8.7h0m-.1-11.6h0m16.5 23.1h0m-29.6 9.6h0m19-8h0m1.4-4.5h0m-17.6 1.7h0m.5 9.6h0m13.1-16.9h0m1.5 4.3h0m2.2-8.5h0m-6.5 12h0m10.3 5h0m-21.2-13.7h0m26.6 12.8h0m-17.1-13h0m-8.7-11.2h0m21.9 4h0m-1.1 8.5h0m-13-10.5h0m8.1 22h0m-5.1-12.1h0m9.1 5.3h0m-13.9 8.6h0m5.4-18.3h0m2 11.1h0m1.3-6.8h0m-17.8 18.4h0m33.3-19.5h0m-19.4 6.6h0m11.2-11.2h0m-12.5 10.8h0m-3.9-1.4h0m5.3-22.4h0m-2.1 26.8h0m5.2-7.8h0m-10 13.4h0m12.3-5.3h0m-15.3 2h0m6.2 3.6h0m9.3-17.3h0m.5 4.1h0m-6.6 15.9h0m-14.8-17.6h0m14.3 19.9h0m5.7-23.3h0m-7.3 21.3h0m12.1-20.9h0m-18.6 3.1h0m10.7-3.8h0m-7 19.4h0m.9-25.3h0m11.5 21.1h0m-13.1-2.8h0m10.3-18h0m-15.6 26.8h0m16.8-7.1h0m3-3.1h0m-1-20.3h0m-12.5 26.7h0m7.6-6.7h0m-12.4 4.9h0m21-17.6h0m.9 12.9h0m-9.7 .2h0m1.3 5.1h0m1.2 .6h0m-2.8-13.7h0m7.9 2.9h0m-3.2 5.9h0m-4.2-13.9h0m-16.3 24h0m17.8-8.9h0m-4.9-5.3h0m-10.9 9.5h0m16.5-10.7h0m4.2-4.1h0m-12.4 .4h0m22 7.5h0m-6.8-13.9h0m-12.1 15.2h0m14.6-9.1h0m-11.8-1.3h0m-2.7 6.6h0m-7.8 4.9h0m24.1-4.3h0m-10.7 6.1h0m-6.9 8.8h0m18-23.8h0m-11.5 6.4h0m-2.6 5.7h0m15.4-9.6h0m-20.3 2.9h0m7.6 2.7h0m-5.2 1.8h0m6.6 3.9h0m9-16.9h0m-16.6-11.2h0m20.9 8h0m-16.6 17.2h0m2.9-6.9h0m-14 9.9h0m10.3-2.8h0m-5.9-2.3h0m9.9 6.4h0m1.3-16.4h0m.3 4.3h0m-21.1 6.2h0m26.1-18.3h0m-30.1 29.2h0m27.2-21.2h0m-20.5 10.7h0m11.2 3.5h0m-5-.9h0m8.5 8.5h0m6.1-22.7h0m-19.7 25.6h0m22.6-20.5h0m-21.8 17.2h0m2.1-10.1h0m12.5-21.8h0m-9.2 28.3h0m2-9.1h0m-9.6 9.1h0m-1.5-16h0m11.6-2.6h0m.6-3h0m.2 14.5h0m10.7 6.9h0m-11.4-2.6h0m-9 8.1h0m9.5-10.7h0m-.1-2.3h0m-7.3 7.8h0m7.5-6.7h0m-5.6 5h0m-3.5-.7h0m1.4-2.4h0m15.7 8.6h0m1-20.6h0m-5.1 13.2h0m6-4.3h0m-20.8 17h0m15.8-16.9h0m-10.8-5.9h0m4.9 14.2h0m3.8-21.1h0m.7 .7h0m-6.5 13.3h0m11.3 10.2h0m11.9-16.5h0m-18.4 19.3h0m-5.6-5.2h0m21.5-17.9h0m-27.9 19.1h0m14-16.4h0m-7.5 7.4h0m9.8-4.5h0m-7.8 11.2h0m6.2-20.4h0m-11.3 1.1h0m12.6 6.6h0m-7.3 1.3h0m-2.3 8.5h0m4.9 2.9h0m12.2-9.4h0m-12.8 7.8h0m0-16.1h0m1.5 13h0m-3.5-13.1h0m2.9 24.3h0m-11-3.1h0m6.9-16.5h0m10.4 7.8h0m-17.3-3.1h0m20.4-7.8h0m-1-3.5h0m8.5 19.8h0m-12.3-12.7h0m-6.9-3.1h0m-11.2 22.8h0m1.9-1.1h0m4.8-18.1h0m15.7-9.5h0m10.2 30.6h0m-13.1-21h0m-1.9-6.2h0m3 12.7h0m-10.2-1.2h0m-5.7-4.9h0m3.5 6.8h0m2.1-4.2h0m-2.7 11.6h0m-5.9-5.9h0m7.4-10.4h0m2.9 8.1h0m-4.2-21.5h0m-3.3 25.9h0m-7.1 2h0m5.7-16.4h0m11.9 11h0m-8.4 5.7h0m-2.6-7.9h0m15.5 2.8h0m-9.2-23.9h0m6.2 8.2h0m4.3 8.2h0m-.6 20.6h0m-11.9-25.1h0m6.4 21.3h0m-15.1-9.7h0m5.6-1.1h0m13.5-2.6h0m-15.9 8.9h0m12.6-6.2h0m-14.2 13.6h0m-3.4-24.4h0m31.2 13.2h0m.4-26.2h0m4.3 10.5h0m-3.4 5.1h0m3.4 .2h0m-27.9-14.4h0m10.5-4.4h0m-14.6 36.3h0m18-.5h0m-18.6-16.9h0m14-16.4h0m-9 35.9h0m20.2-18.2h0m-5 15.5h0m15.2-11.7h0m-39.8 12.2h0m5-27.8h0m-1.2 11.9h0m19.6-2.3h0" stroke="#000" stroke-opacity="0.35" stroke-width="0.55" stroke-linecap="square" fill="none"/>
</g>
<line x1="388.40" y1="153.90" x2="388.40" y2="198.10" stroke="#999" stroke-width="0.9" />
<line x1="370.70" y1="180.40" x2="415.70" y2="180.40" stroke="#999" stroke-width="0.9" />
<rect x="370.70" y="153.90" width="45.00" height="44.20" fill="none" stroke="#262626" stroke-width="1.4" />
<text x="372.00" y="161.60" font-size="6.8" textLength="7.54" lengthAdjust="spacingAndGlyphs" fill="#1a1a1a" stroke="#222" stroke-width="0.15">8.6</text>
<text x="412.90" y="161.60" font-size="6.8" text-anchor="end" textLength="5.92" lengthAdjust="spacingAndGlyphs" fill="#1a1a1a" stroke="#222" stroke-width="0.15">60</text>
<text x="372.00" y="196.70" font-size="6.8" textLength="5.92" lengthAdjust="spacingAndGlyphs" fill="#1a1a1a" stroke="#222" stroke-width="0.15">14</text>
<text x="412.90" y="196.70" font-size="6.8" text-anchor="end" textLength="5.92" lengthAdjust="spacingAndGlyphs" fill="#1a1a1a" stroke="#222" stroke-width="0.15">18</text>
<text x="442.30" y="151.50" font-size="9" text-anchor="middle" textLength="11.70" lengthAdjust="spacingAndGlyphs" >Spn</text>
<clipPath id="cp8"><rect x="419.60" y="153.70" width="44.90" height="44.50"/></clipPath>
<g clip-path="url(#cp8)">
<ellipse cx="437.00" cy="180.00" rx="11.00" ry="7.00" transform="rotate(-30 437.00 180.00)" fill="#000" fill-opacity="0.3" filter="url(#bl3)"/>
<ellipse cx="436.00" cy="187.60" rx="12.00" ry="2.50" transform="rotate(0 436.00 187.60)" fill="#000" fill-opacity="0.9" filter="url(#bl1)"/>
<ellipse cx="446.50" cy="175.50" rx="3.90" ry="8.50" transform="rotate(0 446.50 175.50)" fill="#000" fill-opacity="0.95" filter="url(#bl1)"/>
<path d="M433.1 183.1h0m-2.3-9.4h0m7 20.1h0m12.6-28.4h0m-10.6 12.7h0m-6.9 9.9h0m9.3 2.3h0m-2.8-14.2h0m1.7-4.1h0m5.1 8.2h0m-23.5 6.5h0m19.4-3.6h0m-4-3.9h0m-4.8 .6h0m.1-6.2h0m7.4 1.6h0m-1.5-.6h0m1.3 4.3h0m4.9-.1h0m-1.9-3.9h0m-7.9 3.8h0m-8.8 6.1h0m21.1-5h0m-16.5 5.8h0m6.6-17.1h0m2.7 11.9h0m2.9-2.2h0m7.2-9.4h0m.3 13.1h0m-17.5-9.1h0m13.7 .9h0m-4.7 6.9h0m5.1 1.2h0m-26.6-3.9h0m16.9 1.5h0m4.4-3.7h0m.1 17.2h0m9-12.1h0m-9.3-10.1h0m-6.2 9.3h0m-10.5-.3h0m8.5-7.7h0m8.7 8.4h0m-8.8-1.4h0m9.3 1.2h0m-7.7-9.1h0m-4.9 9.6h0m-10.5 2.6h0m13.9 4.7h0m-2-9.1h0m-2.6 1.9h0m-3.7 7.8h0m20.9-13h0m-9.5 14.3h0m0-18.2h0m-6.7 7.2h0m10.3 8.5h0m-9.7-5.1h0m2.7-9.9h0m1.6 13.4h0m3.9-22h0m2.1 11.3h0m7.7 2.9h0m4.1-4.9h0m-22.1 3.7h0m-3.2 12.9h0m15.9-7.1h0m-9.2-13.1h0m-1.6 10.9h0m7.9 3.5h0m8-8.5h0m-20.3 11.4h0m10.5 .8h0m4.6-15.1h0m.6 3.4h0m.8 10.1h0m-17.2-1.3h0m18.3-16.1h0m-7.1 11.2h0m-9.8-5.7h0m-1 3.1h0m17.9-.5h0m-7.9-6.9h0m3.1 8.8h0m1.2-7.6h0m5.4 13.6h0m-.3-18.1h0m-24.4 9.8h0m23.2 3h0m-9.8-6h0m15.5 10.7h0m-15.9-4.6h0m11.6-1.7h0m-1.9-6.1h0m-7.5 4.9h0m-6.9 4.3h0m4.9 3.5h0m-1.6-2.5h0m-8.3-5.5h0m18-8.5h0m9.6 9.7h0m-20.3 4.5h0m-.3-4.8h0m12.6-3.5h0m-4.1-2.1h0m-5.8 19.4h0m-5.2-16.3h0m8.2 12.3h0m-6-10.5h0m12 6.5h0m-11-4h0m9.2 18.6h0m-2-6.4h0m-4.2-8.1h0m-15.4 7h0m14.4-12.2h0m-7.1-4.2h0m-3.1 13.9h0m5.7-5.3h0m2.1-4.5h0m3.9 16.4h0m-11-12.3h0m4-7.4h0m1.8 14.9h0m12-12.8h0m-.9-6.9h0m7.4 15.5h0m-10.8 7.2h0m-13.4-15.5h0m7-1.5h0m4.2-4.8h0m-7.1-2.6h0m9.4 18.4h0m-4.3-3.4h0m5.6-14.4h0m-14.2 17.5h0m10.7-8.9h0m-4.5 14.3h0m-6.5-7.9h0m12 .9h0m-8.4-7.4h0m18.8-11.1h0m-7 9.5h0m-9.4 6.3h0m2.9 1.2h0m-1.8-9.1h0m7.7 21.7h0m11.4-20h0m-15.6 1.5h0m8.4-5.9h0m-13.1 16.5h0m-6.2-8.1h0m15.8-15.6h0m-5.8 17h0m-2.9-10.8h0m.1 8.8h0m21.2-1.6h0m-21.1 11.1h0m7.5-12.1h0m-7.5 3h0m-11.2 3.7h0m26.2 1.3h0m.8-14.9h0m-16.4-6.5h0m-3 10.7h0m7.1-7.2h0m-12.5 11.6h0m17.7 5.1h0m-6.8 11.5h0m-.7-20.4h0m4.3 4h0m4.9 0h0m13.3-1.1h0m-23.1 10.3h0m4.7-16.8h0m-11 7.8h0m-8.3 16.2h0m19.4-6.5h0m-6.6-5.3h0m12.9-.4h0m-10-10.1h0m21.1 2.9h0m-4 8.2h0m-3.7-7.3h0m-6.5 5.4h0m-14.5 9.9h0m2.7-4.7h0m.7 1.9h0m10.1 8.2h0m-1.5-14.8h0m-11.2 .2h0m6.5-3.8h0m-4.9-1.8h0m10.9-2.4h0m-9.6 11.5h0m-1.8-3.3h0m-.2-5.7h0m2.5-.7h0m-3.9 11.5h0m1.2-15h0m4.9 10.2h0m6.9-2.5h0m-.6 2.1h0m-10.5-5h0m9.9-2.6h0m-1 9h0m9-.8h0m-17.9-2.2h0m5.9-11.8h0m-6.9 20.1h0m-.3-11.9h0m15.8 2.3h0m-2-5.6h0m-9.3 5.3h0m-1.3-12.5h0m1.8 20.5h0m-3.3-4.2h0m8.9-.5h0m-10.2-7.1h0m24.2-10.7h0m-9.6-2.7h0m-6.9 16.3h0m21.3 5.3h0m-17.5-13.9h0m-12.8 9.4h0m5.7 4.7h0m-3.8-1.8h0m23.1-.1h0m-14.7 7.4h0m2.4 3.4h0m3.8-5.9h0m-15.4-4.9h0m17.4-3.1h0m-25 7.8h0m18.8-3.7h0m-2.5 10.1h0m5.1-5.2h0m-2.7-9.1h0m-9.8-4.2h0m15.6 6.1h0m-3.3-7h0m-14.9 8.6h0m6.5-.9h0m6.9-11h0m-5.8 15.9h0m15.8 2.8h0m-13.3-16.3h0m-11.8 7.2h0m12.1 1.2h0m-4-4.5h0m.9 3.7h0m6.5-2.5h0m-15-1.1h0m21.2-3.8h0m-12.4 7.7h0m9-7.5h0m-7.1 4.7h0m.5-6.3h0m4 13.6h0m6.2-6.8h0m-3.6 9.6h0m2.6-2.8h0m-23.1-6.3h0m18.1-3.9h0m-11.7 1.4h0m13.8-9.9h0m-11.2 4.9h0m10.2 22.6h0m10.6-27.6h0m-19.1 27.7h0m-8.3-10.5h0m10.6 1.6h0m-15.9 4.9h0m6.4-4.9h0m7.9 2h0m8.4 .6h0m4.2 2.3h0m1.6 0h0m-15-1.3h0m-.5-4.7h0m-10.5 5.2h0m-1-1.8h0m2.2 .7h0m7.4-1.6h0m-5.7-3.9h0m8.1 2h0m-3.3 3.7h0m11.9 .8h0m3.8-4.8h0m-7.1 6.7h0m-2.5-6h0m0 1.4h0m-9.1 3.5h0m4.1-4.9h0m-4.4 6.9h0m-1.5-2.9h0m9 1.1h0m-4-4.7h0m-3.2-.2h0m28.5 2.7h0m-25.7 2.4h0m8.6-3.2h0m-.3 1h0m4.5 3.1h0m-12.7-3.8h0m1.1 2.8h0m5-1h0m4.6-3.1h0m-6.8 4.5h0m7-1.3h0m-10.6-2.6h0m-5.1 .2h0m7-2.6h0m10.8 1.5h0m-8 3h0m-7.1-5.3h0m13.3 4.9h0m-10.7 1.6h0m10.1-4.6h0m-8.6-1.8h0m-1.6 7h0m-5-1.3h0m-5.9-2.4h0m21.5 4.4h0m-4.3-2.1h0m11.2-7.1h0m6.5 6.7h0m-21.1-.7h0m-.3-2h0m-.4 1.1h0m6 1.8h0m2.8-.2h0m-17.2 1.8h0m11.5-4.3h0m13.5-1.2h0m-26.7 1.3h0m13.9 2.9h0m-2.7-.3h0m-7.1-2.8h0m7.3-1.7h0m.5 2.1h0m4.3-1.3h0m-10.6 .9h0m1.4-.9h0m1-.8h0m6.9 4.5h0m-4.8-1.9h0m-7.6-1.7h0m5.8 .1h0m-8.3 2.4h0m10.1-1.3h0m-7 .8h0m1.1-.8h0m7.7 2.5h0m5-2.9h0m3.9-1.3h0m-12.1 5.5h0m22.3-2.6h0m-23.9-1.1h0m-7.4 .5h0m6.8-1.4h0m14.2 0h0m4.3 3.6h0m-9.2-3.2h0m-10-3.1h0m6.8 3.8h0m1-.9h0m.9-1.8h0m5.1-3.7h0m1.9 6.2h0m-12.7-2.6h0m-7.3 5h0m2.3-1.7h0m5.1 4.5h0m9.1-7.3h0m-11.9 .4h0m-8 1h0m21.7 1.6h0m-3.7-.4h0m-9.5 .5h0m3 4.1h0m16.3-3.5h0m-10.4-5.2h0m-6.3 9.7h0m-5.9-3.5h0m17.6-2.7h0m-12.6-.1h0m8.9 1.1h0m6.1 2.5h0m-13.2 3.2h0m-2.6-7.2h0m.7-.6h0m-1.6 1.8h0m11.4-3.3h0m-19.9 1.8h0m9.5 2.7h0m-4.2 2.4h0m2.2-3.9h0m5.1 3.1h0m2.1-2.5h0m-7.3 .3h0m8.2-1.2h0m-3.7-3.3h0m-4.4 6.7h0m17-2.8h0m-13.9 5.9h0m-2.1-3.5h0m-1.7 .9h0m15.4-5.5h0m1.2 8.8h0m-13.2-9.1h0m4.3 1.8h0m-15.4-1.4h0m15.1-1.1h0m7.3 4.4h0m-10.9 2.1h0m-6.5-1.6h0m-3.8-2.2h0m17.4-.5h0m-6.6 2.7h0m14.2 1.4h0m-9.2-3.5h0m-16.5 4.4h0m28.8-8.6h0m-8.8 4.7h0m-1.4 .8h0m-7.8-.7h0m1.4 2.6h0m-2-3.8h0m8 2.6h0m-1.9-.8h0m9 1.9h0m-11-3h0m3.9-3.7h0m-10.2 2.6h0m6 .7h0m19.8 2.5h0m-17.8 3.4h0m-3.5-5.7h0m10.7 2.6h0m-2.7 .8h0m-11.2-4.2h0m-3 1.7h0m14.9-2.5h0m-13.3-.7h0m22.3-3.1h0m-5.1-13.7h0m-3.6 3.9h0m3-4.2h0m-.7 16.9h0m.7-7.6h0m-6.1-2.5h0m5.6-2.9h0m-3.6 4.2h0m1.1-3.2h0m-1.7 3.1h0m7.3-5.1h0m-1.7-4.6h0m.7 14h0m-2.8 2.3h0m-1.4-5.7h0m7.4-.5h0m-8.1 8.1h0m4.8-9.8h0m-6.8-10.9h0m.8 22.9h0m5.3-15.9h0m2.4 15.8h0m-5.7-6.7h0m-2.3-.8h0m10-12.1h0m-5.1 5.3h0m-.4 4.9h0m1 5.5h0m.7 1h0m1.5 .4h0m-4.9-4.7h0m.9-8.5h0m6.7 7.7h0m-5.5-16.4h0m-.8 19.7h0m0-9h0m4.9 1.6h0m-5.2 1.4h0m.2 7.9h0m2.4-7.7h0m-2.7-1h0m5.9-.6h0m-3-8.7h0m-.9 15.5h0m2.7-2.5h0m-2 0h0m1.4 11.8h0m-2.5-19.6h0m1.1 4.8h0m.2 6.1h0m-1.4-8.3h0m.4-5.5h0m-.1 2.5h0m.5 6.8h0m-1.9-9h0m.8 3.6h0m-.6 9.3h0m3.2-13.5h0m-.1 18.1h0m.6-7.4h0m-3.5 10h0m-.7-22.3h0m1.2 12.4h0m-3.2-10.3h0m8.6 9.1h0m-3.4-4.8h0m-6.6 2.8h0m8.2-3.4h0m-9 3.4h0m4.3 1.3h0m-2.2-2.2h0m1.5 8.1h0m2 0h0m-.6-20.6h0m-5.5 18.3h0m8.1 2.3h0m-2.7-18.2h0m-1.2 15h0m5.4-5.1h0m-5.6-3h0m4.6 11.2h0m-8.2 2.4h0m2.6-18.3h0m-1.9 5h0m11.2 22.5h0m-10.2-22.1h0m4 7.4h0m-1.8-13.6h0m.1 6.2h0m-3.9 5.6h0m.9-12.9h0m8.6 18.3h0m-.2-5.6h0m-5.4-1.4h0m-2.7 5.7h0m4.7-7.2h0m-6.1 1.3h0m10 10.7h0m-2.2-12.3h0m-2.1 6.2h0m.2 3.4h0m-2.5-23.1h0m-5 9.7h0m3 10.7h0m7-4.5h0m-1.5 .5h0m-1.1-3.7h0m-1.6 11.3h0m.4-8.4h0m4.2 7h0m-4.6-5h0m-1.8-.8h0m3.8-.9h0m-.4 2.5h0m-7.7-8.1h0m7.5 2.2h0m-3 1.8h0m7.4 0h0m-6.5-1.7h0m-1.6 6.6h0m.6 2.9h0m5.4-2.3h0m.4-4.5h0m-8 .2h0m6.9-10.2h0m-5.4 18.1h0m4.8 1.7h0m.7-8.7h0m-.7 5.3h0m-1.3-7.2h0m.9-.8h0m6.1-3h0m-11.3-3.6h0m7.3 6h0m-2.5 1.3h0m.3-8.4h0m-.5 6h0m2.9 8.2h0m-6.8-10.9h0m-14.7 9.5h0m34-13.3h0m-6.5 29.8h0m-6.3-21.9h0m-10.9 1.1h0m-12.6-16.5h0m6.6 4.2h0m26.7 7.9h0m-1.1 8.4h0m1 14.1h0" stroke="#000" stroke-opacity="0.35" stroke-width="0.55" stroke-linecap="square" fill="none"/>
</g>
<line x1="442.80" y1="153.70" x2="442.80" y2="198.20" stroke="#999" stroke-width="0.9" />
<line x1="419.60" y1="184.00" x2="464.50" y2="184.00" stroke="#999" stroke-width="0.9" />
<rect x="419.60" y="153.70" width="44.90" height="44.50" fill="none" stroke="#262626" stroke-width="1.4" />
<text x="420.90" y="161.40" font-size="6.8" textLength="5.92" lengthAdjust="spacingAndGlyphs" fill="#1a1a1a" stroke="#222" stroke-width="0.15">12</text>
<text x="461.70" y="161.40" font-size="6.8" text-anchor="end" textLength="5.92" lengthAdjust="spacingAndGlyphs" fill="#1a1a1a" stroke="#222" stroke-width="0.15">53</text>
<text x="420.90" y="196.80" font-size="6.8" textLength="5.92" lengthAdjust="spacingAndGlyphs" fill="#1a1a1a" stroke="#222" stroke-width="0.15">25</text>
<text x="461.70" y="196.80" font-size="6.8" text-anchor="end" textLength="5.92" lengthAdjust="spacingAndGlyphs" fill="#1a1a1a" stroke="#222" stroke-width="0.15">11</text>
<text x="490.00" y="151.50" font-size="9" text-anchor="middle" textLength="9.90" lengthAdjust="spacingAndGlyphs" >BM</text>
<clipPath id="cp9"><rect x="467.10" y="153.70" width="44.90" height="44.50"/></clipPath>
<g clip-path="url(#cp9)">
<ellipse cx="487.00" cy="178.00" rx="8.00" ry="7.00" transform="rotate(-30 487.00 178.00)" fill="#000" fill-opacity="0.15" filter="url(#bl3)"/>
<ellipse cx="485.00" cy="188.00" rx="15.00" ry="2.20" transform="rotate(0 485.00 188.00)" fill="#000" fill-opacity="0.95" filter="url(#bl1)"/>
<ellipse cx="493.50" cy="178.00" rx="3.00" ry="6.50" transform="rotate(0 493.50 178.00)" fill="#000" fill-opacity="0.8" filter="url(#bl1)"/>
<path d="M482.6 186.1h0m4.1 4.2h0m-9.9 .8h0m27-2.4h0m-25 .9h0m19.4-1.7h0m-28.7-.3h0m23.9 3.4h0m8.6-4.2h0m-21.6-.9h0m15.4 3.6h0m-2.2-1.1h0m5-.6h0m-3.4 1.6h0m7.3-.5h0m-15.3 .3h0m19.3-1h0m-33.6-1.2h0m11.4 1.1h0m-7.7 1.7h0m-4.1 1.1h0m22.1-5.9h0m-23.9 3.1h0m18.9-.8h0m-3.3 1h0m-14.6-.2h0m1.7 1.1h0m29.8 .6h0m-25-1.9h0m10.5-.3h0m2.5 2.3h0m1.9-1.9h0m-9.5 3.2h0m-13 .3h0m24.9-3.3h0m-18.8 3.1h0m24.9-1.7h0m-14.2-2.1h0m-10.5 .6h0m16.1 .8h0m-8.6-3.2h0m8.9 3.4h0m-6.9-3.1h0m2.3 3.3h0m3.9 1.1h0m-19.6-3.6h0m15.4-1h0m-10 4.7h0m11.5-2.7h0m-11 .3h0m6.9-2h0m10.4-.4h0m6.4 1.7h0m-12.7-.9h0m19.4 4h0m-5.8-3.6h0m-.6 .3h0m-17.4-1.6h0m1.4 3.1h0m-1.5-2.7h0m12.4 3.6h0m-12.8-.2h0m13.9-3.2h0m-13.2-1.5h0m-12.8 4.1h0m2-.1h0m15.9-4.4h0m-10.9 6.4h0m6.5-2.5h0m-9.3-3.1h0m6.7 1.3h0m3.8-1.9h0m16.6 6.6h0m-27.7-2.5h0m-2 .9h0m.8-1.8h0m27.8 1.2h0m-21.2-3.6h0m10.9 2.8h0m9.6 .2h0m-25.6-.5h0m8.1 .2h0m4.8-.4h0m-12.3-1.4h0m-3.4-1.8h0m30 5.8h0m-30.4 1.5h0m21.1-8.2h0m-8.3 2.7h0m14.7 2.6h0m-24.8 1.3h0m8.6-3.9h0m-10.6-1.7h0m.9 5.1h0m9.5-.1h0m-13.4 .1h0m35 2.5h0m-22.9-3.9h0m-10.1 1.3h0m.4-2.5h0m21.9 1.2h0m-19.4 2h0m16.7-.4h0m-9.1 .5h0m-3.8-4.3h0m6-.5h0m16.4 3.8h0m-5.2-1.9h0m-5.7-.5h0m-6.3 .9h0m7.2-1.5h0m-21 2.3h0m8.1 .3h0m0-3.3h0m16.2 2.9h0m-.1-1.1h0m-14.2 2.9h0m11.4-2.4h0m-5.6 1.2h0m-11.2-.6h0m-2.4-3.8h0m15.1 3.5h0m5.8 .8h0m.7 .4h0m-22.9 .8h0m-2.7-1h0m28.4 .6h0m8.1-4.3h0m-15.1 3.3h0m11.4-2.4h0m-16 .9h0m-2.5 .4h0m.2-2.9h0m1.5 3.3h0m-4.6-6.5h0m-4 5.2h0m-2.3 4.1h0m23.5-3.2h0m-4.3 6.2h0m-20.5-5h0m4.8 1.8h0m22.3-2.9h0m-6.4-1.2h0m13.3 .9h0m-28.2-2.7h0m-5.8 2.8h0m28.5 .5h0m-16.1-.1h0m11.3-.1h0m-9 0h0m-16.6 2.5h0m5.5-4.8h0m3.3 2.5h0m16.5-2.8h0m-27.3 3h0m21.5-2.3h0m-19.8 2.3h0m13-3.2h0m-9.6 5.6h0m-2.4-.8h0m34.8-3h0m-29.9 2.2h0m-7.3-.1h0m32.2-.5h0m-11.7-.8h0m8.8-1.2h0m7.7 1.5h0m-25-3h0m-1.5 3.4h0m22-3.3h0m-17.9 1.7h0m-14 1.2h0m5.7 1.6h0m16.7-2.2h0m-5.1-1.1h0m-15.4 .4h0m13-.2h0m-4.8-.1h0m8.6-.5h0m-3.3 2.3h0m12.8-1.5h0m-27.5-1.4h0m24.8 1.6h0m3 1h0m-16.5-3.3h0m-5.2 4.8h0m.8-.2h0m12.2-3.4h0m1.2-11.7h0m2.2-8.3h0m-3.2 17h0m3-.3h0m2.2-11.4h0m-6.7 9.7h0m4.2-2.3h0m-2.5 5.6h0m3.9 .8h0m-2.6-2.7h0m.9-9.9h0m0-4.3h0m-.3 11.1h0m2.6-7.4h0m-6.1 1.9h0m-2.2 .5h0m14.1 4.8h0m-10.2-5h0m7.6-2.9h0m-5.6 6.5h0m-1.9-3.8h0m-2.9-.8h0m9 13.6h0m-4.7-4.3h0m2.2-3.5h0m-1.8 6.6h0m2.1-8.7h0m-2.4 7h0m-1.1-9.9h0m1 1.3h0m4.6 5.1h0m-4.1-5.3h0m4.6 5.9h0m2 2.8h0m-6.9-8.8h0m-.3 4.4h0m3.3 1.8h0m2.3-12.1h0m-4.6 .7h0m-3.2 4.9h0m1.1-2.2h0m-2.6 12.6h0m3.6-1h0m-2.3-19.8h0m1.5 19.3h0m.1-2.9h0m-1.5 6h0m4.5-2.1h0m-2.1 1.4h0m1-10.6h0m-2.1 3.2h0m-.8-7.5h0m3.1 11.5h0m-1.3 .8h0m5.7-12.7h0m-4 1.8h0m-2.7 6.9h0m-5.2 2.5h0m9.6-.3h0m-.6 7.6h0m-3-4.3h0m5.5-3.6h0m-9.8-3.9h0m4.5-8.8h0m.7 14.2h0m-.6-5.6h0m5.2-2.6h0m-7.2 3.9h0m6.2 3.4h0m-3.2-6.6h0m3.5 8.3h0m-8.9-3.3h0m-2 7h0m9-12.8h0m-5.7 2h0m-1.4 5.2h0m3.8-14h0m1.4 17.7h0m-3.7-9.2h0m9.3 3.2h0m-7.2 0h0m4-7.1h0m-2.6-3.8h0m-4.5 .5h0m7.3 11.2h0m-.3 5.4h0m-2.1-5.9h0m1.1 1.4h0m-4.4-4.5h0m2.7 1.9h0m-1.8-1h0m3.2 1.9h0m.9 3.8h0m-.1 .9h0m.8 2.6h0m-.6-12.1h0m5.1 10.5h0m-3.2-2.4h0m-3.7-11.3h0m1.2 4.8h0m-2.5-10.8h0m5.9 5.9h0m-8 9.8h0m5-7.6h0m-1.7 6.3h0m.5 1.7h0m1.8-5.4h0m-7.2 15.2h0m3.7-19h0m3.5 9.5h0m-15.3 13h0m4.7-14.3h0m2.8-3.8h0m0-7.5h0m-5.7 22.1h0m10.2-15.9h0m-11.6-7.6h0m3.6 9.2h0m-4.1-9.7h0m6.3 13.9h0m7.9 .7h0m3.1 4.8h0m-13-15.8h0m4.3 14.1h0m-15.9-15.4h0m17.9 4.8h0m6.2 5.4h0m-16.1-10.8h0m9.2-2.8h0m-15.3 2.9h0m24.2 21.2h0m-15.5-14.7h0m7.4 11.4h0m-12.1 6.8h0m4.8-7.6h0m-3.9 6h0m3.9-22.9h0m17.4 4.2h0m-15.7-4h0m5.4 10.1h0m-7.7-4.1h0m-2.3-2.3h0m-6.7 13.6h0m18.5-18.3h0m-16.6 12.7h0m27.6-4.3h0m-20.7-.4h0m4.5 .6h0m6.7 8.1h0m-4.3 4.2h0m-6.3-15h0m25.8-9.7h0m-36.4-3h0m15.4 9.1h0m5.6-7.2h0m-9.6 11.9h0m-7.6 10.6h0m5.5-4.6h0m-1-2.2h0m.6-.5h0m2.8-5.3h0m4.3 3.5h0m-11.3-6.1h0m11.3 16.7h0m-14-12.2h0m14.1 10.2h0m2.1-15.6h0m-5.4 14.6h0m1.6-7.9h0m-11.4 2.8h0m9-1h0m12.6 8.1h0m-18.5-6.7h0m3.9-.9h0m15.6 5.7h0m-12.8-11h0m-1.6 7.1h0m-2.7 5.2h0m4.2-16h0m16.2-12.1h0m-18.6 19.5h0m10.1 8.7h0m3.8 3.2h0m-9.2-10.2h0m5.7-1h0m-18.3-3h0m15.4 7.5h0m-14.2 4.1h0m11.4-19h0m1.3 17.7h0m.5-9.3h0m-10.7 10.1h0m8.2-7.9h0m-5-7.3h0m-11.9 4.9h0m2.2 4.5h0m9.5 6.6h0m17.1-14.2h0m-24.2 14.6h0m23.6-8.4h0m2 16.2h0m-21.6-10.9h0m24.2-17.8h0" stroke="#000" stroke-opacity="0.35" stroke-width="0.55" stroke-linecap="square" fill="none"/>
</g>
<line x1="490.40" y1="153.70" x2="490.40" y2="198.20" stroke="#999" stroke-width="0.9" />
<line x1="467.10" y1="184.40" x2="512.00" y2="184.40" stroke="#999" stroke-width="0.9" />
<rect x="467.10" y="153.70" width="44.90" height="44.50" fill="none" stroke="#262626" stroke-width="1.4" />
<text x="468.40" y="161.40" font-size="6.8" textLength="2.96" lengthAdjust="spacingAndGlyphs" fill="#1a1a1a" stroke="#222" stroke-width="0.15">3</text>
<text x="509.20" y="161.40" font-size="6.8" text-anchor="end" textLength="5.92" lengthAdjust="spacingAndGlyphs" fill="#1a1a1a" stroke="#222" stroke-width="0.15">29</text>
<text x="468.40" y="196.80" font-size="6.8" textLength="5.92" lengthAdjust="spacingAndGlyphs" fill="#1a1a1a" stroke="#222" stroke-width="0.15">40</text>
<text x="509.20" y="196.80" font-size="6.8" text-anchor="end" textLength="5.92" lengthAdjust="spacingAndGlyphs" fill="#1a1a1a" stroke="#222" stroke-width="0.15">28</text>
<line x1="364.30" y1="205.20" x2="364.30" y2="183.00" stroke="#111" stroke-width="1.3" />
<line x1="363.70" y1="204.60" x2="385.90" y2="204.60" stroke="#111" stroke-width="1.3" />
<path d="M362.00,183.80 L364.30,180.00 L366.60,183.80Z" fill="#111"/>
<path d="M385.10,202.30 L388.90,204.60 L385.10,206.90Z" fill="#111"/>
<text x="360.50" y="192.90" font-size="10" text-anchor="middle" textLength="14.20" lengthAdjust="spacingAndGlyphs" fill="#333" transform="rotate(-90 360.50 192.90)" >CD8</text>
<text x="369.30" y="213.80" font-size="10" textLength="14.20" lengthAdjust="spacingAndGlyphs" fill="#333" >Ki67</text>
<defs><linearGradient id="photoBg" x1="0" y1="0" x2="1" y2="0.15"><stop offset="0" stop-color="#c3c2bf"/><stop offset="0.35" stop-color="#d0d0ce"/><stop offset="1" stop-color="#dadad8"/></linearGradient><linearGradient id="spl" x1="0" y1="0" x2="1" y2="0"><stop offset="0" stop-color="#450d0d"/><stop offset="0.5" stop-color="#701b1b"/><stop offset="1" stop-color="#521212"/></linearGradient><radialGradient id="thy1" cx="0.45" cy="0.45" r="0.65"><stop offset="0" stop-color="#f0c8a4"/><stop offset="1" stop-color="#d9986a"/></radialGradient><radialGradient id="thy2" cx="0.45" cy="0.4" r="0.7"><stop offset="0" stop-color="#d9a07a"/><stop offset="1" stop-color="#b06a40"/></radialGradient><filter id="blp" x="-30%" y="-30%" width="160%" height="160%"><feGaussianBlur stdDeviation="0.45"/></filter></defs>
<rect x="368.10" y="233.10" width="36.70" height="54.70" fill="url(#photoBg)" />
<g filter="url(#blp)">
<rect x="369.1" y="234.2" width="5.4" height="12.7" rx="2.7" transform="rotate(-5 371.8 240.5)" fill="url(#spl)"/>
<rect x="370.8" y="271.1" width="6.0" height="16.3" rx="3.0" transform="rotate(-3 373.8 279.2)" fill="url(#spl)"/>
<ellipse cx="373.2" cy="243.5" rx="0.7" ry="1.2" fill="#c8a0a0" fill-opacity="0.6"/>
<ellipse cx="375.2" cy="275.5" rx="0.6" ry="1.0" fill="#d0a0a0" fill-opacity="0.6"/>
<ellipse cx="374.6" cy="281.5" rx="0.5" ry="0.8" fill="#d0a0a0" fill-opacity="0.5"/>
<path d="M393.8,242.3 C393.6,240.5 395,238.8 397,238.1 C398.8,237.5 400.6,237.6 401.6,238.7 C402,240 401,241.6 399.3,242.8 C397.8,243.9 395.8,244.4 394.6,243.9 C394.1,243.6 393.9,243 393.8,242.3Z" fill="url(#thy1)"/>
<path d="M391.6,283.2 C391.2,280.5 392.8,278.2 395,277.2 C397,276.4 399,276.5 400.6,277.3 C402.3,277.9 403.6,279.2 403.3,281 C403,283 401.5,284.8 399.5,285.8 C397.5,286.7 395,286.9 393.4,286.2 C392.3,285.6 391.8,284.5 391.6,283.2Z" fill="url(#thy2)"/>
<path d="M396.5,277.5 C397.5,279.5 397.8,282 397,284.5" stroke="#a05a35" stroke-width="0.5" fill="none" stroke-opacity="0.6"/>
</g>
<text x="370.60" y="298.00" font-size="8.6" textLength="14.20" lengthAdjust="spacingAndGlyphs" >Spn</text>
<text x="393.40" y="298.00" font-size="8.6" textLength="13.10" lengthAdjust="spacingAndGlyphs" >Thy</text>
<text x="409.20" y="240.70" font-size="9.2" textLength="16.40" lengthAdjust="spacingAndGlyphs" >CD2</text>
<text x="426.20" y="237.10" font-size="6.4" textLength="10.40" lengthAdjust="spacingAndGlyphs" style="stroke-width:0px" >neg</text>
<text x="437.00" y="240.70" font-size="9.2" textLength="24.80" lengthAdjust="spacingAndGlyphs" >hIL-7R</text>
<text x="462.30" y="237.10" font-size="6.4" textLength="9.20" lengthAdjust="spacingAndGlyphs" style="stroke-width:0px" >+/+</text>
<text x="409.20" y="250.80" font-size="9.2" textLength="28.80" lengthAdjust="spacingAndGlyphs" >Control</text>
<text x="409.20" y="278.10" font-size="9.2" textLength="16.40" lengthAdjust="spacingAndGlyphs" >CD2</text>
<text x="426.20" y="274.50" font-size="6.4" textLength="10.00" lengthAdjust="spacingAndGlyphs" style="stroke-width:0px" >pos</text>
<text x="437.00" y="278.10" font-size="9.2" textLength="24.80" lengthAdjust="spacingAndGlyphs" >hIL-7R</text>
<text x="462.30" y="274.50" font-size="6.4" textLength="9.20" lengthAdjust="spacingAndGlyphs" style="stroke-width:0px" >+/+</text>
<text x="409.20" y="287.80" font-size="9.2" textLength="36.30" lengthAdjust="spacingAndGlyphs" >Leukemia</text>
<line x1="40.00" y1="341.00" x2="53.80" y2="341.00" stroke="#c92232" stroke-width="1.6" />
<text x="55.70" y="343.60" font-size="8.0" textLength="12.20" lengthAdjust="spacingAndGlyphs" >Rag</text>
<text x="68.30" y="341.00" font-size="4.8" fill="#444" textLength="4.40" lengthAdjust="spacingAndGlyphs" style="stroke-width:0px" >-/-</text>
<text x="73.90" y="343.60" font-size="8.0" textLength="3.30" lengthAdjust="spacingAndGlyphs" >γ</text>
<text x="77.00" y="345.20" font-size="4.8" fill="#444" textLength="2.00" lengthAdjust="spacingAndGlyphs" style="stroke-width:0px" >c</text>
<text x="79.10" y="341.00" font-size="4.8" fill="#444" textLength="4.20" lengthAdjust="spacingAndGlyphs" style="stroke-width:0px" >-/-</text>
<line x1="87.00" y1="341.00" x2="100.00" y2="341.00" stroke="#115286" stroke-width="1.6" />
<text x="102.40" y="343.60" font-size="8.0" textLength="12.00" lengthAdjust="spacingAndGlyphs" >Rag</text>
<text x="115.00" y="341.00" font-size="4.8" fill="#444" textLength="4.50" lengthAdjust="spacingAndGlyphs" style="stroke-width:0px" >-/-</text>
<text x="119.70" y="343.60" font-size="8.0" textLength="3.40" lengthAdjust="spacingAndGlyphs" >γ</text>
<text x="123.00" y="345.20" font-size="4.8" fill="#444" textLength="2.00" lengthAdjust="spacingAndGlyphs" style="stroke-width:0px" >c</text>
<text x="126.00" y="341.00" font-size="4.8" fill="#444" textLength="3.30" lengthAdjust="spacingAndGlyphs" style="stroke-width:0px" >-/-</text>
<text x="129.60" y="343.60" font-size="8.0" textLength="11.70" lengthAdjust="spacingAndGlyphs" >IL-7</text>
<text x="142.30" y="341.00" font-size="4.8" fill="#444" textLength="4.80" lengthAdjust="spacingAndGlyphs" style="stroke-width:0px" >-/-</text>
<line x1="36.80" y1="343.80" x2="36.80" y2="438.00" stroke="#444" stroke-width="1.6" />
<line x1="36.10" y1="437.30" x2="150.80" y2="437.30" stroke="#444" stroke-width="1.6" />
<line x1="34.20" y1="437.30" x2="36.80" y2="437.30" stroke="#333" stroke-width="1.2" />
<text x="33.60" y="440.60" font-size="9.6" text-anchor="end" textLength="4.40" lengthAdjust="spacingAndGlyphs" >0</text>
<line x1="34.20" y1="420.12" x2="36.80" y2="420.12" stroke="#333" stroke-width="1.2" />
<text x="33.60" y="423.42" font-size="9.6" text-anchor="end" textLength="8.80" lengthAdjust="spacingAndGlyphs" >20</text>
<line x1="34.20" y1="402.94" x2="36.80" y2="402.94" stroke="#333" stroke-width="1.2" />
<text x="33.60" y="406.24" font-size="9.6" text-anchor="end" textLength="8.80" lengthAdjust="spacingAndGlyphs" >40</text>
<line x1="34.20" y1="385.76" x2="36.80" y2="385.76" stroke="#333" stroke-width="1.2" />
<text x="33.60" y="389.06" font-size="9.6" text-anchor="end" textLength="8.80" lengthAdjust="spacingAndGlyphs" >60</text>
<line x1="34.20" y1="368.58" x2="36.80" y2="368.58" stroke="#333" stroke-width="1.2" />
<text x="33.60" y="371.88" font-size="9.6" text-anchor="end" textLength="8.80" lengthAdjust="spacingAndGlyphs" >80</text>
<line x1="34.20" y1="351.40" x2="36.80" y2="351.40" stroke="#333" stroke-width="1.2" />
<text x="33.60" y="354.70" font-size="9.6" text-anchor="end" textLength="13.20" lengthAdjust="spacingAndGlyphs" >100</text>
<line x1="36.80" y1="437.30" x2="36.80" y2="439.90" stroke="#333" stroke-width="1.0" />
<line x1="48.19" y1="437.30" x2="48.19" y2="438.90" stroke="#333" stroke-width="1.0" />
<line x1="59.58" y1="437.30" x2="59.58" y2="438.90" stroke="#333" stroke-width="1.0" />
<line x1="70.97" y1="437.30" x2="70.97" y2="438.90" stroke="#333" stroke-width="1.0" />
<line x1="82.36" y1="437.30" x2="82.36" y2="438.90" stroke="#333" stroke-width="1.0" />
<line x1="93.75" y1="437.30" x2="93.75" y2="439.90" stroke="#333" stroke-width="1.0" />
<line x1="105.14" y1="437.30" x2="105.14" y2="438.90" stroke="#333" stroke-width="1.0" />
<line x1="116.53" y1="437.30" x2="116.53" y2="438.90" stroke="#333" stroke-width="1.0" />
<line x1="127.92" y1="437.30" x2="127.92" y2="438.90" stroke="#333" stroke-width="1.0" />
<line x1="139.31" y1="437.30" x2="139.31" y2="438.90" stroke="#333" stroke-width="1.0" />
<line x1="150.70" y1="437.30" x2="150.70" y2="439.90" stroke="#333" stroke-width="1.0" />
<text x="36.80" y="447.70" font-size="9.6" text-anchor="middle" textLength="4.40" lengthAdjust="spacingAndGlyphs" >0</text>
<text x="93.75" y="447.70" font-size="9.6" text-anchor="middle" textLength="8.80" lengthAdjust="spacingAndGlyphs" >50</text>
<text x="150.70" y="447.70" font-size="9.6" text-anchor="middle" textLength="13.20" lengthAdjust="spacingAndGlyphs" >100</text>
<text x="94.60" y="457.20" font-size="9.5" text-anchor="middle" textLength="60.00" lengthAdjust="spacingAndGlyphs" >Days after transfer</text>
<text x="16.00" y="386.80" font-size="10.4" text-anchor="middle" textLength="38.40" lengthAdjust="spacingAndGlyphs" fill="#444" transform="rotate(-90 16.00 386.80)" >Survival (%)</text>
<path d="M37.20,351.50 L99.30,351.50 L99.30,362.20 L104.80,362.20 L104.80,394.30 L107.50,394.30 L107.50,405.00 L116.40,405.00 L116.40,415.70 L121.10,415.70 L121.10,437.10" stroke="#2d68a3" stroke-width="1.3" fill="none" />
<path d="M37.20,351.50 L82.40,351.50 L82.40,362.20 L83.20,362.20 L83.20,372.90 L85.50,372.90 L85.50,383.60 L90.50,383.60 L90.50,394.30 L91.70,394.30 L91.70,405.00 L92.50,405.00 L92.50,415.70 L93.60,415.70 L93.60,426.40 L105.20,426.40 L105.20,437.10" stroke="#d43a4c" stroke-width="1.3" fill="none" />
<text x="131.60" y="434.30" font-size="10" text-anchor="middle" textLength="11.60" lengthAdjust="spacingAndGlyphs" font-weight="bold" fill="#222" >***</text>
<path d="M188.80,333.50 h9.90 L188.80,343.80Z" fill="#3db54a"/>
<path d="M198.70,333.50 L188.80,343.80 H208.50 V333.50Z" fill="#115286"/>
<rect x="208.30" y="333.50" width="9.90" height="10.30" fill="#c92232" />
<rect x="188.80" y="344.10" width="9.90" height="10.30" fill="#3db54a" />
<rect x="218.30" y="354.70" width="9.90" height="10.30" fill="#5c2a6f" />
<rect x="228.50" y="365.20" width="9.90" height="10.30" fill="#3db54a" />
<rect x="198.60" y="375.60" width="9.90" height="10.30" fill="#3db54a" />
<rect x="238.70" y="386.30" width="9.90" height="10.30" fill="#5c2a6f" />
<rect x="228.50" y="396.90" width="9.90" height="10.30" fill="#3db54a" />
<rect x="248.80" y="407.40" width="9.90" height="10.30" fill="#3db54a" />
<rect x="248.80" y="417.80" width="9.90" height="10.30" fill="#3db54a" />
<rect x="218.30" y="428.10" width="9.90" height="10.30" fill="#3db54a" />
<rect x="248.80" y="438.50" width="9.90" height="10.30" fill="#3db54a" />
<rect x="187.00" y="332.60" width="72.90" height="116.30" fill="none" stroke="#555" stroke-width="1.4" />
<text x="184.20" y="341.95" font-size="7.4" text-anchor="end" textLength="20.20" lengthAdjust="spacingAndGlyphs" fill="#333" font-style="italic" >Notch1</text>
<text x="184.20" y="352.55" font-size="7.4" text-anchor="end" textLength="9.90" lengthAdjust="spacingAndGlyphs" fill="#333" font-style="italic" >Rb1</text>
<text x="184.20" y="363.15" font-size="7.4" text-anchor="end" textLength="14.80" lengthAdjust="spacingAndGlyphs" fill="#333" font-style="italic" >Ptprc</text>
<text x="184.20" y="373.65" font-size="7.4" text-anchor="end" textLength="19.40" lengthAdjust="spacingAndGlyphs" fill="#333" font-style="italic" >Ptchd4</text>
<text x="184.20" y="384.05" font-size="7.4" text-anchor="end" textLength="14.60" lengthAdjust="spacingAndGlyphs" fill="#333" font-style="italic" >Klf13</text>
<text x="184.20" y="394.75" font-size="7.4" text-anchor="end" textLength="11.40" lengthAdjust="spacingAndGlyphs" fill="#333" font-style="italic" >Idh1</text>
<text x="184.20" y="405.35" font-size="7.4" text-anchor="end" textLength="12.00" lengthAdjust="spacingAndGlyphs" fill="#333" font-style="italic" >Fat3</text>
<text x="184.20" y="415.85" font-size="7.4" text-anchor="end" textLength="15.20" lengthAdjust="spacingAndGlyphs" fill="#333" font-style="italic" >Csf3r</text>
<text x="184.20" y="426.25" font-size="7.4" text-anchor="end" textLength="11.60" lengthAdjust="spacingAndGlyphs" fill="#333" font-style="italic" >Atrx</text>
<text x="184.20" y="436.55" font-size="7.4" text-anchor="end" textLength="12.80" lengthAdjust="spacingAndGlyphs" fill="#333" font-style="italic" >Asns</text>
<text x="184.20" y="446.95" font-size="7.4" text-anchor="end" textLength="14.80" lengthAdjust="spacingAndGlyphs" fill="#333" font-style="italic" >Ago2</text>
<text x="269.80" y="344.40" font-size="8.6" textLength="48.10" lengthAdjust="spacingAndGlyphs" >Mutation Type</text>
<rect x="262.10" y="348.80" width="9.60" height="9.80" fill="#c92232" />
<rect x="262.10" y="358.60" width="9.60" height="9.80" fill="#115286" />
<rect x="262.10" y="368.40" width="9.60" height="9.80" fill="#3db54a" />
<rect x="262.10" y="378.20" width="9.60" height="9.80" fill="#5c2a6f" />
<text x="275.00" y="356.20" font-size="7.6" textLength="33.80" lengthAdjust="spacingAndGlyphs" >stop gained</text>
<text x="275.00" y="366.60" font-size="7.6" textLength="50.00" lengthAdjust="spacingAndGlyphs" >frameshift variant</text>
<text x="275.00" y="376.00" font-size="7.6" textLength="46.70" lengthAdjust="spacingAndGlyphs" >missense variant</text>
<text x="275.00" y="385.80" font-size="7.6" textLength="49.00" lengthAdjust="spacingAndGlyphs" >splice region and</text>
<text x="275.00" y="393.80" font-size="7.6" textLength="43.00" lengthAdjust="spacingAndGlyphs" >intronic variant</text>
<rect x="433.70" y="333.20" width="6.80" height="7.20" fill="#c92232" />
<text x="442.20" y="340.40" font-size="9.8" textLength="18.90" lengthAdjust="spacingAndGlyphs" >CD2</text>
<text x="461.50" y="337.40" font-size="5.6" textLength="8.80" lengthAdjust="spacingAndGlyphs" style="stroke-width:0px" >pos</text>
<text x="473.10" y="340.40" font-size="9.8" textLength="26.50" lengthAdjust="spacingAndGlyphs" >hIL-7R</text>
<text x="500.40" y="337.20" font-size="5.6" textLength="7.30" lengthAdjust="spacingAndGlyphs" style="stroke-width:0px" >+/-</text>
<rect x="433.70" y="347.80" width="6.80" height="7.20" fill="#115286" />
<text x="442.20" y="354.60" font-size="9.8" textLength="18.90" lengthAdjust="spacingAndGlyphs" >CD2</text>
<text x="461.50" y="351.60" font-size="5.6" textLength="8.80" lengthAdjust="spacingAndGlyphs" style="stroke-width:0px" >pos</text>
<text x="473.10" y="354.60" font-size="9.8" textLength="26.50" lengthAdjust="spacingAndGlyphs" >hIL-7R</text>
<text x="500.40" y="351.40" font-size="5.6" textLength="8.60" lengthAdjust="spacingAndGlyphs" style="stroke-width:0px" >+/+</text>
<line x1="376.30" y1="342.70" x2="376.30" y2="437.90" stroke="#333" stroke-width="1.4" />
<line x1="375.70" y1="437.30" x2="512.00" y2="437.30" stroke="#333" stroke-width="1.4" />
<line x1="373.70" y1="437.30" x2="376.30" y2="437.30" stroke="#333" stroke-width="1.2" />
<line x1="374.50" y1="413.80" x2="376.30" y2="413.80" stroke="#333" stroke-width="1.2" />
<line x1="373.70" y1="390.30" x2="376.30" y2="390.30" stroke="#333" stroke-width="1.2" />
<line x1="374.50" y1="366.80" x2="376.30" y2="366.80" stroke="#333" stroke-width="1.2" />
<line x1="373.70" y1="343.30" x2="376.30" y2="343.30" stroke="#333" stroke-width="1.2" />
<text x="373.00" y="440.60" font-size="9" text-anchor="end" textLength="4.30" lengthAdjust="spacingAndGlyphs" >0</text>
<text x="347.80" y="393.10" font-size="9.2" textLength="17.30" lengthAdjust="spacingAndGlyphs" >2x10</text>
<text x="365.40" y="390.20" font-size="6.2" textLength="7.00" lengthAdjust="spacingAndGlyphs" style="stroke-width:0px" >−4</text>
<text x="347.80" y="346.10" font-size="9.2" textLength="17.30" lengthAdjust="spacingAndGlyphs" >4x10</text>
<text x="365.40" y="343.20" font-size="6.2" textLength="7.00" lengthAdjust="spacingAndGlyphs" style="stroke-width:0px" >−4</text>
<text x="342.6" y="384.6" font-size="9.8" fill="#333" text-anchor="middle" textLength="56.7" lengthAdjust="spacingAndGlyphs" transform="rotate(-90 342.6 384.6)">Relative to <tspan font-style="italic">Hprt1</tspan></text>
<line x1="387.60" y1="409.34" x2="387.60" y2="412.16" stroke="#222" stroke-width="1.1" />
<line x1="385.30" y1="409.34" x2="389.90" y2="409.34" stroke="#222" stroke-width="1.1" />
<rect x="382.40" y="412.16" width="10.40" height="25.14" fill="#c92232" />
<line x1="404.00" y1="350.35" x2="404.00" y2="358.11" stroke="#222" stroke-width="1.1" />
<line x1="401.70" y1="350.35" x2="406.30" y2="350.35" stroke="#222" stroke-width="1.1" />
<rect x="398.80" y="358.11" width="10.40" height="79.19" fill="#115286" />
<line x1="437.10" y1="430.95" x2="437.10" y2="432.37" stroke="#222" stroke-width="1.1" />
<line x1="434.80" y1="430.95" x2="439.40" y2="430.95" stroke="#222" stroke-width="1.1" />
<rect x="431.90" y="432.37" width="10.40" height="4.94" fill="#115286" />
<line x1="470.20" y1="435.19" x2="470.20" y2="435.30" stroke="#222" stroke-width="1.1" />
<line x1="467.90" y1="435.19" x2="472.50" y2="435.19" stroke="#222" stroke-width="1.1" />
<rect x="465.00" y="435.30" width="10.40" height="2.00" fill="#115286" />
<text x="421.20" y="435.60" font-size="8.2" text-anchor="middle" textLength="15.60" lengthAdjust="spacingAndGlyphs" >N.D.</text>
<text x="454.30" y="435.60" font-size="8.2" text-anchor="middle" textLength="15.60" lengthAdjust="spacingAndGlyphs" >N.D.</text>
<text x="487.40" y="435.60" font-size="8.2" text-anchor="middle" textLength="15.60" lengthAdjust="spacingAndGlyphs" >N.D.</text>
<text x="504.25" y="435.60" font-size="8.2" text-anchor="middle" textLength="15.60" lengthAdjust="spacingAndGlyphs" >N.D.</text>
<text x="392.80" y="445.30" font-size="7.9" text-anchor="end" textLength="20.00" lengthAdjust="spacingAndGlyphs" transform="rotate(-31 392.80 445.30)" >15116</text>
<text x="409.35" y="445.30" font-size="7.9" text-anchor="end" textLength="20.00" lengthAdjust="spacingAndGlyphs" transform="rotate(-31 409.35 445.30)" >11359</text>
<text x="425.90" y="445.30" font-size="7.9" text-anchor="end" textLength="20.00" lengthAdjust="spacingAndGlyphs" transform="rotate(-31 425.90 445.30)" >17216</text>
<text x="442.45" y="445.30" font-size="7.9" text-anchor="end" textLength="20.00" lengthAdjust="spacingAndGlyphs" transform="rotate(-31 442.45 445.30)" >16710</text>
<text x="459.00" y="445.30" font-size="7.9" text-anchor="end" textLength="20.00" lengthAdjust="spacingAndGlyphs" transform="rotate(-31 459.00 445.30)" >12895</text>
<text x="475.55" y="445.30" font-size="7.9" text-anchor="end" textLength="20.00" lengthAdjust="spacingAndGlyphs" transform="rotate(-31 475.55 445.30)" >16900</text>
<text x="492.10" y="445.30" font-size="7.9" text-anchor="end" textLength="20.00" lengthAdjust="spacingAndGlyphs" transform="rotate(-31 492.10 445.30)" >17572</text>
<text x="508.65" y="445.30" font-size="7.9" text-anchor="end" textLength="20.00" lengthAdjust="spacingAndGlyphs" transform="rotate(-31 508.65 445.30)" >14941</text>
<text x="66.30" y="498.60" font-size="9.2" text-anchor="middle" textLength="26.50" lengthAdjust="spacingAndGlyphs" fill="#333" >Thymus</text>
<path d="M14.50,592.20 C15.58,592.20 19.42,592.35 21.00,592.20 C22.58,592.05 23.17,592.00 24.00,591.30 C24.83,590.60 25.33,590.22 26.00,588.00 C26.67,585.78 27.33,582.67 28.00,578.00 C28.67,573.33 29.33,566.67 30.00,560.00 C30.67,553.33 31.40,544.67 32.00,538.00 C32.60,531.33 33.17,524.50 33.60,520.00 C34.03,515.50 34.32,512.77 34.60,511.00 C34.88,509.23 35.02,509.57 35.30,509.40 C35.58,509.23 35.93,509.73 36.30,510.00 C36.67,510.27 37.08,509.33 37.50,511.00 C37.92,512.67 38.32,515.17 38.80,520.00 C39.28,524.83 39.87,533.33 40.40,540.00 C40.93,546.67 41.48,554.17 42.00,560.00 C42.52,565.83 43.00,570.83 43.50,575.00 C44.00,579.17 44.50,582.50 45.00,585.00 C45.50,587.50 46.00,588.83 46.50,590.00 C47.00,591.17 47.08,591.63 48.00,592.00 C48.92,592.37 51.33,592.17 52.00,592.20 Z" fill="#3fb54e" fill-opacity="0.22" stroke="none"/>
<path d="M14.50,592.20 C15.58,592.20 19.42,592.35 21.00,592.20 C22.58,592.05 23.17,592.00 24.00,591.30 C24.83,590.60 25.33,590.22 26.00,588.00 C26.67,585.78 27.33,582.67 28.00,578.00 C28.67,573.33 29.33,566.67 30.00,560.00 C30.67,553.33 31.40,544.67 32.00,538.00 C32.60,531.33 33.17,524.50 33.60,520.00 C34.03,515.50 34.32,512.77 34.60,511.00 C34.88,509.23 35.02,509.57 35.30,509.40 C35.58,509.23 35.93,509.73 36.30,510.00 C36.67,510.27 37.08,509.33 37.50,511.00 C37.92,512.67 38.32,515.17 38.80,520.00 C39.28,524.83 39.87,533.33 40.40,540.00 C40.93,546.67 41.48,554.17 42.00,560.00 C42.52,565.83 43.00,570.83 43.50,575.00 C44.00,579.17 44.50,582.50 45.00,585.00 C45.50,587.50 46.00,588.83 46.50,590.00 C47.00,591.17 47.08,591.63 48.00,592.00 C48.92,592.37 51.33,592.17 52.00,592.20" fill="none" stroke="#3fb54e" stroke-width="1.2"/>
<path d="M38.00,592.20 C38.58,592.17 40.33,592.20 41.50,592.00 C42.67,591.80 43.83,591.47 45.00,591.00 C46.17,590.53 47.50,590.03 48.50,589.20 C49.50,588.37 50.23,587.15 51.00,586.00 C51.77,584.85 52.37,583.38 53.10,582.30 C53.83,581.22 54.83,580.12 55.40,579.50 C55.97,578.88 56.03,578.47 56.50,578.60 C56.97,578.73 57.53,580.65 58.20,580.30 C58.87,579.95 59.82,577.38 60.50,576.50 C61.18,575.62 61.62,576.15 62.30,575.00 C62.98,573.85 63.83,571.68 64.60,569.60 C65.37,567.52 66.30,564.77 66.90,562.50 C67.50,560.23 67.82,557.35 68.20,556.00 C68.58,554.65 68.85,554.15 69.20,554.40 C69.55,554.65 69.95,556.77 70.30,557.50 C70.65,558.23 70.90,558.52 71.30,558.80 C71.70,559.08 72.25,559.45 72.70,559.20 C73.15,558.95 73.53,557.70 74.00,557.30 C74.47,556.90 74.95,556.98 75.50,556.80 C76.05,556.62 76.83,555.83 77.30,556.20 C77.77,556.57 77.97,557.37 78.30,559.00 C78.63,560.63 78.97,563.42 79.30,566.00 C79.63,568.58 79.88,572.08 80.30,574.50 C80.72,576.92 81.33,578.82 81.80,580.50 C82.27,582.18 82.57,583.27 83.10,584.60 C83.63,585.93 84.43,587.50 85.00,588.50 C85.57,589.50 85.83,590.02 86.50,590.60 C87.17,591.18 88.08,591.73 89.00,592.00 C89.92,592.27 91.50,592.17 92.00,592.20 Z" fill="#2a5f95" fill-opacity="0.22" stroke="none"/>
<path d="M38.00,592.20 C38.58,592.17 40.33,592.20 41.50,592.00 C42.67,591.80 43.83,591.47 45.00,591.00 C46.17,590.53 47.50,590.03 48.50,589.20 C49.50,588.37 50.23,587.15 51.00,586.00 C51.77,584.85 52.37,583.38 53.10,582.30 C53.83,581.22 54.83,580.12 55.40,579.50 C55.97,578.88 56.03,578.47 56.50,578.60 C56.97,578.73 57.53,580.65 58.20,580.30 C58.87,579.95 59.82,577.38 60.50,576.50 C61.18,575.62 61.62,576.15 62.30,575.00 C62.98,573.85 63.83,571.68 64.60,569.60 C65.37,567.52 66.30,564.77 66.90,562.50 C67.50,560.23 67.82,557.35 68.20,556.00 C68.58,554.65 68.85,554.15 69.20,554.40 C69.55,554.65 69.95,556.77 70.30,557.50 C70.65,558.23 70.90,558.52 71.30,558.80 C71.70,559.08 72.25,559.45 72.70,559.20 C73.15,558.95 73.53,557.70 74.00,557.30 C74.47,556.90 74.95,556.98 75.50,556.80 C76.05,556.62 76.83,555.83 77.30,556.20 C77.77,556.57 77.97,557.37 78.30,559.00 C78.63,560.63 78.97,563.42 79.30,566.00 C79.63,568.58 79.88,572.08 80.30,574.50 C80.72,576.92 81.33,578.82 81.80,580.50 C82.27,582.18 82.57,583.27 83.10,584.60 C83.63,585.93 84.43,587.50 85.00,588.50 C85.57,589.50 85.83,590.02 86.50,590.60 C87.17,591.18 88.08,591.73 89.00,592.00 C89.92,592.27 91.50,592.17 92.00,592.20" fill="none" stroke="#2a5f95" stroke-width="1.2"/>
<path d="M72.00,592.20 C72.67,592.17 75.00,592.45 76.00,592.00 C77.00,591.55 77.42,590.50 78.00,589.50 C78.58,588.50 79.00,588.08 79.50,586.00 C80.00,583.92 80.45,581.67 81.00,577.00 C81.55,572.33 82.22,564.67 82.80,558.00 C83.38,551.33 83.93,543.67 84.50,537.00 C85.07,530.33 85.72,522.33 86.20,518.00 C86.68,513.67 87.03,512.45 87.40,511.00 C87.77,509.55 88.07,509.38 88.40,509.30 C88.73,509.22 89.07,509.38 89.40,510.50 C89.73,511.62 90.02,512.42 90.40,516.00 C90.78,519.58 91.27,526.00 91.70,532.00 C92.13,538.00 92.53,545.33 93.00,552.00 C93.47,558.67 94.00,566.50 94.50,572.00 C95.00,577.50 95.48,581.92 96.00,585.00 C96.52,588.08 97.02,589.33 97.60,590.50 C98.18,591.67 98.77,591.72 99.50,592.00 C100.23,592.28 101.58,592.17 102.00,592.20 Z" fill="#d0344a" fill-opacity="0.22" stroke="none"/>
<path d="M72.00,592.20 C72.67,592.17 75.00,592.45 76.00,592.00 C77.00,591.55 77.42,590.50 78.00,589.50 C78.58,588.50 79.00,588.08 79.50,586.00 C80.00,583.92 80.45,581.67 81.00,577.00 C81.55,572.33 82.22,564.67 82.80,558.00 C83.38,551.33 83.93,543.67 84.50,537.00 C85.07,530.33 85.72,522.33 86.20,518.00 C86.68,513.67 87.03,512.45 87.40,511.00 C87.77,509.55 88.07,509.38 88.40,509.30 C88.73,509.22 89.07,509.38 89.40,510.50 C89.73,511.62 90.02,512.42 90.40,516.00 C90.78,519.58 91.27,526.00 91.70,532.00 C92.13,538.00 92.53,545.33 93.00,552.00 C93.47,558.67 94.00,566.50 94.50,572.00 C95.00,577.50 95.48,581.92 96.00,585.00 C96.52,588.08 97.02,589.33 97.60,590.50 C98.18,591.67 98.77,591.72 99.50,592.00 C100.23,592.28 101.58,592.17 102.00,592.20" fill="none" stroke="#d0344a" stroke-width="1.2"/>
<rect x="13.80" y="504.70" width="102.10" height="87.50" fill="none" stroke="#222" stroke-width="1.1" />
<line x1="13.80" y1="504.70" x2="13.80" y2="592.60" stroke="#111" stroke-width="1.4" />
<line x1="13.40" y1="592.20" x2="116.00" y2="592.20" stroke="#111" stroke-width="1.4" />
<line x1="11.60" y1="592.20" x2="13.80" y2="592.20" stroke="#222" stroke-width="0.9" />
<line x1="12.60" y1="587.16" x2="13.80" y2="587.16" stroke="#444" stroke-width="0.6" />
<line x1="12.60" y1="584.21" x2="13.80" y2="584.21" stroke="#444" stroke-width="0.6" />
<line x1="12.60" y1="582.12" x2="13.80" y2="582.12" stroke="#444" stroke-width="0.6" />
<line x1="12.60" y1="580.49" x2="13.80" y2="580.49" stroke="#444" stroke-width="0.6" />
<line x1="12.60" y1="579.17" x2="13.80" y2="579.17" stroke="#444" stroke-width="0.6" />
<line x1="12.60" y1="578.04" x2="13.80" y2="578.04" stroke="#444" stroke-width="0.6" />
<line x1="12.60" y1="577.07" x2="13.80" y2="577.07" stroke="#444" stroke-width="0.6" />
<line x1="12.60" y1="576.22" x2="13.80" y2="576.22" stroke="#444" stroke-width="0.6" />
<line x1="11.60" y1="575.45" x2="13.80" y2="575.45" stroke="#222" stroke-width="0.9" />
<line x1="12.60" y1="570.41" x2="13.80" y2="570.41" stroke="#444" stroke-width="0.6" />
<line x1="12.60" y1="567.46" x2="13.80" y2="567.46" stroke="#444" stroke-width="0.6" />
<line x1="12.60" y1="565.37" x2="13.80" y2="565.37" stroke="#444" stroke-width="0.6" />
<line x1="12.60" y1="563.74" x2="13.80" y2="563.74" stroke="#444" stroke-width="0.6" />
<line x1="12.60" y1="562.42" x2="13.80" y2="562.42" stroke="#444" stroke-width="0.6" />
<line x1="12.60" y1="561.29" x2="13.80" y2="561.29" stroke="#444" stroke-width="0.6" />
<line x1="12.60" y1="560.32" x2="13.80" y2="560.32" stroke="#444" stroke-width="0.6" />
<line x1="12.60" y1="559.47" x2="13.80" y2="559.47" stroke="#444" stroke-width="0.6" />
<line x1="11.60" y1="558.70" x2="13.80" y2="558.70" stroke="#222" stroke-width="0.9" />
<line x1="12.60" y1="553.66" x2="13.80" y2="553.66" stroke="#444" stroke-width="0.6" />
<line x1="12.60" y1="550.71" x2="13.80" y2="550.71" stroke="#444" stroke-width="0.6" />
<line x1="12.60" y1="548.62" x2="13.80" y2="548.62" stroke="#444" stroke-width="0.6" />
<line x1="12.60" y1="546.99" x2="13.80" y2="546.99" stroke="#444" stroke-width="0.6" />
<line x1="12.60" y1="545.67" x2="13.80" y2="545.67" stroke="#444" stroke-width="0.6" />
<line x1="12.60" y1="544.54" x2="13.80" y2="544.54" stroke="#444" stroke-width="0.6" />
<line x1="12.60" y1="543.57" x2="13.80" y2="543.57" stroke="#444" stroke-width="0.6" />
<line x1="12.60" y1="542.72" x2="13.80" y2="542.72" stroke="#444" stroke-width="0.6" />
<line x1="11.60" y1="541.95" x2="13.80" y2="541.95" stroke="#222" stroke-width="0.9" />
<line x1="12.60" y1="536.91" x2="13.80" y2="536.91" stroke="#444" stroke-width="0.6" />
<line x1="12.60" y1="533.96" x2="13.80" y2="533.96" stroke="#444" stroke-width="0.6" />
<line x1="12.60" y1="531.87" x2="13.80" y2="531.87" stroke="#444" stroke-width="0.6" />
<line x1="12.60" y1="530.24" x2="13.80" y2="530.24" stroke="#444" stroke-width="0.6" />
<line x1="12.60" y1="528.92" x2="13.80" y2="528.92" stroke="#444" stroke-width="0.6" />
<line x1="12.60" y1="527.79" x2="13.80" y2="527.79" stroke="#444" stroke-width="0.6" />
<line x1="12.60" y1="526.82" x2="13.80" y2="526.82" stroke="#444" stroke-width="0.6" />
<line x1="12.60" y1="525.97" x2="13.80" y2="525.97" stroke="#444" stroke-width="0.6" />
<line x1="11.60" y1="525.20" x2="13.80" y2="525.20" stroke="#222" stroke-width="0.9" />
<line x1="12.60" y1="520.16" x2="13.80" y2="520.16" stroke="#444" stroke-width="0.6" />
<line x1="12.60" y1="517.21" x2="13.80" y2="517.21" stroke="#444" stroke-width="0.6" />
<line x1="12.60" y1="515.12" x2="13.80" y2="515.12" stroke="#444" stroke-width="0.6" />
<line x1="12.60" y1="513.49" x2="13.80" y2="513.49" stroke="#444" stroke-width="0.6" />
<line x1="12.60" y1="512.17" x2="13.80" y2="512.17" stroke="#444" stroke-width="0.6" />
<line x1="12.60" y1="511.04" x2="13.80" y2="511.04" stroke="#444" stroke-width="0.6" />
<line x1="12.60" y1="510.07" x2="13.80" y2="510.07" stroke="#444" stroke-width="0.6" />
<line x1="12.60" y1="509.22" x2="13.80" y2="509.22" stroke="#444" stroke-width="0.6" />
<line x1="11.60" y1="508.45" x2="13.80" y2="508.45" stroke="#222" stroke-width="0.9" />
<line x1="16.50" y1="592.20" x2="16.50" y2="594.40" stroke="#222" stroke-width="0.9" />
<line x1="23.94" y1="592.20" x2="23.94" y2="593.60" stroke="#444" stroke-width="0.6" />
<line x1="28.28" y1="592.20" x2="28.28" y2="593.60" stroke="#444" stroke-width="0.6" />
<line x1="31.37" y1="592.20" x2="31.37" y2="593.60" stroke="#444" stroke-width="0.6" />
<line x1="33.76" y1="592.20" x2="33.76" y2="593.60" stroke="#444" stroke-width="0.6" />
<line x1="35.72" y1="592.20" x2="35.72" y2="593.60" stroke="#444" stroke-width="0.6" />
<line x1="37.37" y1="592.20" x2="37.37" y2="593.60" stroke="#444" stroke-width="0.6" />
<line x1="38.81" y1="592.20" x2="38.81" y2="593.60" stroke="#444" stroke-width="0.6" />
<line x1="40.07" y1="592.20" x2="40.07" y2="593.60" stroke="#444" stroke-width="0.6" />
<line x1="41.20" y1="592.20" x2="41.20" y2="594.40" stroke="#222" stroke-width="0.9" />
<line x1="48.64" y1="592.20" x2="48.64" y2="593.60" stroke="#444" stroke-width="0.6" />
<line x1="52.98" y1="592.20" x2="52.98" y2="593.60" stroke="#444" stroke-width="0.6" />
<line x1="56.07" y1="592.20" x2="56.07" y2="593.60" stroke="#444" stroke-width="0.6" />
<line x1="58.46" y1="592.20" x2="58.46" y2="593.60" stroke="#444" stroke-width="0.6" />
<line x1="60.42" y1="592.20" x2="60.42" y2="593.60" stroke="#444" stroke-width="0.6" />
<line x1="62.07" y1="592.20" x2="62.07" y2="593.60" stroke="#444" stroke-width="0.6" />
<line x1="63.51" y1="592.20" x2="63.51" y2="593.60" stroke="#444" stroke-width="0.6" />
<line x1="64.77" y1="592.20" x2="64.77" y2="593.60" stroke="#444" stroke-width="0.6" />
<line x1="65.90" y1="592.20" x2="65.90" y2="594.40" stroke="#222" stroke-width="0.9" />
<line x1="73.34" y1="592.20" x2="73.34" y2="593.60" stroke="#444" stroke-width="0.6" />
<line x1="77.68" y1="592.20" x2="77.68" y2="593.60" stroke="#444" stroke-width="0.6" />
<line x1="80.77" y1="592.20" x2="80.77" y2="593.60" stroke="#444" stroke-width="0.6" />
<line x1="83.16" y1="592.20" x2="83.16" y2="593.60" stroke="#444" stroke-width="0.6" />
<line x1="85.12" y1="592.20" x2="85.12" y2="593.60" stroke="#444" stroke-width="0.6" />
<line x1="86.77" y1="592.20" x2="86.77" y2="593.60" stroke="#444" stroke-width="0.6" />
<line x1="88.21" y1="592.20" x2="88.21" y2="593.60" stroke="#444" stroke-width="0.6" />
<line x1="89.47" y1="592.20" x2="89.47" y2="593.60" stroke="#444" stroke-width="0.6" />
<line x1="90.60" y1="592.20" x2="90.60" y2="594.40" stroke="#222" stroke-width="0.9" />
<line x1="98.04" y1="592.20" x2="98.04" y2="593.60" stroke="#444" stroke-width="0.6" />
<line x1="102.38" y1="592.20" x2="102.38" y2="593.60" stroke="#444" stroke-width="0.6" />
<line x1="105.47" y1="592.20" x2="105.47" y2="593.60" stroke="#444" stroke-width="0.6" />
<line x1="107.86" y1="592.20" x2="107.86" y2="593.60" stroke="#444" stroke-width="0.6" />
<line x1="109.82" y1="592.20" x2="109.82" y2="593.60" stroke="#444" stroke-width="0.6" />
<line x1="111.47" y1="592.20" x2="111.47" y2="593.60" stroke="#444" stroke-width="0.6" />
<line x1="112.91" y1="592.20" x2="112.91" y2="593.60" stroke="#444" stroke-width="0.6" />
<line x1="114.17" y1="592.20" x2="114.17" y2="593.60" stroke="#444" stroke-width="0.6" />
<line x1="115.30" y1="592.20" x2="115.30" y2="594.40" stroke="#222" stroke-width="0.9" />
<text x="57.20" y="605.60" font-size="9.3" textLength="16.20" lengthAdjust="spacingAndGlyphs" >Bcl-2</text>
<line x1="127.00" y1="527.20" x2="135.80" y2="527.20" stroke="#c92232" stroke-width="1.6" />
<line x1="127.00" y1="548.20" x2="135.80" y2="548.20" stroke="#115286" stroke-width="1.6" />
<line x1="127.00" y1="568.20" x2="135.80" y2="568.20" stroke="#3db54a" stroke-width="1.6" />
<text x="138.60" y="530.90" font-size="8.2" textLength="15.10" lengthAdjust="spacingAndGlyphs" >CD8</text>
<text x="153.90" y="528.10" font-size="4.4" fill="#444" textLength="7.00" lengthAdjust="spacingAndGlyphs" style="stroke-width:0px" >pos</text>
<text x="160.90" y="530.90" font-size="8.2" textLength="16.60" lengthAdjust="spacingAndGlyphs" >TCRβ</text>
<text x="177.50" y="528.10" font-size="4.4" fill="#444" textLength="9.40" lengthAdjust="spacingAndGlyphs" style="stroke-width:0px" >neg</text>
<text x="138.60" y="551.20" font-size="8.2" textLength="15.10" lengthAdjust="spacingAndGlyphs" >CD4</text>
<text x="153.90" y="548.40" font-size="4.4" fill="#444" textLength="7.00" lengthAdjust="spacingAndGlyphs" style="stroke-width:0px" >pos</text>
<text x="160.90" y="551.20" font-size="8.2" textLength="16.60" lengthAdjust="spacingAndGlyphs" >TCRβ</text>
<text x="177.50" y="548.40" font-size="4.4" fill="#444" textLength="9.40" lengthAdjust="spacingAndGlyphs" style="stroke-width:0px" >pos</text>
<text x="138.10" y="571.30" font-size="7.8" textLength="17.70" lengthAdjust="spacingAndGlyphs" >FMO</text>
<line x1="235.50" y1="493.70" x2="235.50" y2="590.90" stroke="#444" stroke-width="1.6" />
<line x1="234.30" y1="590.30" x2="337.30" y2="590.30" stroke="#333" stroke-width="1.5" />
<line x1="233.70" y1="590.30" x2="235.50" y2="590.30" stroke="#333" stroke-width="1.2" />
<text x="222.40" y="591.60" font-size="8.6" textLength="4.30" lengthAdjust="spacingAndGlyphs" >0</text>
<line x1="233.70" y1="571.10" x2="235.50" y2="571.10" stroke="#333" stroke-width="1.2" />
<text x="231.10" y="574.10" font-size="8.8" text-anchor="end" textLength="8.80" lengthAdjust="spacingAndGlyphs" >10</text>
<line x1="233.70" y1="551.90" x2="235.50" y2="551.90" stroke="#333" stroke-width="1.2" />
<text x="231.10" y="554.90" font-size="8.8" text-anchor="end" textLength="8.80" lengthAdjust="spacingAndGlyphs" >20</text>
<line x1="233.70" y1="532.70" x2="235.50" y2="532.70" stroke="#333" stroke-width="1.2" />
<text x="231.10" y="535.70" font-size="8.8" text-anchor="end" textLength="8.80" lengthAdjust="spacingAndGlyphs" >30</text>
<line x1="233.70" y1="513.50" x2="235.50" y2="513.50" stroke="#333" stroke-width="1.2" />
<text x="231.10" y="516.50" font-size="8.8" text-anchor="end" textLength="8.80" lengthAdjust="spacingAndGlyphs" >40</text>
<line x1="233.70" y1="494.30" x2="235.50" y2="494.30" stroke="#333" stroke-width="1.2" />
<text x="231.10" y="497.30" font-size="8.8" text-anchor="end" textLength="8.80" lengthAdjust="spacingAndGlyphs" >50</text>
<text x="277.80" y="491.20" font-size="9.8" textLength="22.90" lengthAdjust="spacingAndGlyphs" >12895</text>
<rect x="282.30" y="509.60" width="7.30" height="7.00" fill="#c92232" />
<text x="292.20" y="516.60" font-size="8.6" textLength="25.10" lengthAdjust="spacingAndGlyphs" >No IL-7</text>
<rect x="282.30" y="523.20" width="7.30" height="7.00" fill="#115286" />
<text x="292.20" y="530.20" font-size="8.6" textLength="31.00" lengthAdjust="spacingAndGlyphs" >With IL-7</text>
<line x1="243.50" y1="547.29" x2="243.50" y2="549.21" stroke="#222" stroke-width="1.1" />
<line x1="241.90" y1="547.29" x2="245.10" y2="547.29" stroke="#222" stroke-width="1.1" />
<rect x="240.30" y="549.21" width="6.40" height="41.09" fill="#c92232" />
<line x1="253.10" y1="517.34" x2="253.10" y2="519.26" stroke="#222" stroke-width="1.1" />
<line x1="251.50" y1="517.34" x2="254.70" y2="517.34" stroke="#222" stroke-width="1.1" />
<rect x="249.90" y="519.26" width="6.40" height="71.04" fill="#115286" />
<line x1="248.30" y1="590.30" x2="248.30" y2="591.90" stroke="#333" stroke-width="1" />
<line x1="243.90" y1="596.50" x2="253.10" y2="596.50" stroke="#222" stroke-width="1.3" />
<line x1="268.90" y1="564.96" x2="268.90" y2="568.60" stroke="#222" stroke-width="1.1" />
<line x1="267.30" y1="564.96" x2="270.50" y2="564.96" stroke="#222" stroke-width="1.1" />
<rect x="265.70" y="568.60" width="6.40" height="21.70" fill="#c92232" />
<line x1="278.50" y1="554.97" x2="278.50" y2="556.70" stroke="#222" stroke-width="1.1" />
<line x1="276.90" y1="554.97" x2="280.10" y2="554.97" stroke="#222" stroke-width="1.1" />
<rect x="275.30" y="556.70" width="6.40" height="33.60" fill="#115286" />
<line x1="273.70" y1="590.30" x2="273.70" y2="591.90" stroke="#333" stroke-width="1" />
<text x="273.70" y="599.40" font-size="8.8" text-anchor="middle" textLength="10.60" lengthAdjust="spacingAndGlyphs" >0.1</text>
<line x1="294.30" y1="580.51" x2="294.30" y2="581.85" stroke="#222" stroke-width="1.1" />
<line x1="292.70" y1="580.51" x2="295.90" y2="580.51" stroke="#222" stroke-width="1.1" />
<rect x="291.10" y="581.85" width="6.40" height="8.45" fill="#c92232" />
<line x1="303.90" y1="564.00" x2="303.90" y2="565.72" stroke="#222" stroke-width="1.1" />
<line x1="302.30" y1="564.00" x2="305.50" y2="564.00" stroke="#222" stroke-width="1.1" />
<rect x="300.70" y="565.72" width="6.40" height="24.58" fill="#115286" />
<line x1="299.10" y1="590.30" x2="299.10" y2="591.90" stroke="#333" stroke-width="1" />
<text x="299.10" y="599.40" font-size="8.8" text-anchor="middle" textLength="10.60" lengthAdjust="spacingAndGlyphs" >0.2</text>
<line x1="319.70" y1="589.72" x2="319.70" y2="590.20" stroke="#222" stroke-width="1.1" />
<line x1="318.10" y1="589.72" x2="321.30" y2="589.72" stroke="#222" stroke-width="1.1" />
<rect x="316.50" y="590.20" width="6.40" height="0.10" fill="#c92232" />
<line x1="329.30" y1="585.69" x2="329.30" y2="587.23" stroke="#222" stroke-width="1.1" />
<line x1="327.70" y1="585.69" x2="330.90" y2="585.69" stroke="#222" stroke-width="1.1" />
<rect x="326.10" y="587.23" width="6.40" height="3.07" fill="#115286" />
<line x1="324.50" y1="590.30" x2="324.50" y2="591.90" stroke="#333" stroke-width="1" />
<text x="324.50" y="599.40" font-size="8.8" text-anchor="middle" textLength="10.60" lengthAdjust="spacingAndGlyphs" >0.5</text>
<text x="209.30" y="539.00" font-size="9.8" text-anchor="middle" textLength="50.20" lengthAdjust="spacingAndGlyphs" fill="#444" transform="rotate(-90 209.30 539.00)" >Viable cells (%)</text>
<text x="200.40" y="594.50" font-size="9.9" textLength="21.00" lengthAdjust="spacingAndGlyphs" >Venet.</text>
<text x="200.40" y="606.30" font-size="9.9" textLength="17.40" lengthAdjust="spacingAndGlyphs" >(μM)</text>
<line x1="381.80" y1="492.80" x2="381.80" y2="590.00" stroke="#444" stroke-width="1.6" />
<line x1="380.60" y1="589.40" x2="483.60" y2="589.40" stroke="#333" stroke-width="1.5" />
<line x1="380.00" y1="589.40" x2="381.80" y2="589.40" stroke="#333" stroke-width="1.2" />
<text x="378.30" y="592.40" font-size="8.8" text-anchor="end" textLength="4.40" lengthAdjust="spacingAndGlyphs" >0</text>
<line x1="380.00" y1="570.20" x2="381.80" y2="570.20" stroke="#333" stroke-width="1.2" />
<text x="378.30" y="573.20" font-size="8.8" text-anchor="end" textLength="8.80" lengthAdjust="spacingAndGlyphs" >10</text>
<line x1="380.00" y1="551.00" x2="381.80" y2="551.00" stroke="#333" stroke-width="1.2" />
<text x="378.30" y="554.00" font-size="8.8" text-anchor="end" textLength="8.80" lengthAdjust="spacingAndGlyphs" >20</text>
<line x1="380.00" y1="531.80" x2="381.80" y2="531.80" stroke="#333" stroke-width="1.2" />
<text x="378.30" y="534.80" font-size="8.8" text-anchor="end" textLength="8.80" lengthAdjust="spacingAndGlyphs" >30</text>
<line x1="380.00" y1="512.60" x2="381.80" y2="512.60" stroke="#333" stroke-width="1.2" />
<text x="378.30" y="515.60" font-size="8.8" text-anchor="end" textLength="8.80" lengthAdjust="spacingAndGlyphs" >40</text>
<line x1="380.00" y1="493.40" x2="381.80" y2="493.40" stroke="#333" stroke-width="1.2" />
<text x="378.30" y="496.40" font-size="8.8" text-anchor="end" textLength="8.80" lengthAdjust="spacingAndGlyphs" >50</text>
<text x="423.10" y="491.20" font-size="9.8" textLength="22.40" lengthAdjust="spacingAndGlyphs" >14941</text>
<rect x="453.30" y="510.20" width="7.30" height="7.00" fill="#c92232" />
<text x="463.20" y="517.20" font-size="8.6" textLength="25.10" lengthAdjust="spacingAndGlyphs" >No IL-7</text>
<rect x="453.30" y="523.80" width="7.30" height="7.00" fill="#115286" />
<text x="463.20" y="530.80" font-size="8.6" textLength="31.00" lengthAdjust="spacingAndGlyphs" >With IL-7</text>
<line x1="389.80" y1="537.18" x2="389.80" y2="544.28" stroke="#222" stroke-width="1.1" />
<line x1="388.20" y1="537.18" x2="391.40" y2="537.18" stroke="#222" stroke-width="1.1" />
<rect x="386.60" y="544.28" width="6.40" height="45.12" fill="#c92232" />
<line x1="399.40" y1="500.70" x2="399.40" y2="502.62" stroke="#222" stroke-width="1.1" />
<line x1="397.80" y1="500.70" x2="401.00" y2="500.70" stroke="#222" stroke-width="1.1" />
<rect x="396.20" y="502.62" width="6.40" height="86.78" fill="#115286" />
<line x1="394.60" y1="589.40" x2="394.60" y2="591.00" stroke="#333" stroke-width="1" />
<line x1="390.20" y1="595.20" x2="399.40" y2="595.20" stroke="#222" stroke-width="1.3" />
<line x1="415.20" y1="584.41" x2="415.20" y2="587.10" stroke="#222" stroke-width="1.1" />
<line x1="413.60" y1="584.41" x2="416.80" y2="584.41" stroke="#222" stroke-width="1.1" />
<rect x="412.00" y="587.10" width="6.40" height="2.30" fill="#c92232" />
<line x1="424.80" y1="564.06" x2="424.80" y2="566.17" stroke="#222" stroke-width="1.1" />
<line x1="423.20" y1="564.06" x2="426.40" y2="564.06" stroke="#222" stroke-width="1.1" />
<rect x="421.60" y="566.17" width="6.40" height="23.23" fill="#115286" />
<line x1="420.00" y1="589.40" x2="420.00" y2="591.00" stroke="#333" stroke-width="1" />
<text x="420.00" y="599.40" font-size="8.8" text-anchor="middle" textLength="10.60" lengthAdjust="spacingAndGlyphs" >0.1</text>
<rect x="437.40" y="589.21" width="6.40" height="0.19" fill="#c92232" />
<line x1="450.20" y1="570.20" x2="450.20" y2="572.12" stroke="#222" stroke-width="1.1" />
<line x1="448.60" y1="570.20" x2="451.80" y2="570.20" stroke="#222" stroke-width="1.1" />
<rect x="447.00" y="572.12" width="6.40" height="17.28" fill="#115286" />
<line x1="445.40" y1="589.40" x2="445.40" y2="591.00" stroke="#333" stroke-width="1" />
<text x="445.40" y="599.40" font-size="8.8" text-anchor="middle" textLength="10.60" lengthAdjust="spacingAndGlyphs" >0.2</text>
<line x1="466.00" y1="587.86" x2="466.00" y2="588.44" stroke="#222" stroke-width="1.1" />
<line x1="464.40" y1="587.86" x2="467.60" y2="587.86" stroke="#222" stroke-width="1.1" />
<rect x="462.80" y="588.44" width="6.40" height="0.96" fill="#c92232" />
<line x1="475.60" y1="584.98" x2="475.60" y2="586.90" stroke="#222" stroke-width="1.1" />
<line x1="474.00" y1="584.98" x2="477.20" y2="584.98" stroke="#222" stroke-width="1.1" />
<rect x="472.40" y="586.90" width="6.40" height="2.50" fill="#115286" />
<line x1="470.80" y1="589.40" x2="470.80" y2="591.00" stroke="#333" stroke-width="1" />
<text x="470.80" y="599.40" font-size="8.8" text-anchor="middle" textLength="10.60" lengthAdjust="spacingAndGlyphs" >0.5</text>
<text x="358.40" y="540.50" font-size="9.8" text-anchor="middle" textLength="50.20" lengthAdjust="spacingAndGlyphs" fill="#444" transform="rotate(-90 358.40 540.50)" >Viable cells (%)</text>
<text x="269.20" y="562.20" font-size="8.2" text-anchor="middle" textLength="3.40" lengthAdjust="spacingAndGlyphs" fill="#333" >§</text>
<text x="278.80" y="552.80" font-size="7.6" text-anchor="middle" textLength="3.00" lengthAdjust="spacingAndGlyphs" fill="#333" >#</text>
<text x="294.40" y="578.10" font-size="8.2" text-anchor="middle" textLength="3.40" lengthAdjust="spacingAndGlyphs" fill="#333" >§</text>
<text x="304.20" y="562.60" font-size="7.6" text-anchor="middle" textLength="3.00" lengthAdjust="spacingAndGlyphs" fill="#333" >#</text>
<text x="319.40" y="586.90" font-size="8.2" text-anchor="middle" textLength="3.40" lengthAdjust="spacingAndGlyphs" fill="#333" >§</text>
<text x="329.50" y="584.10" font-size="7.6" text-anchor="middle" textLength="3.00" lengthAdjust="spacingAndGlyphs" fill="#333" >#</text>
<text x="414.30" y="582.90" font-size="8.2" text-anchor="middle" textLength="3.40" lengthAdjust="spacingAndGlyphs" fill="#333" >§</text>
<text x="424.00" y="562.60" font-size="7.6" text-anchor="middle" textLength="3.00" lengthAdjust="spacingAndGlyphs" fill="#333" >#</text>
<text x="440.20" y="585.90" font-size="8.2" text-anchor="middle" textLength="3.40" lengthAdjust="spacingAndGlyphs" fill="#333" >§</text>
<text x="449.50" y="567.70" font-size="7.6" text-anchor="middle" textLength="3.00" lengthAdjust="spacingAndGlyphs" fill="#333" >#</text>
<text x="465.60" y="582.80" font-size="8.2" text-anchor="middle" textLength="3.40" lengthAdjust="spacingAndGlyphs" fill="#333" >§</text>
<text x="474.90" y="582.30" font-size="7.6" text-anchor="middle" textLength="3.00" lengthAdjust="spacingAndGlyphs" fill="#333" >#</text>
<rect x="0.5" y="0.5" width="519" height="614" fill="none" stroke="#1a1a1a" stroke-width="1.2"/>
</svg>
</body></html>
